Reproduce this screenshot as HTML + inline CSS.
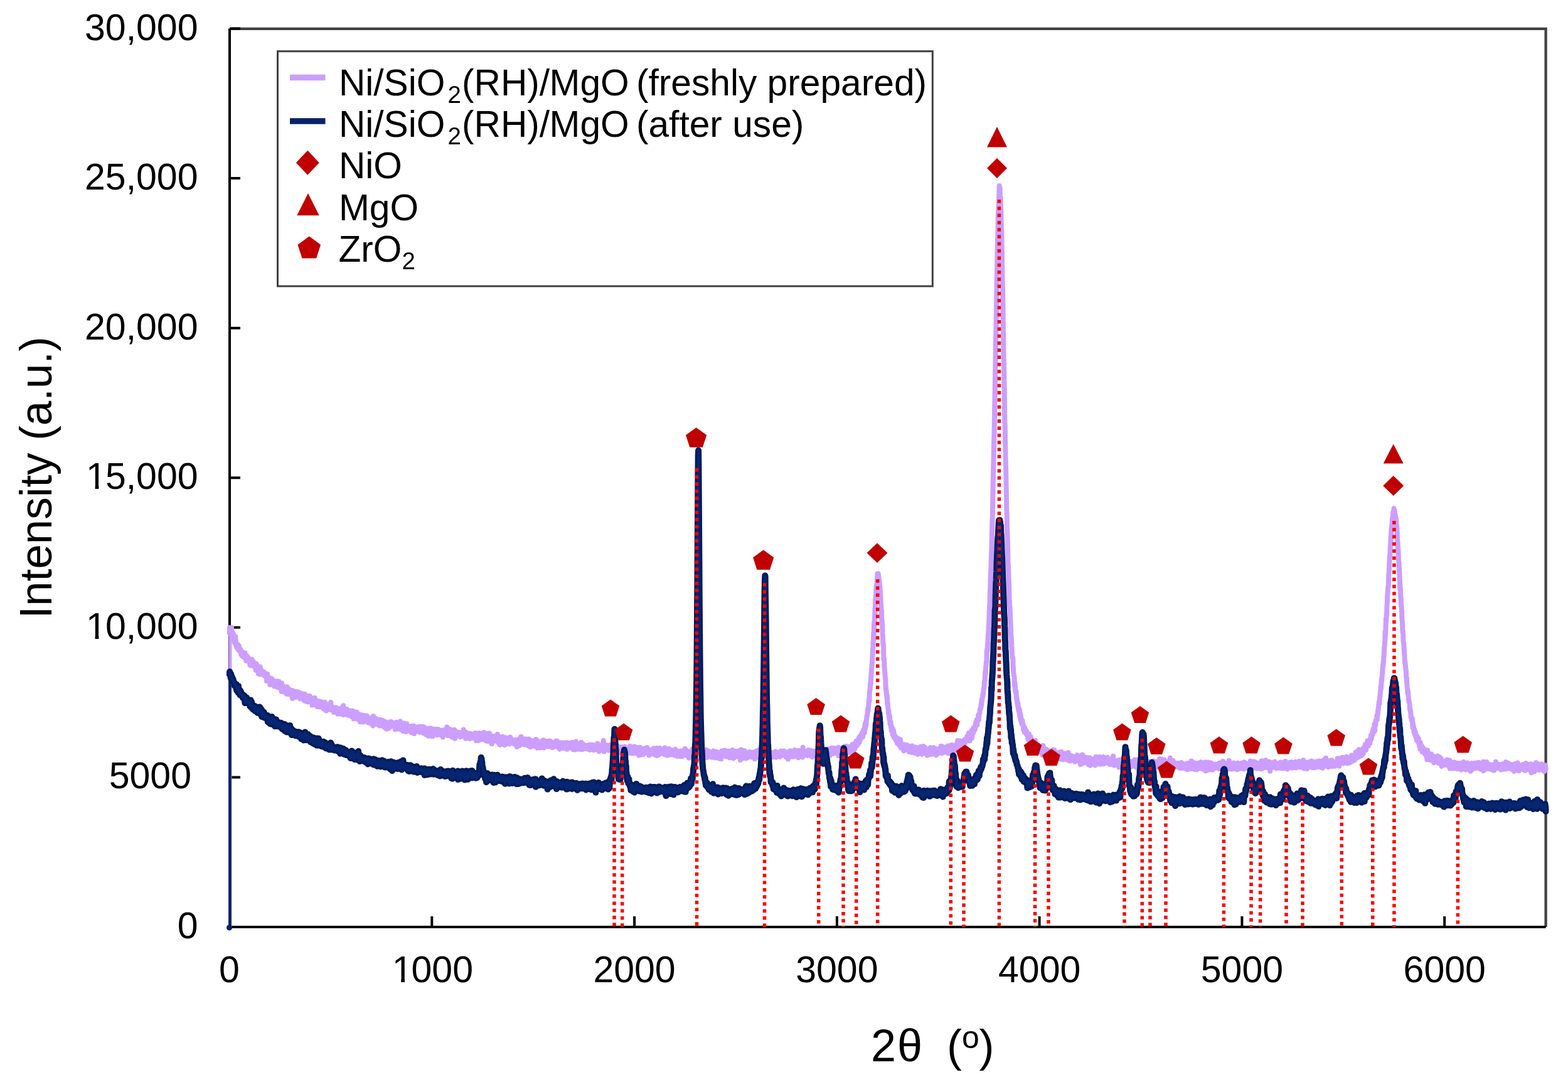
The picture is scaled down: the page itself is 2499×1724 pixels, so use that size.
<!DOCTYPE html><html><head><meta charset="utf-8"><style>html,body{margin:0;padding:0;background:#fff;overflow:hidden;}svg{display:block;}</style></head><body><svg width="2499" height="1724" viewBox="0 0 2499 1724">
<rect width="100%" height="100%" fill="#ffffff"/>
<path d="M366,45.8 H2463.6 V1477" fill="none" stroke="#424242" stroke-width="4.3"/>
<path d="M366,45.5 V1477 H2463.6" fill="none" stroke="#000" stroke-width="4"/>
<path d="M366,1477.0 H383 M366,1238.4 H383 M366,999.8 H383 M366,761.2 H383 M366,522.7 H383 M366,284.1 H383 M366,45.5 H383 M688.3,1477 V1460 M1011.1,1477 V1460 M1333.9,1477 V1460 M1656.6,1477 V1460 M1979.4,1477 V1460 M2302.2,1477 V1460" stroke="#000" stroke-width="4" fill="none"/>
<line x1="367" y1="1477" x2="367" y2="1008.6" stroke="#CC9EFF" stroke-width="5"/>
<polyline fill="none" stroke="#CC9EFF" stroke-width="8" stroke-linejoin="round" stroke-linecap="round" points="365.8,1008.6 366.1,999.9 366.5,1006.8 366.8,1004.8 367.1,1004.2 367.4,1006.4 367.8,1009.0 368.1,1003.2 368.4,1004.9 368.7,1013.1 369.1,1000.0 369.4,1005.2 369.7,1011.5 370.0,1006.9 370.3,1012.0 370.7,1011.4 371.0,1009.4 371.3,1016.8 371.6,1011.8 372.0,1010.0 372.3,1011.1 372.6,1017.1 372.9,1014.1 373.2,1022.9 373.6,1019.1 373.9,1018.0 374.2,1024.5 374.5,1021.3 374.9,1016.3 375.2,1014.3 375.5,1020.8 375.8,1021.4 376.2,1027.7 376.5,1029.3 376.8,1030.6 377.1,1025.2 377.4,1025.3 377.8,1030.4 378.1,1032.9 378.4,1029.0 378.7,1029.3 379.1,1031.2 379.4,1027.2 379.7,1032.0 380.0,1032.3 380.3,1036.0 380.7,1032.6 381.0,1029.2 381.3,1033.7 381.6,1034.1 382.0,1033.4 382.3,1034.4 382.6,1034.0 382.9,1034.5 383.3,1034.7 383.6,1039.5 383.9,1036.5 384.2,1042.9 384.5,1037.5 384.9,1042.7 385.2,1039.4 385.5,1038.1 385.8,1041.3 386.2,1040.0 386.5,1045.8 386.8,1043.8 387.1,1039.3 387.4,1045.4 387.8,1040.2 388.1,1046.9 388.4,1045.8 388.7,1046.7 389.1,1043.7 389.4,1042.5 389.7,1047.8 390.0,1045.4 390.4,1040.2 390.7,1046.6 391.0,1048.5 391.3,1045.2 391.6,1047.4 392.0,1049.2 392.3,1052.9 392.6,1045.2 392.9,1049.9 393.3,1048.4 393.6,1052.1 393.9,1045.2 394.2,1047.2 394.6,1046.8 394.9,1050.5 395.2,1049.1 395.5,1048.2 395.8,1048.1 396.2,1050.6 396.5,1052.1 396.8,1053.4 397.1,1054.9 397.5,1055.8 397.8,1052.0 398.1,1054.2 398.4,1059.8 398.7,1054.4 399.1,1051.0 399.4,1055.3 399.7,1060.4 400.0,1055.4 400.4,1052.9 400.7,1055.0 401.0,1057.1 401.3,1050.5 401.7,1050.6 402.0,1056.9 402.3,1054.4 402.6,1056.0 402.9,1055.1 403.3,1053.3 403.6,1055.5 403.9,1058.0 404.2,1060.6 404.6,1061.4 404.9,1059.3 405.2,1056.0 405.5,1058.9 405.8,1059.9 406.2,1059.6 406.5,1060.6 406.8,1059.4 407.1,1064.7 407.5,1067.6 407.8,1063.2 408.1,1065.7 408.4,1057.6 408.8,1063.3 409.1,1063.9 409.4,1068.1 409.7,1062.9 410.0,1065.9 410.4,1060.9 410.7,1062.0 411.0,1067.2 411.3,1063.9 411.7,1073.6 412.0,1067.7 412.3,1062.2 412.6,1063.8 412.9,1065.9 413.3,1066.8 413.6,1071.3 413.9,1071.4 414.2,1066.9 414.6,1062.5 414.9,1074.6 415.2,1066.5 415.5,1066.8 415.9,1066.0 416.2,1071.8 416.5,1071.2 416.8,1069.8 417.1,1073.4 417.5,1074.4 417.8,1073.7 418.1,1071.7 418.4,1070.7 418.8,1072.3 419.1,1072.4 419.4,1075.0 419.7,1075.5 420.1,1070.4 420.4,1074.3 420.7,1074.7 421.0,1072.1 421.3,1071.5 421.7,1071.8 422.0,1074.8 422.3,1076.5 422.6,1075.8 423.0,1076.5 423.3,1073.2 423.6,1076.8 423.9,1076.1 424.2,1078.4 424.6,1074.6 424.9,1085.1 425.2,1078.2 425.5,1077.5 425.9,1083.5 426.2,1074.0 426.5,1081.2 426.8,1081.5 427.2,1084.6 427.5,1079.1 427.8,1081.4 428.1,1084.1 428.4,1082.1 428.8,1081.0 429.1,1079.7 429.4,1082.9 429.7,1086.6 430.1,1085.6 430.4,1091.0 430.7,1086.6 431.0,1082.5 431.3,1083.5 431.7,1085.4 432.0,1086.4 432.3,1080.9 432.6,1085.0 433.0,1083.4 433.3,1085.1 433.6,1088.5 433.9,1082.2 434.3,1090.6 434.6,1090.7 434.9,1088.7 435.2,1089.8 435.5,1089.4 435.9,1089.8 436.2,1085.3 436.5,1088.2 436.8,1087.5 437.2,1093.4 437.5,1091.4 437.8,1086.0 438.1,1092.8 438.4,1086.1 438.8,1092.7 439.1,1089.0 439.4,1092.5 439.7,1089.7 440.1,1093.1 440.4,1091.4 440.7,1086.0 441.0,1092.1 441.4,1085.3 441.7,1092.7 442.0,1095.0 442.3,1091.6 442.6,1093.2 443.0,1087.0 443.3,1089.8 443.6,1089.1 443.9,1090.9 444.3,1085.7 444.6,1090.8 444.9,1091.7 445.2,1095.9 445.6,1096.3 445.9,1093.3 446.2,1091.1 446.5,1091.0 446.8,1097.1 447.2,1093.1 447.5,1094.2 447.8,1098.2 448.1,1093.7 448.5,1101.9 448.8,1094.8 449.1,1088.6 449.4,1098.9 449.7,1096.0 450.1,1101.8 450.4,1098.7 450.7,1094.5 451.0,1099.9 451.4,1097.1 451.7,1098.3 452.0,1098.5 452.3,1097.1 452.7,1096.4 453.0,1094.4 453.3,1095.7 453.6,1099.9 453.9,1094.3 454.3,1095.0 454.6,1103.3 454.9,1097.0 455.2,1096.6 455.6,1096.4 455.9,1097.7 456.2,1103.2 456.5,1100.4 456.8,1105.8 457.2,1100.4 457.5,1094.2 457.8,1098.2 458.1,1097.9 458.5,1102.0 458.8,1103.6 459.1,1103.9 459.4,1100.6 459.8,1103.4 460.1,1103.1 460.4,1098.1 460.7,1106.3 461.0,1105.5 461.4,1103.3 461.7,1102.3 462.0,1102.5 462.3,1106.4 462.7,1101.9 463.0,1103.0 463.3,1101.7 463.6,1106.0 463.9,1102.3 464.3,1102.6 464.6,1105.3 464.9,1104.1 465.2,1105.3 465.6,1099.9 465.9,1113.0 466.2,1108.3 466.5,1109.2 466.9,1105.5 467.2,1106.5 467.5,1105.9 467.8,1102.8 468.1,1109.7 468.5,1107.6 468.8,1105.9 469.1,1108.9 469.4,1104.5 469.8,1104.8 470.1,1107.9 470.4,1111.2 470.7,1101.5 471.1,1104.9 471.4,1105.2 471.7,1106.4 472.0,1106.8 472.3,1104.5 472.7,1107.1 473.0,1109.0 473.3,1105.3 473.6,1107.3 474.0,1109.9 474.3,1110.4 474.6,1104.6 474.9,1106.3 475.2,1102.5 475.6,1109.9 475.9,1110.7 476.2,1107.5 476.5,1104.8 476.9,1107.2 477.2,1107.9 477.5,1103.8 477.8,1111.6 478.2,1113.2 478.5,1111.8 478.8,1110.7 479.1,1108.8 479.4,1107.0 479.8,1108.9 480.1,1105.8 480.4,1112.7 480.7,1104.9 481.1,1112.9 481.4,1107.3 481.7,1113.5 482.0,1109.9 482.3,1110.9 482.7,1109.6 483.0,1109.0 483.3,1112.0 483.6,1111.6 484.0,1110.9 484.3,1115.5 484.6,1113.9 484.9,1116.6 485.3,1112.0 485.6,1105.7 485.9,1110.1 486.2,1114.9 486.5,1114.5 486.9,1109.7 487.2,1114.1 487.5,1117.5 487.8,1115.9 488.2,1116.1 488.5,1116.1 488.8,1111.3 489.1,1113.1 489.4,1117.8 489.8,1115.1 490.1,1117.0 490.4,1117.3 490.7,1118.3 491.1,1109.0 491.4,1115.1 491.7,1112.7 492.0,1112.0 492.4,1115.7 492.7,1113.2 493.0,1113.3 493.3,1114.4 493.6,1108.9 494.0,1114.5 494.3,1116.2 494.6,1113.8 494.9,1110.6 495.3,1113.1 495.6,1117.5 495.9,1118.7 496.2,1119.1 496.6,1118.5 496.9,1115.6 497.2,1114.4 497.5,1123.6 497.8,1117.2 498.2,1120.5 498.5,1115.5 498.8,1114.9 499.1,1120.0 499.5,1119.2 499.8,1120.8 500.1,1117.0 500.4,1123.0 500.7,1121.7 501.1,1120.6 501.4,1115.2 501.7,1111.9 502.0,1119.0 502.4,1122.8 502.7,1119.1 503.0,1122.0 503.3,1118.3 503.7,1123.0 504.0,1121.0 504.3,1120.1 504.6,1118.7 504.9,1120.5 505.3,1116.8 505.6,1120.2 505.9,1126.0 506.2,1118.2 506.6,1121.8 506.9,1123.1 507.2,1116.9 507.5,1124.3 507.8,1121.3 508.2,1123.8 508.5,1117.9 508.8,1123.0 509.1,1121.4 509.5,1126.3 509.8,1118.2 510.1,1125.6 510.4,1120.0 510.8,1119.6 511.1,1119.3 511.4,1117.8 511.7,1126.6 512.0,1122.2 512.4,1123.1 512.7,1122.4 513.0,1120.6 513.3,1123.6 513.7,1126.4 514.0,1124.4 514.3,1119.8 514.6,1127.8 514.9,1124.3 515.3,1127.5 515.6,1121.6 515.9,1129.7 516.2,1126.1 516.6,1125.5 516.9,1124.9 517.2,1118.5 517.5,1120.9 517.9,1128.5 518.2,1119.4 518.5,1129.2 518.8,1131.2 519.1,1130.3 519.5,1125.4 519.8,1124.6 520.1,1132.6 520.4,1125.0 520.8,1127.2 521.1,1124.4 521.4,1127.7 521.7,1124.1 522.1,1125.1 522.4,1130.3 522.7,1122.8 523.0,1126.4 523.3,1125.0 523.7,1123.6 524.0,1130.2 524.3,1127.7 524.6,1129.9 525.0,1130.3 525.3,1126.9 525.6,1126.8 525.9,1124.0 526.2,1124.0 526.6,1128.1 526.9,1130.6 527.2,1119.0 527.5,1122.1 527.9,1128.8 528.2,1131.2 528.5,1129.9 528.8,1127.9 529.2,1125.5 529.5,1126.1 529.8,1127.7 530.1,1129.8 530.4,1128.7 530.8,1130.1 531.1,1129.1 531.4,1129.7 531.7,1128.0 532.1,1135.1 532.4,1130.7 532.7,1130.6 533.0,1133.1 533.3,1130.4 533.7,1133.1 534.0,1132.0 534.3,1131.0 534.6,1131.0 535.0,1132.0 535.3,1127.3 535.6,1130.0 535.9,1129.7 536.3,1130.0 536.6,1132.7 536.9,1133.5 537.2,1128.5 537.5,1132.1 537.9,1136.3 538.2,1137.6 538.5,1130.7 538.8,1133.6 539.2,1131.7 539.5,1133.2 539.8,1132.9 540.1,1132.3 540.4,1135.5 540.8,1132.0 541.1,1129.2 541.4,1130.1 541.7,1137.2 542.1,1136.2 542.4,1136.2 542.7,1133.2 543.0,1130.1 543.4,1131.7 543.7,1137.8 544.0,1132.6 544.3,1130.5 544.6,1134.3 545.0,1127.5 545.3,1135.0 545.6,1129.8 545.9,1126.5 546.3,1137.1 546.6,1134.4 546.9,1131.9 547.2,1124.3 547.6,1138.9 547.9,1132.2 548.2,1133.1 548.5,1135.2 548.8,1136.5 549.2,1135.7 549.5,1135.1 549.8,1138.0 550.1,1129.8 550.5,1137.7 550.8,1135.8 551.1,1136.6 551.4,1135.9 551.7,1134.6 552.1,1137.1 552.4,1135.7 552.7,1130.1 553.0,1132.1 553.4,1136.1 553.7,1132.7 554.0,1137.7 554.3,1134.9 554.7,1139.7 555.0,1139.0 555.3,1138.3 555.6,1132.3 555.9,1135.3 556.3,1134.4 556.6,1135.7 556.9,1135.1 557.2,1135.1 557.6,1134.1 557.9,1136.0 558.2,1139.2 558.5,1138.9 558.8,1133.2 559.2,1132.7 559.5,1135.2 559.8,1141.7 560.1,1132.5 560.5,1136.2 560.8,1137.5 561.1,1137.3 561.4,1138.6 561.8,1132.5 562.1,1132.8 562.4,1140.9 562.7,1138.5 563.0,1137.2 563.4,1134.5 563.7,1145.3 564.0,1135.7 564.3,1133.7 564.7,1139.6 565.0,1138.9 565.3,1135.3 565.6,1137.9 565.9,1143.0 566.3,1142.6 566.6,1142.3 566.9,1143.6 567.2,1139.6 567.6,1141.2 567.9,1139.7 568.2,1137.9 568.5,1134.8 568.9,1139.5 569.2,1145.7 569.5,1136.3 569.8,1140.8 570.1,1137.2 570.5,1142.0 570.8,1139.9 571.1,1141.3 571.4,1141.1 571.8,1137.5 572.1,1143.2 572.4,1140.9 572.7,1140.9 573.1,1142.7 573.4,1148.1 573.7,1140.8 574.0,1150.2 574.3,1146.4 574.7,1143.5 575.0,1141.0 575.3,1139.9 575.6,1140.1 576.0,1140.9 576.3,1143.8 576.6,1139.3 576.9,1143.7 577.2,1139.8 577.6,1149.7 577.9,1146.1 578.2,1145.1 578.5,1143.5 578.9,1150.6 579.2,1141.4 579.5,1141.0 579.8,1141.7 580.2,1145.6 580.5,1140.0 580.8,1145.9 581.1,1141.8 581.4,1144.7 581.8,1144.7 582.1,1145.2 582.4,1144.9 582.7,1141.7 583.1,1140.9 583.4,1141.0 583.7,1142.6 584.0,1143.4 584.3,1144.2 584.7,1140.5 585.0,1147.0 585.3,1147.6 585.6,1145.8 586.0,1150.9 586.3,1146.8 586.6,1146.4 586.9,1149.3 587.3,1148.1 587.6,1144.5 587.9,1147.3 588.2,1146.5 588.5,1143.9 588.9,1148.8 589.2,1150.4 589.5,1147.3 589.8,1146.1 590.2,1152.7 590.5,1145.6 590.8,1148.5 591.1,1148.9 591.4,1150.3 591.8,1148.5 592.1,1145.2 592.4,1146.6 592.7,1145.9 593.1,1149.4 593.4,1143.8 593.7,1144.9 594.0,1148.7 594.4,1156.4 594.7,1148.7 595.0,1141.0 595.3,1149.2 595.6,1152.2 596.0,1144.3 596.3,1151.2 596.6,1148.1 596.9,1147.4 597.3,1154.0 597.6,1149.5 597.9,1146.5 598.2,1151.0 598.6,1148.2 598.9,1150.3 599.2,1147.4 599.5,1145.1 599.8,1153.7 600.2,1151.5 600.5,1149.6 600.8,1152.6 601.1,1153.3 601.5,1151.9 601.8,1151.8 602.1,1153.0 602.4,1150.2 602.7,1148.9 603.1,1149.1 603.4,1149.4 603.7,1148.0 604.0,1155.5 604.4,1151.9 604.7,1151.1 605.0,1150.2 605.3,1156.5 605.7,1146.4 606.0,1154.5 606.3,1151.2 606.6,1149.9 606.9,1149.0 607.3,1154.2 607.6,1153.8 607.9,1151.3 608.2,1150.7 608.6,1149.8 608.9,1152.7 609.2,1154.6 609.5,1156.6 609.8,1147.7 610.2,1156.8 610.5,1150.9 610.8,1152.2 611.1,1150.8 611.5,1150.3 611.8,1149.3 612.1,1153.4 612.4,1152.2 612.8,1159.1 613.1,1153.3 613.4,1156.2 613.7,1154.1 614.0,1150.1 614.4,1153.4 614.7,1150.7 615.0,1154.5 615.3,1152.8 615.7,1155.2 616.0,1161.5 616.3,1156.2 616.6,1155.0 616.9,1153.9 617.3,1154.4 617.6,1154.8 617.9,1151.8 618.2,1152.8 618.6,1155.8 618.9,1152.2 619.2,1160.6 619.5,1155.7 619.9,1155.4 620.2,1151.2 620.5,1156.6 620.8,1159.4 621.1,1154.7 621.5,1150.3 621.8,1155.9 622.1,1155.6 622.4,1156.0 622.8,1155.3 623.1,1151.7 623.4,1149.9 623.7,1154.3 624.1,1156.0 624.4,1150.4 624.7,1155.5 625.0,1155.7 625.3,1157.0 625.7,1156.9 626.0,1155.3 626.3,1156.9 626.6,1154.9 627.0,1155.9 627.3,1154.7 627.6,1157.4 627.9,1157.0 628.2,1155.7 628.6,1156.3 628.9,1156.3 629.2,1153.2 629.5,1159.8 629.9,1162.4 630.2,1154.7 630.5,1157.5 630.8,1153.0 631.2,1157.2 631.5,1160.4 631.8,1150.7 632.1,1156.0 632.4,1158.5 632.8,1159.4 633.1,1155.7 633.4,1159.3 633.7,1156.3 634.1,1154.1 634.4,1161.6 634.7,1158.6 635.0,1156.3 635.3,1152.9 635.7,1155.1 636.0,1159.2 636.3,1153.7 636.6,1159.0 637.0,1158.5 637.3,1157.0 637.6,1161.3 637.9,1149.3 638.3,1154.8 638.6,1157.7 638.9,1160.0 639.2,1161.8 639.5,1157.4 639.9,1156.5 640.2,1159.8 640.5,1159.2 640.8,1157.1 641.2,1158.9 641.5,1164.2 641.8,1156.9 642.1,1158.2 642.4,1156.8 642.8,1161.2 643.1,1165.2 643.4,1162.7 643.7,1158.3 644.1,1153.1 644.4,1152.4 644.7,1158.4 645.0,1163.5 645.4,1160.3 645.7,1158.1 646.0,1158.2 646.3,1159.2 646.6,1155.7 647.0,1162.2 647.3,1165.9 647.6,1162.2 647.9,1163.1 648.3,1153.3 648.6,1160.4 648.9,1164.0 649.2,1158.1 649.6,1157.1 649.9,1159.9 650.2,1159.5 650.5,1157.1 650.8,1158.7 651.2,1162.2 651.5,1158.5 651.8,1157.6 652.1,1159.4 652.5,1157.9 652.8,1158.7 653.1,1161.2 653.4,1161.0 653.7,1158.8 654.1,1162.2 654.4,1157.3 654.7,1157.2 655.0,1166.7 655.4,1161.0 655.7,1163.0 656.0,1162.8 656.3,1160.5 656.7,1161.5 657.0,1159.4 657.3,1160.2 657.6,1160.1 657.9,1163.5 658.3,1162.3 658.6,1157.1 658.9,1168.5 659.2,1156.4 659.6,1163.1 659.9,1158.1 660.2,1169.0 660.5,1162.8 660.8,1159.1 661.2,1161.2 661.5,1158.8 661.8,1164.3 662.1,1163.4 662.5,1163.7 662.8,1160.4 663.1,1160.6 663.4,1162.3 663.8,1162.8 664.1,1162.9 664.4,1161.8 664.7,1164.9 665.0,1162.3 665.4,1162.6 665.7,1163.8 666.0,1164.0 666.3,1158.1 666.7,1164.2 667.0,1161.2 667.3,1158.5 667.6,1160.4 667.9,1162.5 668.3,1159.7 668.6,1166.8 668.9,1166.3 669.2,1163.9 669.6,1163.4 669.9,1163.1 670.2,1157.4 670.5,1158.0 670.9,1163.1 671.2,1162.3 671.5,1165.7 671.8,1162.2 672.1,1167.0 672.5,1159.1 672.8,1164.7 673.1,1161.7 673.4,1167.1 673.8,1159.3 674.1,1161.6 674.4,1157.8 674.7,1163.3 675.1,1168.2 675.4,1165.8 675.7,1167.3 676.0,1159.1 676.3,1165.5 676.7,1165.9 677.0,1162.1 677.3,1163.1 677.6,1162.4 678.0,1165.4 678.3,1169.8 678.6,1168.0 678.9,1170.4 679.2,1160.4 679.6,1161.5 679.9,1165.3 680.2,1162.4 680.5,1162.3 680.9,1162.5 681.2,1162.8 681.5,1161.8 681.8,1164.2 682.2,1170.9 682.5,1172.6 682.8,1160.9 683.1,1162.9 683.4,1172.0 683.8,1164.2 684.1,1167.3 684.4,1166.4 684.7,1172.4 685.1,1162.7 685.4,1165.2 685.7,1162.6 686.0,1161.9 686.3,1161.3 686.7,1160.3 687.0,1164.3 687.3,1164.6 687.6,1167.1 688.0,1163.8 688.3,1166.0 688.6,1168.8 688.9,1162.0 689.3,1163.4 689.6,1173.3 689.9,1171.0 690.2,1166.3 690.5,1169.6 690.9,1162.1 691.2,1165.2 691.5,1164.1 691.8,1163.1 692.2,1162.0 692.5,1166.7 692.8,1164.1 693.1,1165.3 693.4,1163.7 693.8,1164.5 694.1,1162.0 694.4,1164.6 694.7,1167.6 695.1,1165.9 695.4,1169.6 695.7,1165.4 696.0,1162.0 696.4,1168.2 696.7,1171.3 697.0,1166.8 697.3,1168.1 697.6,1166.6 698.0,1168.4 698.3,1166.5 698.6,1169.7 698.9,1162.3 699.3,1167.5 699.6,1165.4 699.9,1164.7 700.2,1167.4 700.6,1165.7 700.9,1167.8 701.2,1168.4 701.5,1167.8 701.8,1165.8 702.2,1170.9 702.5,1169.9 702.8,1169.7 703.1,1169.0 703.5,1164.0 703.8,1167.5 704.1,1168.4 704.4,1167.1 704.7,1164.5 705.1,1169.8 705.4,1164.7 705.7,1174.5 706.0,1170.3 706.4,1163.5 706.7,1163.3 707.0,1167.3 707.3,1169.1 707.7,1165.5 708.0,1169.2 708.3,1163.5 708.6,1164.6 708.9,1165.9 709.3,1170.6 709.6,1165.3 709.9,1168.9 710.2,1168.9 710.6,1169.5 710.9,1168.7 711.2,1166.9 711.5,1166.0 711.8,1166.0 712.2,1158.6 712.5,1169.5 712.8,1165.2 713.1,1170.5 713.5,1169.2 713.8,1172.1 714.1,1165.2 714.4,1168.0 714.8,1168.4 715.1,1169.2 715.4,1166.2 715.7,1170.4 716.0,1167.8 716.4,1161.7 716.7,1169.5 717.0,1170.9 717.3,1172.1 717.7,1166.8 718.0,1169.0 718.3,1171.4 718.6,1171.7 718.9,1169.2 719.3,1172.3 719.6,1163.3 719.9,1170.0 720.2,1170.0 720.6,1169.8 720.9,1174.8 721.2,1173.8 721.5,1170.7 721.9,1169.7 722.2,1173.3 722.5,1164.8 722.8,1168.4 723.1,1166.0 723.5,1166.4 723.8,1170.5 724.1,1162.8 724.4,1169.5 724.8,1175.4 725.1,1176.8 725.4,1170.0 725.7,1167.5 726.1,1169.8 726.4,1165.0 726.7,1171.0 727.0,1168.5 727.3,1168.0 727.7,1173.2 728.0,1169.3 728.3,1169.2 728.6,1167.1 729.0,1166.8 729.3,1167.5 729.6,1172.6 729.9,1168.3 730.2,1167.3 730.6,1170.4 730.9,1168.3 731.2,1168.3 731.5,1167.2 731.9,1170.4 732.2,1169.3 732.5,1170.1 732.8,1170.5 733.2,1172.5 733.5,1171.8 733.8,1174.1 734.1,1171.4 734.4,1168.9 734.8,1169.1 735.1,1168.8 735.4,1171.3 735.7,1167.0 736.1,1172.4 736.4,1168.9 736.7,1169.9 737.0,1173.3 737.3,1173.2 737.7,1169.1 738.0,1171.1 738.3,1170.5 738.6,1162.4 739.0,1169.7 739.3,1171.0 739.6,1169.3 739.9,1173.2 740.3,1172.0 740.6,1170.2 740.9,1173.9 741.2,1171.6 741.5,1172.1 741.9,1171.3 742.2,1176.8 742.5,1166.5 742.8,1172.0 743.2,1170.1 743.5,1174.8 743.8,1175.6 744.1,1171.8 744.4,1172.8 744.8,1170.0 745.1,1174.6 745.4,1174.8 745.7,1171.0 746.1,1170.0 746.4,1169.4 746.7,1172.2 747.0,1171.3 747.4,1174.4 747.7,1168.4 748.0,1168.9 748.3,1169.0 748.6,1176.9 749.0,1169.8 749.3,1174.5 749.6,1170.9 749.9,1171.2 750.3,1168.9 750.6,1173.0 750.9,1173.5 751.2,1175.5 751.6,1176.0 751.9,1170.9 752.2,1175.3 752.5,1170.7 752.8,1173.8 753.2,1174.4 753.5,1170.0 753.8,1170.3 754.1,1175.7 754.5,1173.4 754.8,1172.9 755.1,1171.0 755.4,1175.1 755.7,1174.2 756.1,1173.4 756.4,1171.1 756.7,1170.5 757.0,1174.7 757.4,1168.1 757.7,1172.0 758.0,1175.5 758.3,1177.8 758.7,1174.8 759.0,1180.2 759.3,1172.8 759.6,1171.8 759.9,1169.8 760.3,1172.0 760.6,1178.5 760.9,1174.4 761.2,1171.6 761.6,1180.0 761.9,1176.1 762.2,1172.0 762.5,1173.7 762.8,1179.7 763.2,1175.4 763.5,1174.0 763.8,1168.1 764.1,1175.4 764.5,1176.8 764.8,1173.5 765.1,1173.3 765.4,1172.7 765.8,1170.2 766.1,1174.6 766.4,1178.4 766.7,1174.4 767.0,1174.5 767.4,1171.8 767.7,1172.2 768.0,1176.9 768.3,1172.6 768.7,1171.9 769.0,1175.4 769.3,1172.2 769.6,1174.5 769.9,1174.5 770.3,1175.5 770.6,1172.8 770.9,1166.9 771.2,1174.6 771.6,1178.7 771.9,1176.0 772.2,1177.1 772.5,1174.5 772.9,1175.9 773.2,1168.2 773.5,1173.4 773.8,1170.3 774.1,1177.7 774.5,1176.4 774.8,1169.8 775.1,1180.7 775.4,1175.5 775.8,1180.4 776.1,1171.6 776.4,1180.2 776.7,1177.0 777.1,1176.7 777.4,1181.1 777.7,1169.1 778.0,1176.8 778.3,1171.6 778.7,1178.4 779.0,1180.7 779.3,1175.9 779.6,1176.0 780.0,1168.2 780.3,1179.8 780.6,1181.3 780.9,1178.9 781.2,1176.0 781.6,1175.3 781.9,1179.1 782.2,1178.0 782.5,1175.5 782.9,1174.0 783.2,1178.9 783.5,1176.9 783.8,1185.3 784.2,1180.2 784.5,1176.2 784.8,1177.5 785.1,1178.0 785.4,1172.9 785.8,1178.4 786.1,1180.8 786.4,1177.1 786.7,1177.2 787.1,1181.1 787.4,1175.0 787.7,1173.0 788.0,1179.7 788.3,1180.6 788.7,1178.3 789.0,1174.5 789.3,1179.8 789.6,1180.3 790.0,1180.0 790.3,1177.6 790.6,1177.8 790.9,1178.9 791.3,1175.0 791.6,1172.0 791.9,1180.3 792.2,1175.6 792.5,1177.9 792.9,1170.0 793.2,1181.3 793.5,1179.8 793.8,1178.6 794.2,1183.1 794.5,1179.6 794.8,1177.0 795.1,1183.3 795.4,1178.8 795.8,1174.0 796.1,1181.0 796.4,1181.9 796.7,1186.7 797.1,1179.7 797.4,1184.2 797.7,1177.9 798.0,1174.8 798.4,1178.0 798.7,1182.0 799.0,1177.8 799.3,1181.1 799.6,1183.1 800.0,1181.3 800.3,1179.2 800.6,1181.0 800.9,1178.4 801.3,1173.8 801.6,1178.2 801.9,1177.8 802.2,1182.0 802.6,1176.2 802.9,1179.1 803.2,1177.2 803.5,1182.4 803.8,1179.5 804.2,1187.0 804.5,1181.3 804.8,1182.7 805.1,1183.2 805.5,1175.3 805.8,1184.8 806.1,1180.8 806.4,1180.8 806.7,1178.9 807.1,1177.5 807.4,1185.1 807.7,1182.1 808.0,1182.6 808.4,1178.5 808.7,1177.9 809.0,1181.8 809.3,1182.2 809.7,1183.6 810.0,1179.6 810.3,1175.9 810.6,1179.6 810.9,1182.8 811.3,1183.2 811.6,1182.9 811.9,1185.6 812.2,1175.8 812.6,1180.7 812.9,1181.9 813.2,1174.5 813.5,1180.3 813.8,1176.7 814.2,1180.2 814.5,1177.9 814.8,1180.9 815.1,1182.2 815.5,1179.9 815.8,1179.1 816.1,1178.0 816.4,1180.6 816.8,1181.9 817.1,1182.3 817.4,1180.4 817.7,1182.7 818.0,1182.3 818.4,1179.8 818.7,1179.7 819.0,1179.9 819.3,1183.6 819.7,1185.6 820.0,1180.7 820.3,1181.2 820.6,1182.6 820.9,1180.9 821.3,1179.1 821.6,1182.2 821.9,1180.5 822.2,1184.5 822.6,1182.3 822.9,1184.1 823.2,1185.9 823.5,1180.5 823.9,1190.0 824.2,1182.0 824.5,1179.6 824.8,1180.7 825.1,1186.4 825.5,1181.2 825.8,1187.2 826.1,1184.5 826.4,1177.8 826.8,1181.5 827.1,1178.6 827.4,1185.2 827.7,1188.1 828.1,1184.3 828.4,1178.4 828.7,1179.5 829.0,1179.1 829.3,1182.6 829.7,1182.5 830.0,1182.8 830.3,1173.8 830.6,1182.0 831.0,1177.2 831.3,1182.8 831.6,1178.3 831.9,1185.5 832.2,1183.9 832.6,1181.4 832.9,1184.1 833.2,1183.6 833.5,1182.9 833.9,1184.1 834.2,1178.0 834.5,1179.3 834.8,1186.6 835.2,1177.6 835.5,1182.7 835.8,1182.7 836.1,1183.1 836.4,1180.1 836.8,1180.6 837.1,1184.2 837.4,1182.6 837.7,1186.6 838.1,1177.4 838.4,1185.3 838.7,1185.4 839.0,1184.9 839.3,1182.5 839.7,1180.7 840.0,1184.0 840.3,1182.9 840.6,1184.0 841.0,1179.2 841.3,1182.4 841.6,1188.0 841.9,1178.8 842.3,1182.1 842.6,1177.5 842.9,1184.9 843.2,1184.6 843.5,1183.7 843.9,1187.3 844.2,1184.3 844.5,1179.6 844.8,1181.2 845.2,1190.3 845.5,1179.6 845.8,1182.3 846.1,1181.0 846.4,1183.3 846.8,1182.9 847.1,1183.3 847.4,1183.3 847.7,1186.5 848.1,1180.5 848.4,1182.9 848.7,1182.4 849.0,1182.6 849.4,1184.5 849.7,1183.8 850.0,1187.5 850.3,1182.9 850.6,1182.9 851.0,1184.4 851.3,1188.7 851.6,1179.9 851.9,1184.3 852.3,1183.9 852.6,1184.7 852.9,1185.6 853.2,1185.1 853.6,1187.1 853.9,1185.6 854.2,1178.0 854.5,1180.6 854.8,1178.2 855.2,1185.8 855.5,1189.5 855.8,1188.0 856.1,1191.8 856.5,1181.0 856.8,1180.6 857.1,1183.9 857.4,1183.1 857.7,1183.2 858.1,1184.6 858.4,1182.2 858.7,1187.2 859.0,1185.6 859.4,1184.8 859.7,1189.3 860.0,1187.3 860.3,1183.2 860.7,1183.4 861.0,1191.6 861.3,1181.8 861.6,1183.5 861.9,1182.3 862.3,1184.8 862.6,1182.9 862.9,1188.4 863.2,1185.3 863.6,1187.8 863.9,1186.2 864.2,1181.3 864.5,1180.0 864.8,1184.7 865.2,1186.1 865.5,1182.5 865.8,1183.5 866.1,1179.3 866.5,1183.1 866.8,1191.7 867.1,1184.8 867.4,1185.9 867.8,1187.3 868.1,1184.6 868.4,1184.9 868.7,1186.1 869.0,1180.7 869.4,1184.0 869.7,1183.9 870.0,1184.7 870.3,1181.6 870.7,1188.4 871.0,1181.7 871.3,1185.9 871.6,1181.0 871.9,1181.2 872.3,1183.9 872.6,1186.7 872.9,1184.5 873.2,1184.4 873.6,1189.6 873.9,1186.4 874.2,1187.5 874.5,1181.5 874.9,1180.6 875.2,1187.6 875.5,1187.1 875.8,1189.4 876.1,1184.8 876.5,1183.3 876.8,1180.5 877.1,1189.4 877.4,1183.0 877.8,1186.2 878.1,1187.8 878.4,1186.8 878.7,1188.0 879.1,1184.5 879.4,1185.9 879.7,1182.4 880.0,1187.4 880.3,1191.3 880.7,1188.8 881.0,1185.0 881.3,1190.3 881.6,1188.2 882.0,1184.5 882.3,1190.0 882.6,1183.7 882.9,1185.1 883.2,1187.8 883.6,1186.3 883.9,1187.6 884.2,1187.4 884.5,1187.2 884.9,1186.2 885.2,1186.5 885.5,1188.5 885.8,1189.2 886.2,1180.4 886.5,1189.5 886.8,1186.8 887.1,1182.9 887.4,1183.6 887.8,1188.6 888.1,1180.7 888.4,1181.4 888.7,1187.4 889.1,1190.1 889.4,1184.7 889.7,1187.1 890.0,1187.5 890.3,1189.0 890.7,1188.4 891.0,1186.2 891.3,1184.1 891.6,1192.7 892.0,1193.6 892.3,1184.0 892.6,1189.2 892.9,1184.8 893.3,1186.5 893.6,1183.2 893.9,1184.2 894.2,1187.7 894.5,1187.4 894.9,1186.0 895.2,1184.8 895.5,1188.8 895.8,1191.4 896.2,1186.7 896.5,1187.2 896.8,1187.5 897.1,1190.0 897.4,1185.4 897.8,1192.1 898.1,1188.6 898.4,1183.4 898.7,1190.4 899.1,1186.0 899.4,1185.9 899.7,1186.0 900.0,1192.1 900.4,1184.4 900.7,1186.9 901.0,1185.9 901.3,1186.5 901.6,1187.2 902.0,1183.9 902.3,1183.3 902.6,1192.8 902.9,1189.7 903.3,1188.0 903.6,1193.8 903.9,1183.3 904.2,1189.8 904.6,1185.9 904.9,1187.0 905.2,1188.2 905.5,1190.5 905.8,1188.7 906.2,1187.4 906.5,1185.4 906.8,1188.3 907.1,1188.9 907.5,1188.5 907.8,1184.0 908.1,1187.0 908.4,1189.8 908.7,1191.5 909.1,1189.0 909.4,1190.5 909.7,1189.1 910.0,1184.0 910.4,1185.9 910.7,1187.3 911.0,1186.8 911.3,1183.0 911.7,1191.3 912.0,1186.8 912.3,1188.7 912.6,1187.7 912.9,1187.9 913.3,1189.1 913.6,1186.6 913.9,1194.4 914.2,1187.4 914.6,1186.3 914.9,1191.0 915.2,1191.1 915.5,1182.8 915.8,1190.9 916.2,1189.4 916.5,1190.6 916.8,1190.2 917.1,1190.3 917.5,1194.5 917.8,1181.6 918.1,1190.6 918.4,1187.4 918.8,1188.7 919.1,1184.7 919.4,1186.6 919.7,1185.3 920.0,1185.2 920.4,1186.2 920.7,1188.5 921.0,1186.0 921.3,1193.3 921.7,1186.1 922.0,1186.7 922.3,1187.8 922.6,1192.6 922.9,1184.9 923.3,1190.7 923.6,1187.0 923.9,1194.1 924.2,1189.3 924.6,1190.7 924.9,1191.1 925.2,1190.8 925.5,1183.8 925.9,1189.0 926.2,1187.9 926.5,1182.8 926.8,1193.1 927.1,1184.6 927.5,1190.1 927.8,1190.8 928.1,1190.2 928.4,1194.3 928.8,1193.5 929.1,1192.3 929.4,1190.7 929.7,1187.1 930.1,1186.0 930.4,1190.2 930.7,1188.1 931.0,1187.9 931.3,1189.9 931.7,1188.6 932.0,1190.9 932.3,1187.6 932.6,1189.9 933.0,1189.2 933.3,1188.6 933.6,1188.9 933.9,1191.4 934.2,1193.2 934.6,1189.6 934.9,1191.0 935.2,1190.9 935.5,1189.7 935.9,1191.5 936.2,1188.2 936.5,1188.3 936.8,1192.1 937.2,1188.4 937.5,1192.3 937.8,1187.5 938.1,1187.8 938.4,1189.6 938.8,1187.0 939.1,1186.7 939.4,1188.3 939.7,1194.9 940.1,1189.3 940.4,1189.1 940.7,1187.4 941.0,1192.5 941.3,1187.7 941.7,1188.7 942.0,1188.6 942.3,1193.4 942.6,1192.3 943.0,1186.5 943.3,1187.4 943.6,1190.1 943.9,1186.7 944.3,1189.1 944.6,1191.1 944.9,1194.5 945.2,1187.0 945.5,1190.4 945.9,1189.3 946.2,1195.2 946.5,1191.6 946.8,1189.2 947.2,1190.8 947.5,1192.2 947.8,1193.3 948.1,1189.5 948.4,1191.2 948.8,1191.1 949.1,1191.0 949.4,1192.0 949.7,1191.1 950.1,1192.0 950.4,1190.1 950.7,1194.2 951.0,1193.4 951.4,1190.2 951.7,1190.8 952.0,1189.9 952.3,1184.5 952.6,1188.2 953.0,1187.1 953.3,1189.2 953.6,1190.7 953.9,1192.7 954.3,1195.8 954.6,1194.5 954.9,1197.2 955.2,1193.7 955.6,1195.1 955.9,1193.3 956.2,1190.6 956.5,1191.7 956.8,1188.0 957.2,1188.0 957.5,1187.7 957.8,1188.1 958.1,1189.9 958.5,1192.1 958.8,1189.4 959.1,1191.4 959.4,1191.3 959.7,1189.5 960.1,1193.9 960.4,1195.4 960.7,1189.9 961.0,1185.7 961.4,1187.6 961.7,1180.1 962.0,1194.9 962.3,1192.8 962.7,1197.6 963.0,1193.5 963.3,1185.6 963.6,1186.4 963.9,1194.0 964.3,1192.1 964.6,1193.5 964.9,1195.1 965.2,1191.9 965.6,1192.2 965.9,1191.0 966.2,1190.6 966.5,1189.4 966.8,1187.4 967.2,1191.7 967.5,1192.1 967.8,1191.5 968.1,1190.2 968.5,1191.9 968.8,1194.4 969.1,1193.1 969.4,1189.5 969.8,1194.6 970.1,1189.4 970.4,1195.7 970.7,1190.0 971.0,1190.1 971.4,1192.5 971.7,1191.9 972.0,1192.6 972.3,1187.1 972.7,1193.2 973.0,1194.1 973.3,1191.0 973.6,1188.9 973.9,1191.1 974.3,1192.6 974.6,1189.2 974.9,1194.4 975.2,1194.5 975.6,1195.8 975.9,1188.8 976.2,1198.7 976.5,1196.1 976.9,1191.7 977.2,1191.3 977.5,1187.5 977.8,1191.3 978.1,1193.9 978.5,1188.6 978.8,1189.5 979.1,1189.3 979.4,1189.6 979.8,1191.2 980.1,1196.9 980.4,1195.8 980.7,1187.1 981.1,1192.7 981.4,1198.1 981.7,1192.7 982.0,1190.2 982.3,1191.8 982.7,1192.9 983.0,1199.7 983.3,1192.9 983.6,1193.5 984.0,1188.3 984.3,1193.1 984.6,1193.3 984.9,1194.5 985.2,1193.6 985.6,1192.5 985.9,1194.8 986.2,1195.9 986.5,1196.9 986.9,1193.1 987.2,1194.5 987.5,1194.4 987.8,1197.9 988.2,1195.9 988.5,1199.0 988.8,1190.9 989.1,1190.3 989.4,1192.5 989.8,1194.0 990.1,1192.4 990.4,1198.0 990.7,1197.6 991.1,1190.5 991.4,1196.9 991.7,1194.1 992.0,1195.9 992.3,1201.0 992.7,1196.0 993.0,1191.7 993.3,1190.3 993.6,1201.4 994.0,1198.7 994.3,1195.8 994.6,1191.4 994.9,1190.7 995.3,1189.7 995.6,1189.5 995.9,1195.6 996.2,1197.2 996.5,1191.8 996.9,1195.2 997.2,1194.4 997.5,1195.5 997.8,1195.7 998.2,1191.9 998.5,1197.5 998.8,1199.7 999.1,1196.7 999.4,1194.4 999.8,1195.6 1000.1,1195.2 1000.4,1200.5 1000.7,1197.4 1001.1,1191.8 1001.4,1195.4 1001.7,1196.9 1002.0,1191.8 1002.4,1196.7 1002.7,1192.9 1003.0,1194.5 1003.3,1194.0 1003.6,1192.2 1004.0,1188.7 1004.3,1191.6 1004.6,1197.7 1004.9,1198.5 1005.3,1196.3 1005.6,1195.9 1005.9,1193.4 1006.2,1195.4 1006.6,1194.9 1006.9,1200.4 1007.2,1195.7 1007.5,1194.1 1007.8,1190.7 1008.2,1193.4 1008.5,1195.4 1008.8,1199.1 1009.1,1195.8 1009.5,1195.7 1009.8,1196.2 1010.1,1195.3 1010.4,1194.4 1010.7,1194.5 1011.1,1189.4 1011.4,1198.7 1011.7,1200.4 1012.0,1194.8 1012.4,1199.5 1012.7,1196.5 1013.0,1196.2 1013.3,1198.3 1013.7,1193.7 1014.0,1194.2 1014.3,1195.6 1014.6,1194.3 1014.9,1193.6 1015.3,1197.0 1015.6,1194.4 1015.9,1195.7 1016.2,1196.1 1016.6,1197.5 1016.9,1191.1 1017.2,1195.2 1017.5,1200.3 1017.8,1194.8 1018.2,1203.6 1018.5,1195.5 1018.8,1194.1 1019.1,1192.2 1019.5,1195.7 1019.8,1198.4 1020.1,1190.7 1020.4,1193.4 1020.8,1192.7 1021.1,1197.1 1021.4,1194.6 1021.7,1201.5 1022.0,1195.1 1022.4,1202.5 1022.7,1199.5 1023.0,1200.7 1023.3,1193.2 1023.7,1193.9 1024.0,1198.3 1024.3,1193.0 1024.6,1196.4 1024.9,1202.3 1025.3,1197.7 1025.6,1201.6 1025.9,1196.5 1026.2,1195.6 1026.6,1198.8 1026.9,1194.4 1027.2,1193.7 1027.5,1199.3 1027.9,1195.1 1028.2,1197.1 1028.5,1197.6 1028.8,1191.9 1029.1,1198.9 1029.5,1197.9 1029.8,1197.0 1030.1,1195.2 1030.4,1194.6 1030.8,1199.6 1031.1,1192.9 1031.4,1191.6 1031.7,1191.1 1032.1,1196.5 1032.4,1198.4 1032.7,1200.1 1033.0,1196.0 1033.3,1197.2 1033.7,1197.2 1034.0,1198.8 1034.3,1203.5 1034.6,1197.9 1035.0,1197.6 1035.3,1198.2 1035.6,1201.2 1035.9,1197.9 1036.2,1197.6 1036.6,1200.4 1036.9,1195.3 1037.2,1197.3 1037.5,1196.8 1037.9,1196.1 1038.2,1198.0 1038.5,1197.5 1038.8,1195.7 1039.2,1195.1 1039.5,1194.7 1039.8,1197.8 1040.1,1195.1 1040.4,1194.0 1040.8,1201.4 1041.1,1198.5 1041.4,1197.5 1041.7,1197.4 1042.1,1192.2 1042.4,1194.0 1042.7,1197.8 1043.0,1197.8 1043.3,1201.5 1043.7,1200.3 1044.0,1193.6 1044.3,1202.5 1044.6,1195.7 1045.0,1199.6 1045.3,1198.4 1045.6,1197.8 1045.9,1192.3 1046.3,1196.6 1046.6,1196.1 1046.9,1194.7 1047.2,1204.1 1047.5,1192.2 1047.9,1202.5 1048.2,1199.7 1048.5,1195.7 1048.8,1201.3 1049.2,1202.8 1049.5,1194.3 1049.8,1198.6 1050.1,1195.0 1050.4,1196.3 1050.8,1198.3 1051.1,1192.9 1051.4,1198.5 1051.7,1191.9 1052.1,1200.4 1052.4,1200.7 1052.7,1199.8 1053.0,1197.2 1053.4,1201.2 1053.7,1199.9 1054.0,1193.7 1054.3,1197.4 1054.6,1194.6 1055.0,1196.9 1055.3,1199.7 1055.6,1200.2 1055.9,1197.5 1056.3,1197.8 1056.6,1199.6 1056.9,1199.7 1057.2,1193.9 1057.6,1195.1 1057.9,1197.2 1058.2,1199.1 1058.5,1199.4 1058.8,1192.4 1059.2,1199.9 1059.5,1191.5 1059.8,1200.1 1060.1,1202.6 1060.5,1192.4 1060.8,1198.6 1061.1,1193.9 1061.4,1197.1 1061.7,1199.1 1062.1,1195.7 1062.4,1199.2 1062.7,1197.2 1063.0,1198.9 1063.4,1203.6 1063.7,1197.3 1064.0,1200.0 1064.3,1199.0 1064.7,1197.4 1065.0,1202.7 1065.3,1197.0 1065.6,1196.9 1065.9,1193.1 1066.3,1196.3 1066.6,1197.7 1066.9,1200.6 1067.2,1198.8 1067.6,1202.8 1067.9,1197.6 1068.2,1199.4 1068.5,1199.9 1068.8,1198.8 1069.2,1197.6 1069.5,1198.1 1069.8,1202.3 1070.1,1195.1 1070.5,1198.9 1070.8,1198.0 1071.1,1199.0 1071.4,1201.7 1071.8,1198.3 1072.1,1200.2 1072.4,1201.6 1072.7,1198.8 1073.0,1197.0 1073.4,1197.4 1073.7,1198.6 1074.0,1201.0 1074.3,1200.2 1074.7,1199.6 1075.0,1203.4 1075.3,1197.0 1075.6,1199.1 1075.9,1203.0 1076.3,1195.1 1076.6,1193.8 1076.9,1203.1 1077.2,1199.9 1077.6,1201.8 1077.9,1197.3 1078.2,1203.4 1078.5,1198.1 1078.9,1198.4 1079.2,1196.4 1079.5,1205.0 1079.8,1201.8 1080.1,1200.2 1080.5,1196.9 1080.8,1199.4 1081.1,1197.5 1081.4,1198.4 1081.8,1202.3 1082.1,1200.1 1082.4,1200.9 1082.7,1200.7 1083.1,1202.4 1083.4,1197.7 1083.7,1199.0 1084.0,1205.3 1084.3,1197.8 1084.7,1201.5 1085.0,1204.2 1085.3,1196.5 1085.6,1200.0 1086.0,1199.0 1086.3,1200.4 1086.6,1200.2 1086.9,1205.3 1087.2,1197.9 1087.6,1202.2 1087.9,1200.1 1088.2,1200.4 1088.5,1202.9 1088.9,1203.8 1089.2,1200.6 1089.5,1196.5 1089.8,1202.1 1090.2,1201.9 1090.5,1199.9 1090.8,1201.9 1091.1,1196.5 1091.4,1198.9 1091.8,1193.0 1092.1,1199.6 1092.4,1193.9 1092.7,1201.9 1093.1,1199.6 1093.4,1203.3 1093.7,1201.4 1094.0,1201.2 1094.3,1198.5 1094.7,1196.4 1095.0,1201.0 1095.3,1204.5 1095.6,1200.3 1096.0,1200.8 1096.3,1201.7 1096.6,1197.8 1096.9,1197.1 1097.3,1202.3 1097.6,1202.4 1097.9,1207.8 1098.2,1202.1 1098.5,1197.9 1098.9,1203.0 1099.2,1197.7 1099.5,1198.4 1099.8,1198.6 1100.2,1198.5 1100.5,1200.6 1100.8,1197.4 1101.1,1197.3 1101.4,1199.4 1101.8,1200.5 1102.1,1196.6 1102.4,1196.1 1102.7,1202.2 1103.1,1198.0 1103.4,1200.2 1103.7,1193.7 1104.0,1201.3 1104.4,1202.2 1104.7,1203.1 1105.0,1197.8 1105.3,1203.5 1105.6,1198.6 1106.0,1202.0 1106.3,1196.6 1106.6,1196.0 1106.9,1197.2 1107.3,1206.1 1107.6,1204.7 1107.9,1208.3 1108.2,1192.9 1108.6,1202.3 1108.9,1201.8 1109.2,1200.4 1109.5,1198.8 1109.8,1201.6 1110.2,1200.4 1110.5,1200.6 1110.8,1204.4 1111.1,1195.4 1111.5,1195.6 1111.8,1200.6 1112.1,1201.0 1112.4,1195.2 1112.7,1193.6 1113.1,1200.5 1113.4,1198.9 1113.7,1201.9 1114.0,1199.7 1114.4,1208.1 1114.7,1207.2 1115.0,1199.4 1115.3,1201.3 1115.7,1199.6 1116.0,1200.5 1116.3,1199.0 1116.6,1200.0 1116.9,1201.3 1117.3,1199.6 1117.6,1202.7 1117.9,1196.7 1118.2,1203.6 1118.6,1202.0 1118.9,1198.2 1119.2,1201.9 1119.5,1198.0 1119.8,1196.6 1120.2,1198.6 1120.5,1202.1 1120.8,1195.3 1121.1,1199.5 1121.5,1203.7 1121.8,1195.0 1122.1,1200.3 1122.4,1199.1 1122.8,1198.3 1123.1,1202.4 1123.4,1198.3 1123.7,1204.5 1124.0,1203.8 1124.4,1202.1 1124.7,1194.6 1125.0,1199.2 1125.3,1197.6 1125.7,1202.2 1126.0,1199.4 1126.3,1207.1 1126.6,1201.7 1126.9,1199.7 1127.3,1202.6 1127.6,1206.7 1127.9,1205.8 1128.2,1199.2 1128.6,1197.1 1128.9,1202.1 1129.2,1196.4 1129.5,1204.8 1129.9,1199.3 1130.2,1200.2 1130.5,1198.1 1130.8,1205.5 1131.1,1198.2 1131.5,1200.8 1131.8,1203.7 1132.1,1202.5 1132.4,1201.9 1132.8,1200.4 1133.1,1203.7 1133.4,1203.8 1133.7,1201.0 1134.1,1201.4 1134.4,1199.9 1134.7,1198.7 1135.0,1206.8 1135.3,1201.7 1135.7,1200.7 1136.0,1201.3 1136.3,1204.6 1136.6,1199.4 1137.0,1196.5 1137.3,1202.0 1137.6,1203.8 1137.9,1199.3 1138.2,1201.5 1138.6,1201.2 1138.9,1200.9 1139.2,1202.9 1139.5,1201.7 1139.9,1203.7 1140.2,1207.4 1140.5,1198.6 1140.8,1200.8 1141.2,1201.9 1141.5,1197.8 1141.8,1202.2 1142.1,1198.5 1142.4,1199.3 1142.8,1202.6 1143.1,1205.4 1143.4,1200.4 1143.7,1201.1 1144.1,1198.8 1144.4,1206.3 1144.7,1202.2 1145.0,1201.1 1145.3,1200.8 1145.7,1201.5 1146.0,1201.0 1146.3,1208.7 1146.6,1202.8 1147.0,1203.8 1147.3,1206.4 1147.6,1201.6 1147.9,1203.1 1148.3,1205.3 1148.6,1206.0 1148.9,1201.0 1149.2,1209.4 1149.5,1202.3 1149.9,1205.3 1150.2,1201.6 1150.5,1196.4 1150.8,1199.0 1151.2,1202.2 1151.5,1197.6 1151.8,1196.5 1152.1,1199.1 1152.4,1196.6 1152.8,1201.4 1153.1,1200.2 1153.4,1202.3 1153.7,1203.2 1154.1,1202.0 1154.4,1204.4 1154.7,1202.4 1155.0,1195.6 1155.4,1200.0 1155.7,1202.7 1156.0,1197.1 1156.3,1197.9 1156.6,1205.3 1157.0,1204.2 1157.3,1197.1 1157.6,1201.9 1157.9,1201.7 1158.3,1203.7 1158.6,1205.5 1158.9,1198.9 1159.2,1204.6 1159.6,1200.6 1159.9,1196.8 1160.2,1200.6 1160.5,1202.8 1160.8,1200.4 1161.2,1200.6 1161.5,1203.6 1161.8,1201.4 1162.1,1205.8 1162.5,1207.4 1162.8,1203.8 1163.1,1207.4 1163.4,1204.1 1163.7,1202.6 1164.1,1201.7 1164.4,1196.8 1164.7,1204.9 1165.0,1203.6 1165.4,1203.6 1165.7,1205.2 1166.0,1196.3 1166.3,1204.5 1166.7,1202.9 1167.0,1202.8 1167.3,1195.1 1167.6,1203.2 1167.9,1204.5 1168.3,1198.6 1168.6,1204.2 1168.9,1208.5 1169.2,1198.9 1169.6,1199.5 1169.9,1206.5 1170.2,1205.9 1170.5,1202.4 1170.8,1205.1 1171.2,1206.8 1171.5,1205.8 1171.8,1197.0 1172.1,1199.1 1172.5,1205.5 1172.8,1202.8 1173.1,1202.0 1173.4,1203.3 1173.8,1202.4 1174.1,1197.1 1174.4,1204.2 1174.7,1204.6 1175.0,1202.5 1175.4,1204.3 1175.7,1203.7 1176.0,1203.7 1176.3,1205.3 1176.7,1198.8 1177.0,1204.3 1177.3,1198.4 1177.6,1204.9 1177.9,1205.1 1178.3,1201.6 1178.6,1203.1 1178.9,1199.9 1179.2,1200.4 1179.6,1195.5 1179.9,1211.1 1180.2,1205.5 1180.5,1202.5 1180.9,1203.0 1181.2,1202.5 1181.5,1194.6 1181.8,1209.1 1182.1,1200.3 1182.5,1203.0 1182.8,1202.3 1183.1,1199.1 1183.4,1202.5 1183.8,1200.0 1184.1,1198.5 1184.4,1198.8 1184.7,1207.9 1185.1,1204.3 1185.4,1206.2 1185.7,1204.7 1186.0,1202.9 1186.3,1196.1 1186.7,1204.3 1187.0,1203.2 1187.3,1202.9 1187.6,1197.9 1188.0,1204.0 1188.3,1201.0 1188.6,1199.9 1188.9,1200.6 1189.2,1208.4 1189.6,1206.3 1189.9,1200.4 1190.2,1207.7 1190.5,1203.1 1190.9,1206.9 1191.2,1201.2 1191.5,1202.6 1191.8,1207.1 1192.2,1203.2 1192.5,1205.6 1192.8,1204.1 1193.1,1198.7 1193.4,1201.6 1193.8,1201.5 1194.1,1197.9 1194.4,1202.1 1194.7,1198.5 1195.1,1201.3 1195.4,1201.7 1195.7,1203.5 1196.0,1204.9 1196.3,1205.5 1196.7,1205.2 1197.0,1200.9 1197.3,1201.2 1197.6,1204.9 1198.0,1198.8 1198.3,1204.3 1198.6,1203.6 1198.9,1206.5 1199.3,1204.9 1199.6,1199.8 1199.9,1201.1 1200.2,1204.3 1200.5,1198.7 1200.9,1202.6 1201.2,1202.2 1201.5,1199.3 1201.8,1201.0 1202.2,1203.4 1202.5,1205.5 1202.8,1198.6 1203.1,1209.3 1203.4,1204.2 1203.8,1207.5 1204.1,1204.1 1204.4,1199.9 1204.7,1203.3 1205.1,1203.6 1205.4,1202.5 1205.7,1196.6 1206.0,1198.3 1206.4,1201.7 1206.7,1204.2 1207.0,1203.5 1207.3,1201.3 1207.6,1203.0 1208.0,1202.7 1208.3,1205.4 1208.6,1206.3 1208.9,1205.5 1209.3,1201.6 1209.6,1205.0 1209.9,1194.8 1210.2,1200.6 1210.6,1200.3 1210.9,1199.3 1211.2,1205.3 1211.5,1205.7 1211.8,1202.9 1212.2,1200.4 1212.5,1200.5 1212.8,1197.3 1213.1,1198.0 1213.5,1199.0 1213.8,1198.7 1214.1,1201.2 1214.4,1199.5 1214.7,1202.8 1215.1,1203.2 1215.4,1199.1 1215.7,1206.7 1216.0,1197.8 1216.4,1196.4 1216.7,1203.2 1217.0,1199.6 1217.3,1201.3 1217.7,1204.6 1218.0,1200.7 1218.3,1200.2 1218.6,1198.7 1218.9,1202.7 1219.3,1201.3 1219.6,1203.5 1219.9,1198.7 1220.2,1202.0 1220.6,1199.1 1220.9,1203.6 1221.2,1201.3 1221.5,1204.3 1221.8,1203.8 1222.2,1198.4 1222.5,1202.2 1222.8,1201.9 1223.1,1199.5 1223.5,1204.0 1223.8,1195.9 1224.1,1203.9 1224.4,1202.8 1224.8,1195.2 1225.1,1206.6 1225.4,1196.4 1225.7,1200.5 1226.0,1200.1 1226.4,1204.7 1226.7,1201.1 1227.0,1205.3 1227.3,1198.7 1227.7,1202.3 1228.0,1203.5 1228.3,1203.0 1228.6,1202.1 1228.9,1198.8 1229.3,1200.5 1229.6,1203.9 1229.9,1204.2 1230.2,1204.6 1230.6,1199.3 1230.9,1200.2 1231.2,1204.9 1231.5,1206.4 1231.9,1201.8 1232.2,1203.3 1232.5,1200.1 1232.8,1202.0 1233.1,1200.6 1233.5,1199.3 1233.8,1198.6 1234.1,1202.3 1234.4,1199.6 1234.8,1203.3 1235.1,1205.2 1235.4,1201.0 1235.7,1198.1 1236.1,1197.5 1236.4,1201.8 1236.7,1206.7 1237.0,1200.7 1237.3,1202.3 1237.7,1199.8 1238.0,1198.5 1238.3,1202.9 1238.6,1203.7 1239.0,1202.8 1239.3,1203.6 1239.6,1204.5 1239.9,1201.0 1240.2,1203.8 1240.6,1202.5 1240.9,1202.6 1241.2,1203.4 1241.5,1199.9 1241.9,1203.0 1242.2,1201.9 1242.5,1199.3 1242.8,1202.1 1243.2,1205.9 1243.5,1203.0 1243.8,1203.0 1244.1,1199.8 1244.4,1196.8 1244.8,1201.1 1245.1,1202.0 1245.4,1197.4 1245.7,1203.7 1246.1,1200.8 1246.4,1200.2 1246.7,1201.8 1247.0,1202.2 1247.3,1201.1 1247.7,1197.2 1248.0,1200.0 1248.3,1203.3 1248.6,1200.8 1249.0,1198.8 1249.3,1196.4 1249.6,1199.3 1249.9,1201.0 1250.3,1197.6 1250.6,1199.0 1250.9,1201.1 1251.2,1203.5 1251.5,1201.3 1251.9,1198.8 1252.2,1204.6 1252.5,1206.1 1252.8,1200.0 1253.2,1205.9 1253.5,1205.2 1253.8,1202.1 1254.1,1202.2 1254.4,1201.3 1254.8,1201.0 1255.1,1199.9 1255.4,1201.8 1255.7,1203.8 1256.1,1209.6 1256.4,1197.9 1256.7,1199.2 1257.0,1199.6 1257.4,1201.5 1257.7,1204.0 1258.0,1200.1 1258.3,1201.6 1258.6,1205.3 1259.0,1198.5 1259.3,1205.5 1259.6,1202.7 1259.9,1196.3 1260.3,1203.7 1260.6,1200.9 1260.9,1198.3 1261.2,1201.4 1261.6,1205.4 1261.9,1202.8 1262.2,1201.5 1262.5,1205.7 1262.8,1197.2 1263.2,1200.4 1263.5,1199.3 1263.8,1200.6 1264.1,1200.2 1264.5,1202.3 1264.8,1205.6 1265.1,1199.4 1265.4,1201.2 1265.7,1196.8 1266.1,1204.6 1266.4,1200.8 1266.7,1195.0 1267.0,1205.1 1267.4,1204.7 1267.7,1200.6 1268.0,1196.3 1268.3,1204.6 1268.7,1201.0 1269.0,1201.7 1269.3,1202.8 1269.6,1201.9 1269.9,1197.6 1270.3,1200.8 1270.6,1205.0 1270.9,1202.9 1271.2,1200.9 1271.6,1205.2 1271.9,1203.1 1272.2,1202.3 1272.5,1207.2 1272.8,1195.7 1273.2,1205.8 1273.5,1200.9 1273.8,1201.6 1274.1,1202.8 1274.5,1197.5 1274.8,1200.9 1275.1,1203.4 1275.4,1197.6 1275.8,1199.4 1276.1,1204.0 1276.4,1205.4 1276.7,1198.4 1277.0,1201.3 1277.4,1205.2 1277.7,1199.3 1278.0,1205.1 1278.3,1202.9 1278.7,1203.3 1279.0,1206.6 1279.3,1198.9 1279.6,1190.7 1279.9,1199.0 1280.3,1199.6 1280.6,1201.5 1280.9,1201.0 1281.2,1200.0 1281.6,1198.9 1281.9,1202.2 1282.2,1200.6 1282.5,1201.3 1282.9,1199.0 1283.2,1197.9 1283.5,1197.4 1283.8,1201.9 1284.1,1201.9 1284.5,1198.5 1284.8,1201.2 1285.1,1201.1 1285.4,1199.1 1285.8,1199.3 1286.1,1196.5 1286.4,1203.9 1286.7,1197.1 1287.1,1201.7 1287.4,1198.3 1287.7,1204.0 1288.0,1200.6 1288.3,1202.0 1288.7,1195.0 1289.0,1202.9 1289.3,1196.8 1289.6,1202.5 1290.0,1203.4 1290.3,1199.2 1290.6,1197.0 1290.9,1200.2 1291.2,1198.3 1291.6,1199.4 1291.9,1200.2 1292.2,1196.0 1292.5,1200.0 1292.9,1197.5 1293.2,1203.4 1293.5,1200.5 1293.8,1197.2 1294.2,1201.3 1294.5,1206.2 1294.8,1197.8 1295.1,1198.2 1295.4,1200.7 1295.8,1199.6 1296.1,1200.9 1296.4,1198.8 1296.7,1196.7 1297.1,1198.9 1297.4,1200.1 1297.7,1201.2 1298.0,1200.3 1298.3,1201.3 1298.7,1197.0 1299.0,1202.8 1299.3,1201.5 1299.6,1198.7 1300.0,1198.8 1300.3,1199.0 1300.6,1200.9 1300.9,1199.1 1301.3,1203.8 1301.6,1204.1 1301.9,1203.4 1302.2,1198.5 1302.5,1195.7 1302.9,1200.9 1303.2,1201.2 1303.5,1200.4 1303.8,1194.3 1304.2,1198.9 1304.5,1199.2 1304.8,1201.1 1305.1,1198.0 1305.4,1195.7 1305.8,1198.9 1306.1,1201.8 1306.4,1195.6 1306.7,1199.5 1307.1,1194.2 1307.4,1202.4 1307.7,1199.8 1308.0,1198.6 1308.4,1204.4 1308.7,1199.0 1309.0,1197.5 1309.3,1199.7 1309.6,1198.0 1310.0,1198.8 1310.3,1201.7 1310.6,1197.2 1310.9,1201.4 1311.3,1200.1 1311.6,1201.4 1311.9,1197.3 1312.2,1200.6 1312.6,1200.5 1312.9,1205.4 1313.2,1200.0 1313.5,1196.2 1313.8,1205.2 1314.2,1198.0 1314.5,1199.2 1314.8,1204.1 1315.1,1200.3 1315.5,1196.3 1315.8,1199.0 1316.1,1198.0 1316.4,1195.8 1316.7,1199.9 1317.1,1196.4 1317.4,1202.5 1317.7,1201.4 1318.0,1194.7 1318.4,1194.9 1318.7,1196.1 1319.0,1203.1 1319.3,1199.4 1319.7,1201.3 1320.0,1193.2 1320.3,1202.6 1320.6,1202.3 1320.9,1200.3 1321.3,1197.6 1321.6,1200.2 1321.9,1199.4 1322.2,1197.6 1322.6,1198.4 1322.9,1203.9 1323.2,1202.0 1323.5,1193.7 1323.8,1198.2 1324.2,1193.1 1324.5,1194.1 1324.8,1195.1 1325.1,1198.0 1325.5,1193.7 1325.8,1199.4 1326.1,1191.7 1326.4,1196.3 1326.8,1196.3 1327.1,1199.1 1327.4,1199.5 1327.7,1198.6 1328.0,1199.3 1328.4,1200.3 1328.7,1200.8 1329.0,1197.1 1329.3,1194.2 1329.7,1191.9 1330.0,1195.3 1330.3,1197.8 1330.6,1195.7 1330.9,1192.5 1331.3,1196.9 1331.6,1194.4 1331.9,1196.1 1332.2,1196.8 1332.6,1198.8 1332.9,1195.0 1333.2,1199.4 1333.5,1199.9 1333.9,1196.0 1334.2,1194.1 1334.5,1194.2 1334.8,1194.4 1335.1,1197.6 1335.5,1197.1 1335.8,1193.4 1336.1,1190.7 1336.4,1204.3 1336.8,1193.0 1337.1,1195.8 1337.4,1196.6 1337.7,1198.5 1338.1,1198.1 1338.4,1199.7 1338.7,1195.4 1339.0,1199.0 1339.3,1196.6 1339.7,1200.4 1340.0,1192.6 1340.3,1194.0 1340.6,1199.2 1341.0,1194.5 1341.3,1196.9 1341.6,1198.2 1341.9,1195.4 1342.2,1193.1 1342.6,1191.2 1342.9,1194.7 1343.2,1192.0 1343.5,1193.3 1343.9,1193.3 1344.2,1192.3 1344.5,1199.0 1344.8,1196.1 1345.2,1190.6 1345.5,1198.7 1345.8,1197.2 1346.1,1189.2 1346.4,1197.5 1346.8,1194.1 1347.1,1193.6 1347.4,1195.2 1347.7,1191.5 1348.1,1191.6 1348.4,1196.1 1348.7,1188.9 1349.0,1196.2 1349.3,1195.1 1349.7,1194.1 1350.0,1193.0 1350.3,1196.7 1350.6,1192.7 1351.0,1199.6 1351.3,1194.6 1351.6,1195.7 1351.9,1195.0 1352.3,1193.1 1352.6,1192.1 1352.9,1194.8 1353.2,1192.5 1353.5,1196.8 1353.9,1193.4 1354.2,1189.5 1354.5,1194.0 1354.8,1192.8 1355.2,1191.8 1355.5,1189.3 1355.8,1190.4 1356.1,1191.8 1356.4,1194.0 1356.8,1190.3 1357.1,1199.1 1357.4,1189.5 1357.7,1192.6 1358.1,1188.5 1358.4,1190.3 1358.7,1186.1 1359.0,1191.6 1359.4,1195.2 1359.7,1189.3 1360.0,1190.6 1360.3,1189.2 1360.6,1185.4 1361.0,1191.1 1361.3,1186.4 1361.6,1185.5 1361.9,1184.8 1362.3,1193.3 1362.6,1186.9 1362.9,1189.1 1363.2,1187.5 1363.6,1188.9 1363.9,1187.2 1364.2,1183.3 1364.5,1180.8 1364.8,1183.4 1365.2,1188.6 1365.5,1181.2 1365.8,1188.0 1366.1,1185.2 1366.5,1180.6 1366.8,1185.1 1367.1,1181.0 1367.4,1183.5 1367.7,1185.6 1368.1,1181.3 1368.4,1183.0 1368.7,1176.1 1369.0,1175.4 1369.4,1175.8 1369.7,1182.7 1370.0,1173.9 1370.3,1177.9 1370.7,1176.8 1371.0,1177.2 1371.3,1178.8 1371.6,1176.3 1371.9,1173.6 1372.3,1171.1 1372.6,1173.3 1372.9,1174.2 1373.2,1174.9 1373.6,1173.8 1373.9,1167.5 1374.2,1169.5 1374.5,1170.0 1374.8,1174.5 1375.2,1174.1 1375.5,1166.2 1375.8,1165.4 1376.1,1163.1 1376.5,1164.8 1376.8,1166.2 1377.1,1168.1 1377.4,1164.7 1377.8,1167.6 1378.1,1158.9 1378.4,1157.1 1378.7,1153.2 1379.0,1161.0 1379.4,1158.4 1379.7,1151.1 1380.0,1150.3 1380.3,1155.4 1380.7,1150.0 1381.0,1145.9 1381.3,1145.4 1381.6,1141.2 1381.9,1140.2 1382.3,1139.7 1382.6,1134.8 1382.9,1133.8 1383.2,1127.8 1383.6,1132.8 1383.9,1126.7 1384.2,1125.2 1384.5,1121.1 1384.9,1116.3 1385.2,1112.5 1385.5,1117.3 1385.8,1104.5 1386.1,1102.8 1386.5,1099.2 1386.8,1096.8 1387.1,1090.4 1387.4,1087.9 1387.8,1090.2 1388.1,1082.6 1388.4,1077.0 1388.7,1072.7 1389.1,1068.3 1389.4,1060.3 1389.7,1060.5 1390.0,1054.3 1390.3,1049.8 1390.7,1041.5 1391.0,1034.5 1391.3,1033.1 1391.6,1023.4 1392.0,1020.5 1392.3,1008.5 1392.6,1014.2 1392.9,1001.1 1393.2,991.4 1393.6,990.3 1393.9,986.8 1394.2,980.1 1394.5,969.5 1394.9,967.5 1395.2,956.5 1395.5,954.5 1395.8,951.3 1396.2,946.0 1396.5,938.2 1396.8,932.1 1397.1,934.4 1397.4,932.2 1397.8,929.1 1398.1,920.7 1398.4,913.9 1398.7,920.5 1399.1,915.3 1399.4,918.5 1399.7,914.0 1400.0,923.0 1400.3,916.9 1400.7,925.3 1401.0,925.9 1401.3,924.5 1401.6,929.7 1402.0,932.7 1402.3,934.7 1402.6,940.2 1402.9,940.5 1403.3,948.1 1403.6,958.8 1403.9,961.6 1404.2,968.8 1404.5,974.1 1404.9,972.7 1405.2,987.1 1405.5,986.3 1405.8,991.6 1406.2,993.6 1406.5,1008.4 1406.8,1013.5 1407.1,1019.2 1407.4,1027.1 1407.8,1026.0 1408.1,1031.0 1408.4,1049.7 1408.7,1048.9 1409.1,1049.5 1409.4,1061.4 1409.7,1065.3 1410.0,1067.9 1410.4,1072.7 1410.7,1077.8 1411.0,1082.1 1411.3,1080.6 1411.6,1096.8 1412.0,1095.5 1412.3,1101.2 1412.6,1100.8 1412.9,1106.4 1413.3,1107.1 1413.6,1111.8 1413.9,1108.3 1414.2,1121.9 1414.5,1122.5 1414.9,1121.3 1415.2,1127.7 1415.5,1128.8 1415.8,1136.2 1416.2,1132.0 1416.5,1136.8 1416.8,1136.9 1417.1,1143.4 1417.5,1144.3 1417.8,1147.2 1418.1,1141.7 1418.4,1153.4 1418.7,1148.8 1419.1,1150.9 1419.4,1149.5 1419.7,1153.9 1420.0,1159.1 1420.4,1156.0 1420.7,1163.8 1421.0,1156.9 1421.3,1161.5 1421.7,1164.6 1422.0,1164.9 1422.3,1162.8 1422.6,1170.5 1422.9,1161.5 1423.3,1169.5 1423.6,1163.9 1423.9,1168.7 1424.2,1164.4 1424.6,1174.4 1424.9,1169.0 1425.2,1172.5 1425.5,1174.9 1425.8,1171.2 1426.2,1175.1 1426.5,1177.2 1426.8,1176.3 1427.1,1178.5 1427.5,1177.4 1427.8,1177.5 1428.1,1174.7 1428.4,1178.6 1428.8,1181.1 1429.1,1177.1 1429.4,1180.9 1429.7,1183.1 1430.0,1184.3 1430.4,1176.0 1430.7,1181.9 1431.0,1177.2 1431.3,1185.2 1431.7,1185.8 1432.0,1178.0 1432.3,1184.2 1432.6,1184.3 1432.9,1184.8 1433.3,1187.5 1433.6,1181.8 1433.9,1188.6 1434.2,1183.1 1434.6,1188.8 1434.9,1178.2 1435.2,1184.1 1435.5,1183.2 1435.9,1191.8 1436.2,1186.0 1436.5,1189.1 1436.8,1190.1 1437.1,1190.2 1437.5,1185.6 1437.8,1188.1 1438.1,1189.9 1438.4,1190.4 1438.8,1190.8 1439.1,1190.7 1439.4,1190.1 1439.7,1192.9 1440.0,1192.3 1440.4,1196.4 1440.7,1190.1 1441.0,1188.5 1441.3,1191.8 1441.7,1186.5 1442.0,1193.0 1442.3,1190.8 1442.6,1187.6 1443.0,1190.5 1443.3,1193.7 1443.6,1190.4 1443.9,1192.8 1444.2,1188.5 1444.6,1189.7 1444.9,1192.7 1445.2,1190.6 1445.5,1187.2 1445.9,1189.1 1446.2,1190.0 1446.5,1193.2 1446.8,1194.5 1447.2,1195.1 1447.5,1190.0 1447.8,1196.3 1448.1,1192.1 1448.4,1188.7 1448.8,1198.1 1449.1,1192.5 1449.4,1196.6 1449.7,1194.1 1450.1,1192.3 1450.4,1196.8 1450.7,1197.9 1451.0,1195.3 1451.3,1193.6 1451.7,1195.5 1452.0,1197.2 1452.3,1192.5 1452.6,1197.8 1453.0,1198.9 1453.3,1194.4 1453.6,1188.5 1453.9,1196.3 1454.3,1195.2 1454.6,1198.0 1454.9,1196.9 1455.2,1198.5 1455.5,1194.4 1455.9,1197.3 1456.2,1197.6 1456.5,1192.7 1456.8,1199.7 1457.2,1192.8 1457.5,1196.1 1457.8,1198.3 1458.1,1195.8 1458.4,1196.5 1458.8,1194.9 1459.1,1196.5 1459.4,1190.4 1459.7,1192.8 1460.1,1192.7 1460.4,1199.6 1460.7,1197.1 1461.0,1192.6 1461.4,1194.4 1461.7,1196.1 1462.0,1196.5 1462.3,1193.2 1462.6,1201.9 1463.0,1198.9 1463.3,1200.4 1463.6,1193.0 1463.9,1200.5 1464.3,1197.3 1464.6,1192.5 1464.9,1197.4 1465.2,1195.7 1465.5,1196.5 1465.9,1194.6 1466.2,1190.2 1466.5,1200.1 1466.8,1196.9 1467.2,1191.9 1467.5,1189.8 1467.8,1197.4 1468.1,1192.7 1468.5,1194.8 1468.8,1195.0 1469.1,1201.0 1469.4,1201.7 1469.7,1196.5 1470.1,1197.3 1470.4,1197.2 1470.7,1200.4 1471.0,1192.7 1471.4,1197.5 1471.7,1189.0 1472.0,1197.7 1472.3,1195.9 1472.7,1194.8 1473.0,1198.1 1473.3,1200.0 1473.6,1198.7 1473.9,1197.0 1474.3,1198.6 1474.6,1191.3 1474.9,1198.6 1475.2,1194.9 1475.6,1194.7 1475.9,1196.6 1476.2,1200.3 1476.5,1195.6 1476.8,1194.4 1477.2,1196.7 1477.5,1197.1 1477.8,1203.5 1478.1,1200.4 1478.5,1197.7 1478.8,1196.6 1479.1,1195.0 1479.4,1198.1 1479.8,1196.7 1480.1,1200.2 1480.4,1195.3 1480.7,1195.1 1481.0,1197.5 1481.4,1194.3 1481.7,1198.1 1482.0,1198.6 1482.3,1198.0 1482.7,1191.3 1483.0,1201.9 1483.3,1196.6 1483.6,1198.2 1483.9,1196.8 1484.3,1201.5 1484.6,1195.0 1484.9,1195.2 1485.2,1197.9 1485.6,1198.3 1485.9,1196.9 1486.2,1194.3 1486.5,1201.5 1486.9,1192.9 1487.2,1197.9 1487.5,1194.5 1487.8,1199.4 1488.1,1191.2 1488.5,1196.1 1488.8,1191.7 1489.1,1198.7 1489.4,1198.7 1489.8,1193.5 1490.1,1194.7 1490.4,1195.8 1490.7,1193.1 1491.0,1195.5 1491.4,1197.7 1491.7,1202.2 1492.0,1203.3 1492.3,1194.7 1492.7,1194.9 1493.0,1199.2 1493.3,1194.9 1493.6,1197.1 1494.0,1196.4 1494.3,1193.6 1494.6,1201.0 1494.9,1195.3 1495.2,1194.8 1495.6,1196.9 1495.9,1195.8 1496.2,1199.6 1496.5,1195.8 1496.9,1194.3 1497.2,1193.9 1497.5,1198.1 1497.8,1193.7 1498.2,1195.2 1498.5,1194.1 1498.8,1196.1 1499.1,1194.1 1499.4,1195.3 1499.8,1188.7 1500.1,1196.7 1500.4,1192.5 1500.7,1195.8 1501.1,1200.1 1501.4,1194.3 1501.7,1192.0 1502.0,1193.4 1502.3,1193.2 1502.7,1197.9 1503.0,1194.5 1503.3,1199.4 1503.6,1190.1 1504.0,1190.8 1504.3,1198.3 1504.6,1196.3 1504.9,1198.7 1505.3,1197.3 1505.6,1196.3 1505.9,1198.4 1506.2,1196.3 1506.5,1193.0 1506.9,1195.6 1507.2,1192.6 1507.5,1195.2 1507.8,1194.3 1508.2,1198.3 1508.5,1191.8 1508.8,1197.8 1509.1,1195.4 1509.4,1198.1 1509.8,1192.8 1510.1,1197.2 1510.4,1192.4 1510.7,1188.4 1511.1,1193.0 1511.4,1200.5 1511.7,1190.9 1512.0,1193.2 1512.4,1191.8 1512.7,1192.3 1513.0,1190.1 1513.3,1190.4 1513.6,1193.5 1514.0,1196.9 1514.3,1193.4 1514.6,1190.8 1514.9,1198.4 1515.3,1192.4 1515.6,1198.1 1515.9,1189.4 1516.2,1187.1 1516.5,1189.9 1516.9,1193.6 1517.2,1190.0 1517.5,1188.2 1517.8,1187.1 1518.2,1187.8 1518.5,1188.6 1518.8,1194.6 1519.1,1191.9 1519.5,1190.1 1519.8,1191.3 1520.1,1197.0 1520.4,1191.7 1520.7,1193.2 1521.1,1190.3 1521.4,1189.8 1521.7,1194.9 1522.0,1192.8 1522.4,1190.0 1522.7,1193.4 1523.0,1190.3 1523.3,1192.6 1523.7,1192.1 1524.0,1187.3 1524.3,1190.1 1524.6,1191.2 1524.9,1184.9 1525.3,1190.2 1525.6,1189.2 1525.9,1189.0 1526.2,1180.0 1526.6,1186.8 1526.9,1186.0 1527.2,1189.5 1527.5,1185.7 1527.8,1184.8 1528.2,1191.3 1528.5,1186.4 1528.8,1182.7 1529.1,1182.0 1529.5,1186.5 1529.8,1180.2 1530.1,1188.8 1530.4,1183.5 1530.8,1184.8 1531.1,1189.3 1531.4,1183.1 1531.7,1189.6 1532.0,1187.5 1532.4,1185.7 1532.7,1188.7 1533.0,1181.5 1533.3,1186.1 1533.7,1188.2 1534.0,1183.6 1534.3,1184.1 1534.6,1187.1 1534.9,1185.2 1535.3,1180.8 1535.6,1180.7 1535.9,1187.5 1536.2,1179.8 1536.6,1179.5 1536.9,1178.7 1537.2,1183.2 1537.5,1183.8 1537.9,1181.6 1538.2,1182.9 1538.5,1181.5 1538.8,1182.2 1539.1,1181.0 1539.5,1181.3 1539.8,1179.4 1540.1,1178.7 1540.4,1179.6 1540.8,1180.2 1541.1,1173.5 1541.4,1175.2 1541.7,1176.1 1542.0,1179.8 1542.4,1175.0 1542.7,1177.0 1543.0,1174.4 1543.3,1175.1 1543.7,1168.0 1544.0,1174.9 1544.3,1177.5 1544.6,1171.0 1545.0,1170.4 1545.3,1169.4 1545.6,1180.6 1545.9,1175.2 1546.2,1174.4 1546.6,1176.4 1546.9,1170.8 1547.2,1168.7 1547.5,1167.0 1547.9,1167.0 1548.2,1169.1 1548.5,1164.1 1548.8,1167.4 1549.2,1175.9 1549.5,1168.0 1549.8,1168.8 1550.1,1165.0 1550.4,1166.7 1550.8,1165.8 1551.1,1160.2 1551.4,1165.8 1551.7,1167.0 1552.1,1161.6 1552.4,1159.8 1552.7,1161.3 1553.0,1160.3 1553.3,1161.3 1553.7,1162.8 1554.0,1160.4 1554.3,1160.5 1554.6,1153.0 1555.0,1156.5 1555.3,1150.8 1555.6,1154.5 1555.9,1155.9 1556.3,1151.8 1556.6,1150.9 1556.9,1146.6 1557.2,1155.6 1557.5,1149.8 1557.9,1146.4 1558.2,1148.8 1558.5,1145.2 1558.8,1145.3 1559.2,1139.1 1559.5,1138.5 1559.8,1147.1 1560.1,1144.3 1560.4,1140.9 1560.8,1137.5 1561.1,1136.4 1561.4,1136.1 1561.7,1131.5 1562.1,1129.2 1562.4,1130.1 1562.7,1129.7 1563.0,1127.2 1563.4,1128.1 1563.7,1121.6 1564.0,1119.9 1564.3,1123.3 1564.6,1114.5 1565.0,1117.1 1565.3,1112.6 1565.6,1113.0 1565.9,1111.5 1566.3,1106.8 1566.6,1109.6 1566.9,1105.2 1567.2,1105.6 1567.5,1098.2 1567.9,1097.9 1568.2,1095.5 1568.5,1093.5 1568.8,1087.2 1569.2,1085.5 1569.5,1083.9 1569.8,1081.6 1570.1,1071.6 1570.5,1069.1 1570.8,1073.6 1571.1,1062.9 1571.4,1061.2 1571.7,1058.0 1572.1,1053.6 1572.4,1054.9 1572.7,1038.6 1573.0,1035.3 1573.4,1036.9 1573.7,1032.1 1574.0,1026.5 1574.3,1023.8 1574.7,1014.4 1575.0,1010.5 1575.3,1007.9 1575.6,999.8 1575.9,993.8 1576.3,986.9 1576.6,979.0 1576.9,968.4 1577.2,964.3 1577.6,960.5 1577.9,941.7 1578.2,940.1 1578.5,924.0 1578.8,918.9 1579.2,908.2 1579.5,903.1 1579.8,889.3 1580.1,880.2 1580.5,867.8 1580.8,854.1 1581.1,845.3 1581.4,828.1 1581.8,823.7 1582.1,809.1 1582.4,789.3 1582.7,774.6 1583.0,757.6 1583.4,740.0 1583.7,729.1 1584.0,711.6 1584.3,697.1 1584.7,680.6 1585.0,664.3 1585.3,645.6 1585.6,630.5 1585.9,610.3 1586.3,587.5 1586.6,570.0 1586.9,548.0 1587.2,536.4 1587.6,516.9 1587.9,494.3 1588.2,481.6 1588.5,463.4 1588.9,438.1 1589.2,425.1 1589.5,402.6 1589.8,390.3 1590.1,377.8 1590.5,366.7 1590.8,342.6 1591.1,337.4 1591.4,331.3 1591.8,325.8 1592.1,317.4 1592.4,307.8 1592.7,295.9 1593.0,305.2 1593.4,299.1 1593.7,301.3 1594.0,323.2 1594.3,318.2 1594.7,314.8 1595.0,338.2 1595.3,332.4 1595.6,349.8 1596.0,371.4 1596.3,367.9 1596.6,393.0 1596.9,400.8 1597.2,424.5 1597.6,446.7 1597.9,455.8 1598.2,471.1 1598.5,492.4 1598.9,522.9 1599.2,533.5 1599.5,560.8 1599.8,577.1 1600.2,587.2 1600.5,618.2 1600.8,619.3 1601.1,655.0 1601.4,671.6 1601.8,680.2 1602.1,701.2 1602.4,717.5 1602.7,736.8 1603.1,745.7 1603.4,763.0 1603.7,779.0 1604.0,796.2 1604.3,812.7 1604.7,820.3 1605.0,841.6 1605.3,848.2 1605.6,855.5 1606.0,867.0 1606.3,882.3 1606.6,901.0 1606.9,900.0 1607.3,908.9 1607.6,921.5 1607.9,926.5 1608.2,936.4 1608.5,954.4 1608.9,957.6 1609.2,966.4 1609.5,967.1 1609.8,976.1 1610.2,986.4 1610.5,991.7 1610.8,997.2 1611.1,1008.7 1611.4,1012.9 1611.8,1018.4 1612.1,1025.0 1612.4,1030.0 1612.7,1033.4 1613.1,1043.2 1613.4,1047.4 1613.7,1045.9 1614.0,1048.0 1614.4,1051.1 1614.7,1066.4 1615.0,1063.7 1615.3,1071.2 1615.6,1073.9 1616.0,1076.4 1616.3,1077.8 1616.6,1080.6 1616.9,1092.6 1617.3,1090.2 1617.6,1088.1 1617.9,1093.7 1618.2,1101.6 1618.5,1102.3 1618.9,1104.3 1619.2,1101.4 1619.5,1101.5 1619.8,1112.2 1620.2,1109.7 1620.5,1114.2 1620.8,1113.7 1621.1,1118.1 1621.5,1122.6 1621.8,1123.1 1622.1,1125.0 1622.4,1120.5 1622.7,1128.7 1623.1,1126.5 1623.4,1132.3 1623.7,1133.3 1624.0,1132.2 1624.4,1136.1 1624.7,1130.0 1625.0,1133.3 1625.3,1141.9 1625.7,1138.4 1626.0,1136.7 1626.3,1146.0 1626.6,1144.9 1626.9,1140.5 1627.3,1148.5 1627.6,1145.3 1627.9,1148.5 1628.2,1148.8 1628.6,1153.5 1628.9,1151.6 1629.2,1153.7 1629.5,1148.2 1629.8,1152.5 1630.2,1155.0 1630.5,1156.3 1630.8,1155.1 1631.1,1162.7 1631.5,1161.8 1631.8,1162.4 1632.1,1162.8 1632.4,1166.1 1632.8,1160.5 1633.1,1164.2 1633.4,1159.8 1633.7,1164.6 1634.0,1166.1 1634.4,1164.3 1634.7,1165.0 1635.0,1167.8 1635.3,1165.9 1635.7,1164.6 1636.0,1170.2 1636.3,1165.7 1636.6,1170.7 1636.9,1168.1 1637.3,1171.4 1637.6,1173.0 1637.9,1171.5 1638.2,1176.2 1638.6,1178.2 1638.9,1174.1 1639.2,1175.2 1639.5,1178.3 1639.9,1169.2 1640.2,1174.8 1640.5,1178.6 1640.8,1175.4 1641.1,1175.7 1641.5,1178.9 1641.8,1178.9 1642.1,1184.1 1642.4,1178.4 1642.8,1173.9 1643.1,1176.5 1643.4,1177.2 1643.7,1182.4 1644.0,1184.3 1644.4,1178.9 1644.7,1181.0 1645.0,1182.8 1645.3,1183.5 1645.7,1180.1 1646.0,1181.4 1646.3,1185.0 1646.6,1184.3 1647.0,1189.2 1647.3,1188.1 1647.6,1183.2 1647.9,1186.6 1648.2,1188.1 1648.6,1185.0 1648.9,1182.4 1649.2,1188.9 1649.5,1187.7 1649.9,1187.8 1650.2,1180.1 1650.5,1184.6 1650.8,1187.1 1651.2,1192.3 1651.5,1186.1 1651.8,1186.9 1652.1,1189.5 1652.4,1191.3 1652.8,1190.7 1653.1,1194.5 1653.4,1191.0 1653.7,1191.5 1654.1,1193.0 1654.4,1191.5 1654.7,1195.4 1655.0,1187.7 1655.3,1191.7 1655.7,1194.9 1656.0,1189.4 1656.3,1190.3 1656.6,1193.6 1657.0,1196.2 1657.3,1192.7 1657.6,1191.4 1657.9,1191.0 1658.3,1190.4 1658.6,1190.8 1658.9,1197.8 1659.2,1193.3 1659.5,1199.4 1659.9,1191.2 1660.2,1193.0 1660.5,1191.6 1660.8,1194.5 1661.2,1194.8 1661.5,1196.5 1661.8,1203.2 1662.1,1195.9 1662.4,1187.9 1662.8,1191.8 1663.1,1196.4 1663.4,1194.9 1663.7,1194.7 1664.1,1197.9 1664.4,1196.4 1664.7,1195.5 1665.0,1198.1 1665.4,1195.4 1665.7,1193.3 1666.0,1194.6 1666.3,1196.4 1666.6,1197.8 1667.0,1195.3 1667.3,1199.2 1667.6,1199.6 1667.9,1194.1 1668.3,1199.1 1668.6,1202.1 1668.9,1195.8 1669.2,1196.3 1669.5,1195.2 1669.9,1198.9 1670.2,1195.4 1670.5,1199.2 1670.8,1201.9 1671.2,1199.6 1671.5,1198.4 1671.8,1202.5 1672.1,1199.9 1672.5,1198.8 1672.8,1200.8 1673.1,1199.5 1673.4,1199.9 1673.7,1202.3 1674.1,1199.1 1674.4,1198.5 1674.7,1206.1 1675.0,1202.3 1675.4,1198.0 1675.7,1199.2 1676.0,1206.1 1676.3,1200.0 1676.7,1196.7 1677.0,1198.3 1677.3,1198.7 1677.6,1201.4 1677.9,1200.9 1678.3,1204.6 1678.6,1201.3 1678.9,1194.7 1679.2,1201.6 1679.6,1204.2 1679.9,1200.1 1680.2,1207.7 1680.5,1195.2 1680.8,1200.1 1681.2,1202.8 1681.5,1203.1 1681.8,1204.8 1682.1,1201.9 1682.5,1202.2 1682.8,1206.9 1683.1,1199.6 1683.4,1203.6 1683.8,1205.8 1684.1,1200.0 1684.4,1200.6 1684.7,1204.5 1685.0,1204.8 1685.4,1199.8 1685.7,1204.2 1686.0,1202.5 1686.3,1199.2 1686.7,1206.8 1687.0,1207.7 1687.3,1205.8 1687.6,1205.1 1687.9,1203.4 1688.3,1200.7 1688.6,1204.9 1688.9,1198.8 1689.2,1203.1 1689.6,1209.6 1689.9,1204.0 1690.2,1201.9 1690.5,1200.8 1690.9,1206.1 1691.2,1204.4 1691.5,1197.7 1691.8,1203.8 1692.1,1207.0 1692.5,1208.8 1692.8,1205.7 1693.1,1203.4 1693.4,1207.8 1693.8,1200.7 1694.1,1206.8 1694.4,1210.3 1694.7,1202.9 1695.0,1204.7 1695.4,1205.6 1695.7,1201.3 1696.0,1206.8 1696.3,1203.1 1696.7,1206.7 1697.0,1200.5 1697.3,1205.3 1697.6,1205.3 1698.0,1203.7 1698.3,1205.7 1698.6,1204.2 1698.9,1206.3 1699.2,1203.9 1699.6,1205.6 1699.9,1207.4 1700.2,1204.2 1700.5,1204.6 1700.9,1209.1 1701.2,1206.9 1701.5,1211.0 1701.8,1205.9 1702.2,1203.8 1702.5,1199.3 1702.8,1205.5 1703.1,1203.4 1703.4,1202.2 1703.8,1204.4 1704.1,1212.0 1704.4,1208.0 1704.7,1205.8 1705.1,1205.9 1705.4,1206.5 1705.7,1209.5 1706.0,1212.4 1706.3,1206.0 1706.7,1203.7 1707.0,1208.5 1707.3,1205.6 1707.6,1208.8 1708.0,1207.7 1708.3,1209.0 1708.6,1205.0 1708.9,1210.1 1709.3,1207.1 1709.6,1205.0 1709.9,1207.7 1710.2,1211.3 1710.5,1206.6 1710.9,1208.3 1711.2,1211.6 1711.5,1208.5 1711.8,1208.8 1712.2,1206.3 1712.5,1209.5 1712.8,1207.9 1713.1,1206.5 1713.4,1213.8 1713.8,1205.5 1714.1,1208.3 1714.4,1211.3 1714.7,1208.1 1715.1,1205.5 1715.4,1210.6 1715.7,1210.2 1716.0,1204.7 1716.4,1204.2 1716.7,1203.1 1717.0,1208.7 1717.3,1211.6 1717.6,1211.7 1718.0,1209.9 1718.3,1211.9 1718.6,1207.8 1718.9,1205.5 1719.3,1212.2 1719.6,1205.0 1719.9,1211.9 1720.2,1211.3 1720.5,1213.3 1720.9,1207.3 1721.2,1209.7 1721.5,1209.4 1721.8,1217.9 1722.2,1211.3 1722.5,1208.8 1722.8,1217.6 1723.1,1204.1 1723.5,1208.9 1723.8,1206.7 1724.1,1210.7 1724.4,1207.3 1724.7,1206.3 1725.1,1202.6 1725.4,1213.0 1725.7,1204.0 1726.0,1213.2 1726.4,1209.6 1726.7,1211.3 1727.0,1210.7 1727.3,1215.8 1727.7,1211.1 1728.0,1213.7 1728.3,1210.9 1728.6,1209.6 1728.9,1210.2 1729.3,1210.7 1729.6,1206.4 1729.9,1209.5 1730.2,1208.8 1730.6,1206.7 1730.9,1210.8 1731.2,1210.3 1731.5,1208.8 1731.8,1211.5 1732.2,1207.2 1732.5,1212.6 1732.8,1211.5 1733.1,1211.3 1733.5,1211.9 1733.8,1211.0 1734.1,1212.4 1734.4,1218.0 1734.8,1207.8 1735.1,1212.4 1735.4,1209.1 1735.7,1214.4 1736.0,1209.6 1736.4,1215.1 1736.7,1207.2 1737.0,1211.8 1737.3,1212.8 1737.7,1219.8 1738.0,1218.2 1738.3,1213.1 1738.6,1213.6 1738.9,1213.6 1739.3,1213.3 1739.6,1209.1 1739.9,1213.1 1740.2,1213.1 1740.6,1214.2 1740.9,1215.1 1741.2,1211.0 1741.5,1213.3 1741.9,1213.2 1742.2,1211.3 1742.5,1212.0 1742.8,1209.9 1743.1,1210.1 1743.5,1216.0 1743.8,1214.6 1744.1,1209.5 1744.4,1213.4 1744.8,1210.5 1745.1,1214.9 1745.4,1219.4 1745.7,1218.8 1746.0,1214.5 1746.4,1213.7 1746.7,1205.7 1747.0,1210.3 1747.3,1210.5 1747.7,1209.9 1748.0,1217.2 1748.3,1212.4 1748.6,1212.9 1749.0,1206.9 1749.3,1214.6 1749.6,1216.9 1749.9,1212.4 1750.2,1213.2 1750.6,1212.4 1750.9,1212.0 1751.2,1212.3 1751.5,1214.6 1751.9,1214.0 1752.2,1206.1 1752.5,1214.6 1752.8,1211.3 1753.2,1215.7 1753.5,1217.8 1753.8,1210.2 1754.1,1212.3 1754.4,1209.0 1754.8,1209.8 1755.1,1212.1 1755.4,1215.0 1755.7,1207.2 1756.1,1212.6 1756.4,1206.6 1756.7,1210.8 1757.0,1210.1 1757.3,1211.0 1757.7,1211.4 1758.0,1213.4 1758.3,1206.0 1758.6,1215.3 1759.0,1217.2 1759.3,1211.9 1759.6,1214.7 1759.9,1210.0 1760.3,1213.4 1760.6,1209.5 1760.9,1212.6 1761.2,1215.2 1761.5,1213.9 1761.9,1211.0 1762.2,1214.8 1762.5,1215.4 1762.8,1213.6 1763.2,1212.2 1763.5,1209.6 1763.8,1211.9 1764.1,1210.7 1764.4,1213.7 1764.8,1207.9 1765.1,1206.9 1765.4,1215.1 1765.7,1212.6 1766.1,1213.6 1766.4,1212.4 1766.7,1214.2 1767.0,1215.4 1767.4,1217.1 1767.7,1214.9 1768.0,1213.4 1768.3,1210.5 1768.6,1211.8 1769.0,1214.7 1769.3,1215.4 1769.6,1217.9 1769.9,1211.6 1770.3,1213.3 1770.6,1211.9 1770.9,1211.5 1771.2,1212.1 1771.5,1214.0 1771.9,1214.6 1772.2,1216.6 1772.5,1215.6 1772.8,1212.6 1773.2,1207.3 1773.5,1215.0 1773.8,1213.2 1774.1,1204.7 1774.5,1213.7 1774.8,1214.9 1775.1,1214.0 1775.4,1214.7 1775.7,1219.6 1776.1,1211.7 1776.4,1219.3 1776.7,1215.8 1777.0,1215.5 1777.4,1213.0 1777.7,1214.9 1778.0,1215.7 1778.3,1216.9 1778.7,1213.8 1779.0,1215.5 1779.3,1216.6 1779.6,1218.4 1779.9,1217.1 1780.3,1214.3 1780.6,1219.2 1780.9,1214.4 1781.2,1214.5 1781.6,1211.5 1781.9,1216.8 1782.2,1217.7 1782.5,1215.2 1782.8,1216.1 1783.2,1222.5 1783.5,1211.6 1783.8,1214.4 1784.1,1214.7 1784.5,1217.4 1784.8,1214.1 1785.1,1216.0 1785.4,1210.6 1785.8,1213.2 1786.1,1211.1 1786.4,1218.8 1786.7,1217.8 1787.0,1216.5 1787.4,1217.1 1787.7,1210.7 1788.0,1214.3 1788.3,1218.4 1788.7,1216.1 1789.0,1210.1 1789.3,1216.3 1789.6,1213.6 1789.9,1220.4 1790.3,1217.1 1790.6,1215.9 1790.9,1216.2 1791.2,1215.5 1791.6,1214.5 1791.9,1212.2 1792.2,1220.6 1792.5,1215.4 1792.9,1213.6 1793.2,1215.0 1793.5,1212.3 1793.8,1216.0 1794.1,1216.9 1794.5,1218.1 1794.8,1213.1 1795.1,1219.4 1795.4,1217.0 1795.8,1215.9 1796.1,1214.0 1796.4,1216.7 1796.7,1218.6 1797.0,1214.2 1797.4,1219.2 1797.7,1218.0 1798.0,1221.7 1798.3,1215.5 1798.7,1215.6 1799.0,1221.1 1799.3,1216.7 1799.6,1214.5 1800.0,1218.1 1800.3,1221.0 1800.6,1216.5 1800.9,1214.5 1801.2,1221.6 1801.6,1213.8 1801.9,1216.5 1802.2,1213.6 1802.5,1219.3 1802.9,1213.6 1803.2,1215.4 1803.5,1214.1 1803.8,1216.2 1804.2,1213.6 1804.5,1216.9 1804.8,1217.7 1805.1,1219.4 1805.4,1220.9 1805.8,1216.3 1806.1,1217.5 1806.4,1216.8 1806.7,1217.3 1807.1,1215.6 1807.4,1216.4 1807.7,1218.3 1808.0,1214.4 1808.3,1210.5 1808.7,1219.1 1809.0,1217.9 1809.3,1215.1 1809.6,1218.7 1810.0,1213.7 1810.3,1218.6 1810.6,1220.1 1810.9,1219.4 1811.3,1213.7 1811.6,1222.5 1811.9,1216.3 1812.2,1222.9 1812.5,1214.6 1812.9,1215.6 1813.2,1214.8 1813.5,1210.5 1813.8,1216.9 1814.2,1213.3 1814.5,1214.9 1814.8,1213.6 1815.1,1218.8 1815.4,1213.4 1815.8,1217.5 1816.1,1212.3 1816.4,1213.8 1816.7,1216.3 1817.1,1214.8 1817.4,1215.0 1817.7,1215.8 1818.0,1208.8 1818.4,1218.9 1818.7,1220.4 1819.0,1220.3 1819.3,1217.2 1819.6,1216.7 1820.0,1214.6 1820.3,1213.7 1820.6,1215.8 1820.9,1216.1 1821.3,1219.2 1821.6,1213.7 1821.9,1212.6 1822.2,1216.9 1822.5,1214.5 1822.9,1218.4 1823.2,1216.7 1823.5,1216.3 1823.8,1214.1 1824.2,1220.8 1824.5,1216.5 1824.8,1214.1 1825.1,1215.7 1825.5,1214.8 1825.8,1224.0 1826.1,1219.3 1826.4,1218.0 1826.7,1219.1 1827.1,1223.7 1827.4,1213.9 1827.7,1216.2 1828.0,1222.6 1828.4,1218.4 1828.7,1217.0 1829.0,1214.3 1829.3,1215.2 1829.7,1220.1 1830.0,1219.1 1830.3,1216.5 1830.6,1214.4 1830.9,1218.5 1831.3,1219.1 1831.6,1215.6 1831.9,1216.9 1832.2,1213.4 1832.6,1216.0 1832.9,1214.5 1833.2,1223.1 1833.5,1221.4 1833.8,1221.9 1834.2,1219.5 1834.5,1216.5 1834.8,1218.4 1835.1,1216.1 1835.5,1219.8 1835.8,1214.8 1836.1,1215.2 1836.4,1222.7 1836.8,1220.8 1837.1,1219.5 1837.4,1215.4 1837.7,1215.5 1838.0,1212.6 1838.4,1222.2 1838.7,1217.2 1839.0,1217.9 1839.3,1218.7 1839.7,1218.3 1840.0,1224.0 1840.3,1217.1 1840.6,1219.2 1840.9,1221.7 1841.3,1213.9 1841.6,1220.1 1841.9,1217.4 1842.2,1220.1 1842.6,1222.7 1842.9,1219.5 1843.2,1217.2 1843.5,1221.1 1843.9,1216.7 1844.2,1213.2 1844.5,1214.7 1844.8,1219.1 1845.1,1220.5 1845.5,1215.5 1845.8,1222.3 1846.1,1221.3 1846.4,1213.2 1846.8,1217.1 1847.1,1216.8 1847.4,1219.1 1847.7,1209.9 1848.0,1209.0 1848.4,1218.6 1848.7,1215.7 1849.0,1219.0 1849.3,1216.8 1849.7,1214.2 1850.0,1214.4 1850.3,1218.9 1850.6,1217.0 1851.0,1209.8 1851.3,1215.3 1851.6,1213.9 1851.9,1216.5 1852.2,1218.5 1852.6,1221.4 1852.9,1221.1 1853.2,1223.1 1853.5,1221.5 1853.9,1220.9 1854.2,1216.1 1854.5,1223.2 1854.8,1217.1 1855.2,1224.1 1855.5,1210.6 1855.8,1220.1 1856.1,1217.9 1856.4,1213.2 1856.8,1219.0 1857.1,1218.1 1857.4,1218.0 1857.7,1216.8 1858.1,1219.9 1858.4,1213.3 1858.7,1215.1 1859.0,1218.1 1859.3,1214.9 1859.7,1218.8 1860.0,1220.1 1860.3,1218.9 1860.6,1217.2 1861.0,1223.2 1861.3,1219.6 1861.6,1217.3 1861.9,1221.9 1862.3,1217.7 1862.6,1221.9 1862.9,1218.1 1863.2,1218.9 1863.5,1217.7 1863.9,1220.9 1864.2,1224.6 1864.5,1226.5 1864.8,1207.7 1865.2,1223.2 1865.5,1221.4 1865.8,1223.8 1866.1,1214.8 1866.4,1216.8 1866.8,1216.4 1867.1,1222.3 1867.4,1215.9 1867.7,1221.2 1868.1,1215.3 1868.4,1219.3 1868.7,1225.9 1869.0,1219.4 1869.4,1221.7 1869.7,1211.9 1870.0,1223.1 1870.3,1220.0 1870.6,1220.0 1871.0,1221.7 1871.3,1221.4 1871.6,1219.4 1871.9,1218.2 1872.3,1220.5 1872.6,1220.1 1872.9,1219.3 1873.2,1222.2 1873.5,1220.1 1873.9,1219.3 1874.2,1216.3 1874.5,1217.4 1874.8,1217.9 1875.2,1216.7 1875.5,1221.8 1875.8,1216.1 1876.1,1220.6 1876.5,1219.9 1876.8,1220.7 1877.1,1217.6 1877.4,1221.5 1877.7,1217.8 1878.1,1220.6 1878.4,1221.1 1878.7,1218.5 1879.0,1222.2 1879.4,1216.1 1879.7,1221.8 1880.0,1221.1 1880.3,1216.2 1880.7,1224.1 1881.0,1217.1 1881.3,1219.6 1881.6,1219.5 1881.9,1219.2 1882.3,1222.5 1882.6,1215.0 1882.9,1218.3 1883.2,1217.9 1883.6,1217.5 1883.9,1217.0 1884.2,1219.0 1884.5,1222.7 1884.8,1223.7 1885.2,1224.0 1885.5,1221.3 1885.8,1217.0 1886.1,1223.8 1886.5,1221.0 1886.8,1218.2 1887.1,1221.0 1887.4,1220.8 1887.8,1223.2 1888.1,1219.5 1888.4,1221.8 1888.7,1222.1 1889.0,1221.3 1889.4,1219.0 1889.7,1217.2 1890.0,1223.5 1890.3,1218.7 1890.7,1223.4 1891.0,1225.6 1891.3,1222.1 1891.6,1220.0 1891.9,1220.3 1892.3,1219.0 1892.6,1226.1 1892.9,1216.0 1893.2,1217.7 1893.6,1218.2 1893.9,1224.8 1894.2,1218.8 1894.5,1221.6 1894.9,1221.6 1895.2,1220.1 1895.5,1224.8 1895.8,1216.9 1896.1,1217.1 1896.5,1217.8 1896.8,1216.0 1897.1,1225.1 1897.4,1221.0 1897.8,1221.1 1898.1,1223.8 1898.4,1217.7 1898.7,1212.6 1899.0,1223.2 1899.4,1218.4 1899.7,1219.9 1900.0,1219.7 1900.3,1219.8 1900.7,1218.1 1901.0,1221.9 1901.3,1221.3 1901.6,1215.2 1902.0,1220.1 1902.3,1220.1 1902.6,1225.2 1902.9,1218.7 1903.2,1218.3 1903.6,1219.3 1903.9,1215.5 1904.2,1225.9 1904.5,1217.5 1904.9,1224.9 1905.2,1223.2 1905.5,1226.0 1905.8,1217.8 1906.2,1220.6 1906.5,1221.5 1906.8,1220.2 1907.1,1226.4 1907.4,1222.1 1907.8,1219.7 1908.1,1222.1 1908.4,1220.5 1908.7,1225.0 1909.1,1219.9 1909.4,1221.3 1909.7,1219.8 1910.0,1215.8 1910.3,1220.2 1910.7,1222.2 1911.0,1219.3 1911.3,1223.7 1911.6,1215.7 1912.0,1220.4 1912.3,1220.4 1912.6,1219.0 1912.9,1224.2 1913.3,1220.6 1913.6,1221.2 1913.9,1214.3 1914.2,1216.3 1914.5,1215.2 1914.9,1220.4 1915.2,1220.1 1915.5,1217.5 1915.8,1222.6 1916.2,1223.3 1916.5,1216.0 1916.8,1219.2 1917.1,1219.2 1917.4,1225.6 1917.8,1221.8 1918.1,1222.0 1918.4,1222.7 1918.7,1219.7 1919.1,1223.3 1919.4,1224.1 1919.7,1214.9 1920.0,1219.2 1920.4,1223.6 1920.7,1214.4 1921.0,1218.9 1921.3,1219.5 1921.6,1228.4 1922.0,1216.2 1922.3,1220.0 1922.6,1216.9 1922.9,1215.4 1923.3,1224.2 1923.6,1215.0 1923.9,1217.9 1924.2,1220.0 1924.5,1227.0 1924.9,1214.6 1925.2,1219.4 1925.5,1218.5 1925.8,1223.8 1926.2,1218.5 1926.5,1218.6 1926.8,1215.9 1927.1,1223.0 1927.5,1226.6 1927.8,1222.1 1928.1,1223.2 1928.4,1219.5 1928.7,1220.8 1929.1,1219.7 1929.4,1216.6 1929.7,1215.4 1930.0,1220.2 1930.4,1225.0 1930.7,1220.4 1931.0,1221.0 1931.3,1220.6 1931.7,1220.8 1932.0,1220.5 1932.3,1226.8 1932.6,1218.8 1932.9,1219.0 1933.3,1219.5 1933.6,1220.8 1933.9,1217.9 1934.2,1225.4 1934.6,1220.8 1934.9,1218.8 1935.2,1221.9 1935.5,1220.8 1935.8,1217.6 1936.2,1221.1 1936.5,1223.1 1936.8,1222.0 1937.1,1219.5 1937.5,1223.6 1937.8,1220.5 1938.1,1221.8 1938.4,1220.4 1938.8,1218.4 1939.1,1218.5 1939.4,1220.4 1939.7,1219.9 1940.0,1218.3 1940.4,1222.8 1940.7,1220.1 1941.0,1223.9 1941.3,1217.0 1941.7,1220.3 1942.0,1224.3 1942.3,1221.9 1942.6,1218.4 1942.9,1219.7 1943.3,1225.3 1943.6,1215.5 1943.9,1219.9 1944.2,1219.4 1944.6,1221.4 1944.9,1222.8 1945.2,1224.8 1945.5,1220.0 1945.9,1220.5 1946.2,1221.2 1946.5,1218.3 1946.8,1219.6 1947.1,1223.4 1947.5,1221.6 1947.8,1217.2 1948.1,1224.4 1948.4,1214.3 1948.8,1222.0 1949.1,1213.0 1949.4,1219.2 1949.7,1225.0 1950.0,1219.1 1950.4,1220.1 1950.7,1221.6 1951.0,1220.2 1951.3,1220.2 1951.7,1229.7 1952.0,1218.3 1952.3,1221.2 1952.6,1220.3 1953.0,1218.3 1953.3,1220.4 1953.6,1223.9 1953.9,1218.0 1954.2,1221.3 1954.6,1219.7 1954.9,1222.4 1955.2,1220.8 1955.5,1223.2 1955.9,1215.8 1956.2,1223.4 1956.5,1217.6 1956.8,1225.7 1957.2,1219.6 1957.5,1221.2 1957.8,1217.5 1958.1,1219.7 1958.4,1213.8 1958.8,1211.9 1959.1,1221.9 1959.4,1218.3 1959.7,1223.0 1960.1,1223.1 1960.4,1220.5 1960.7,1217.7 1961.0,1218.4 1961.3,1220.8 1961.7,1217.0 1962.0,1223.7 1962.3,1222.9 1962.6,1220.5 1963.0,1225.5 1963.3,1216.4 1963.6,1220.6 1963.9,1221.2 1964.3,1219.0 1964.6,1224.1 1964.9,1220.5 1965.2,1225.1 1965.5,1220.7 1965.9,1219.8 1966.2,1215.6 1966.5,1220.2 1966.8,1216.3 1967.2,1220.2 1967.5,1224.9 1967.8,1218.0 1968.1,1220.0 1968.4,1221.8 1968.8,1217.5 1969.1,1223.2 1969.4,1221.3 1969.7,1218.1 1970.1,1217.7 1970.4,1222.1 1970.7,1219.3 1971.0,1219.9 1971.4,1218.4 1971.7,1220.8 1972.0,1226.3 1972.3,1221.2 1972.6,1215.8 1973.0,1222.6 1973.3,1220.8 1973.6,1217.8 1973.9,1220.8 1974.3,1223.3 1974.6,1220.3 1974.9,1220.7 1975.2,1222.7 1975.5,1220.6 1975.9,1224.2 1976.2,1224.7 1976.5,1223.4 1976.8,1220.7 1977.2,1220.2 1977.5,1221.9 1977.8,1217.0 1978.1,1218.4 1978.5,1220.0 1978.8,1216.9 1979.1,1215.8 1979.4,1218.1 1979.7,1221.7 1980.1,1217.7 1980.4,1216.7 1980.7,1218.9 1981.0,1220.4 1981.4,1219.3 1981.7,1219.1 1982.0,1225.4 1982.3,1215.5 1982.7,1219.9 1983.0,1214.3 1983.3,1219.9 1983.6,1222.4 1983.9,1217.7 1984.3,1219.8 1984.6,1217.5 1984.9,1221.3 1985.2,1221.4 1985.6,1222.0 1985.9,1222.0 1986.2,1218.8 1986.5,1223.7 1986.8,1219.5 1987.2,1216.9 1987.5,1222.8 1987.8,1220.7 1988.1,1222.3 1988.5,1221.2 1988.8,1219.7 1989.1,1218.1 1989.4,1217.5 1989.8,1222.0 1990.1,1218.1 1990.4,1221.9 1990.7,1223.4 1991.0,1222.9 1991.4,1225.7 1991.7,1220.0 1992.0,1225.4 1992.3,1219.6 1992.7,1212.5 1993.0,1222.8 1993.3,1226.2 1993.6,1219.0 1993.9,1223.1 1994.3,1220.2 1994.6,1220.1 1994.9,1219.4 1995.2,1213.5 1995.6,1219.2 1995.9,1219.3 1996.2,1220.3 1996.5,1222.2 1996.9,1221.8 1997.2,1223.1 1997.5,1217.5 1997.8,1220.4 1998.1,1218.1 1998.5,1219.0 1998.8,1213.5 1999.1,1220.2 1999.4,1218.1 1999.8,1221.7 2000.1,1216.6 2000.4,1220.5 2000.7,1219.8 2001.0,1223.8 2001.4,1218.2 2001.7,1215.0 2002.0,1215.9 2002.3,1222.9 2002.7,1217.2 2003.0,1221.8 2003.3,1224.5 2003.6,1223.4 2004.0,1216.1 2004.3,1220.7 2004.6,1223.3 2004.9,1218.7 2005.2,1218.8 2005.6,1220.6 2005.9,1218.3 2006.2,1220.8 2006.5,1216.1 2006.9,1217.5 2007.2,1219.9 2007.5,1218.7 2007.8,1217.1 2008.2,1220.0 2008.5,1218.2 2008.8,1220.1 2009.1,1220.7 2009.4,1225.3 2009.8,1223.4 2010.1,1222.7 2010.4,1219.7 2010.7,1212.2 2011.1,1222.6 2011.4,1221.1 2011.7,1223.6 2012.0,1221.0 2012.3,1220.5 2012.7,1217.9 2013.0,1223.9 2013.3,1218.4 2013.6,1219.2 2014.0,1220.7 2014.3,1223.5 2014.6,1222.9 2014.9,1220.5 2015.3,1218.2 2015.6,1220.2 2015.9,1222.1 2016.2,1219.0 2016.5,1222.9 2016.9,1217.6 2017.2,1211.3 2017.5,1221.5 2017.8,1216.8 2018.2,1222.6 2018.5,1219.5 2018.8,1218.2 2019.1,1216.3 2019.4,1219.7 2019.8,1215.8 2020.1,1223.4 2020.4,1220.4 2020.7,1219.8 2021.1,1219.5 2021.4,1220.1 2021.7,1214.3 2022.0,1220.8 2022.4,1216.7 2022.7,1218.4 2023.0,1213.7 2023.3,1220.3 2023.6,1217.5 2024.0,1217.9 2024.3,1229.0 2024.6,1218.4 2024.9,1216.5 2025.3,1215.1 2025.6,1222.7 2025.9,1220.1 2026.2,1215.9 2026.5,1222.8 2026.9,1221.9 2027.2,1217.8 2027.5,1217.5 2027.8,1215.6 2028.2,1216.2 2028.5,1218.8 2028.8,1222.5 2029.1,1221.3 2029.5,1219.4 2029.8,1218.3 2030.1,1219.2 2030.4,1217.0 2030.7,1221.6 2031.1,1220.6 2031.4,1223.1 2031.7,1213.5 2032.0,1219.8 2032.4,1216.4 2032.7,1215.6 2033.0,1218.2 2033.3,1219.8 2033.7,1220.7 2034.0,1220.0 2034.3,1224.3 2034.6,1220.8 2034.9,1217.0 2035.3,1218.4 2035.6,1216.8 2035.9,1216.9 2036.2,1217.1 2036.6,1218.9 2036.9,1218.6 2037.2,1216.5 2037.5,1220.2 2037.8,1223.1 2038.2,1216.7 2038.5,1219.1 2038.8,1216.0 2039.1,1221.1 2039.5,1224.0 2039.8,1219.7 2040.1,1221.0 2040.4,1222.0 2040.8,1214.6 2041.1,1218.3 2041.4,1222.6 2041.7,1223.8 2042.0,1219.4 2042.4,1217.4 2042.7,1218.3 2043.0,1215.7 2043.3,1218.2 2043.7,1217.7 2044.0,1224.6 2044.3,1215.3 2044.6,1220.7 2044.9,1216.3 2045.3,1223.6 2045.6,1221.7 2045.9,1215.6 2046.2,1222.6 2046.6,1218.5 2046.9,1220.1 2047.2,1213.9 2047.5,1217.9 2047.9,1215.2 2048.2,1219.0 2048.5,1223.9 2048.8,1213.0 2049.1,1220.6 2049.5,1218.8 2049.8,1219.0 2050.1,1223.5 2050.4,1216.8 2050.8,1220.0 2051.1,1224.0 2051.4,1223.2 2051.7,1225.5 2052.0,1221.2 2052.4,1219.5 2052.7,1221.7 2053.0,1219.0 2053.3,1220.0 2053.7,1217.5 2054.0,1219.0 2054.3,1219.4 2054.6,1221.3 2055.0,1222.4 2055.3,1221.6 2055.6,1217.8 2055.9,1220.3 2056.2,1214.6 2056.6,1216.5 2056.9,1222.9 2057.2,1217.6 2057.5,1215.3 2057.9,1220.8 2058.2,1215.3 2058.5,1221.0 2058.8,1214.2 2059.2,1217.3 2059.5,1219.5 2059.8,1223.7 2060.1,1219.2 2060.4,1221.0 2060.8,1217.7 2061.1,1221.4 2061.4,1217.4 2061.7,1220.2 2062.1,1217.1 2062.4,1216.3 2062.7,1218.2 2063.0,1217.3 2063.3,1215.5 2063.7,1221.5 2064.0,1216.9 2064.3,1218.0 2064.6,1214.0 2065.0,1219.2 2065.3,1215.8 2065.6,1223.6 2065.9,1215.0 2066.3,1217.4 2066.6,1217.5 2066.9,1215.9 2067.2,1222.3 2067.5,1219.2 2067.9,1218.3 2068.2,1219.4 2068.5,1220.0 2068.8,1215.7 2069.2,1218.4 2069.5,1219.2 2069.8,1218.4 2070.1,1214.6 2070.4,1213.0 2070.8,1215.3 2071.1,1217.0 2071.4,1222.4 2071.7,1220.1 2072.1,1221.2 2072.4,1221.2 2072.7,1214.9 2073.0,1220.2 2073.4,1214.4 2073.7,1218.1 2074.0,1218.8 2074.3,1219.0 2074.6,1222.6 2075.0,1219.6 2075.3,1215.9 2075.6,1216.4 2075.9,1217.9 2076.3,1216.4 2076.6,1217.9 2076.9,1217.2 2077.2,1211.3 2077.5,1217.9 2077.9,1223.4 2078.2,1224.5 2078.5,1220.5 2078.8,1217.7 2079.2,1215.4 2079.5,1218.4 2079.8,1217.9 2080.1,1216.5 2080.5,1221.1 2080.8,1218.4 2081.1,1217.3 2081.4,1219.4 2081.7,1220.7 2082.1,1216.7 2082.4,1215.0 2082.7,1218.0 2083.0,1225.1 2083.4,1220.5 2083.7,1219.4 2084.0,1216.9 2084.3,1219.6 2084.7,1219.4 2085.0,1215.3 2085.3,1214.5 2085.6,1217.9 2085.9,1221.4 2086.3,1221.7 2086.6,1216.3 2086.9,1220.4 2087.2,1218.2 2087.6,1218.7 2087.9,1217.7 2088.2,1217.2 2088.5,1221.2 2088.8,1220.0 2089.2,1217.6 2089.5,1218.0 2089.8,1222.1 2090.1,1212.5 2090.5,1222.2 2090.8,1215.1 2091.1,1222.8 2091.4,1215.3 2091.8,1223.2 2092.1,1215.4 2092.4,1217.6 2092.7,1215.7 2093.0,1220.2 2093.4,1217.3 2093.7,1217.3 2094.0,1217.5 2094.3,1219.6 2094.7,1214.0 2095.0,1223.2 2095.3,1222.4 2095.6,1222.2 2095.9,1213.8 2096.3,1220.5 2096.6,1220.0 2096.9,1220.0 2097.2,1218.8 2097.6,1218.6 2097.9,1219.3 2098.2,1222.2 2098.5,1216.6 2098.9,1217.8 2099.2,1213.3 2099.5,1216.5 2099.8,1217.9 2100.1,1221.9 2100.5,1217.4 2100.8,1215.9 2101.1,1212.8 2101.4,1216.5 2101.8,1215.3 2102.1,1215.8 2102.4,1212.8 2102.7,1214.2 2103.0,1217.3 2103.4,1221.7 2103.7,1212.7 2104.0,1217.2 2104.3,1219.8 2104.7,1221.6 2105.0,1222.6 2105.3,1216.6 2105.6,1217.8 2106.0,1216.4 2106.3,1213.7 2106.6,1219.1 2106.9,1216.4 2107.2,1218.8 2107.6,1219.7 2107.9,1223.7 2108.2,1219.5 2108.5,1214.0 2108.9,1218.6 2109.2,1216.2 2109.5,1216.7 2109.8,1211.1 2110.2,1212.7 2110.5,1218.8 2110.8,1218.2 2111.1,1213.5 2111.4,1216.2 2111.8,1216.5 2112.1,1213.3 2112.4,1215.1 2112.7,1216.2 2113.1,1207.8 2113.4,1215.4 2113.7,1220.5 2114.0,1215.6 2114.3,1215.7 2114.7,1211.5 2115.0,1215.5 2115.3,1218.3 2115.6,1215.3 2116.0,1220.0 2116.3,1217.4 2116.6,1215.3 2116.9,1218.8 2117.3,1222.2 2117.6,1219.3 2117.9,1218.6 2118.2,1214.5 2118.5,1217.6 2118.9,1216.4 2119.2,1218.9 2119.5,1215.9 2119.8,1217.9 2120.2,1214.4 2120.5,1215.3 2120.8,1211.8 2121.1,1214.3 2121.4,1216.9 2121.8,1218.5 2122.1,1215.3 2122.4,1213.7 2122.7,1211.3 2123.1,1217.4 2123.4,1219.6 2123.7,1221.1 2124.0,1218.6 2124.4,1216.2 2124.7,1216.4 2125.0,1216.5 2125.3,1215.7 2125.6,1214.6 2126.0,1220.4 2126.3,1215.3 2126.6,1215.9 2126.9,1215.9 2127.3,1216.6 2127.6,1220.8 2127.9,1213.9 2128.2,1216.6 2128.5,1215.5 2128.9,1214.2 2129.2,1215.0 2129.5,1213.8 2129.8,1213.7 2130.2,1217.6 2130.5,1218.2 2130.8,1212.5 2131.1,1217.0 2131.5,1208.4 2131.8,1217.9 2132.1,1214.1 2132.4,1214.8 2132.7,1213.7 2133.1,1217.2 2133.4,1213.5 2133.7,1208.5 2134.0,1215.9 2134.4,1220.7 2134.7,1212.3 2135.0,1212.9 2135.3,1212.1 2135.7,1216.3 2136.0,1212.7 2136.3,1211.3 2136.6,1215.2 2136.9,1213.6 2137.3,1212.2 2137.6,1211.4 2137.9,1214.2 2138.2,1212.9 2138.6,1207.6 2138.9,1207.4 2139.2,1216.3 2139.5,1206.8 2139.8,1214.2 2140.2,1209.9 2140.5,1216.5 2140.8,1213.4 2141.1,1214.7 2141.5,1210.3 2141.8,1212.0 2142.1,1211.3 2142.4,1211.3 2142.8,1211.8 2143.1,1209.7 2143.4,1211.9 2143.7,1212.4 2144.0,1213.9 2144.4,1214.6 2144.7,1213.4 2145.0,1210.8 2145.3,1208.8 2145.7,1212.0 2146.0,1205.8 2146.3,1207.8 2146.6,1211.2 2146.9,1210.2 2147.3,1211.2 2147.6,1216.3 2147.9,1208.6 2148.2,1210.2 2148.6,1215.6 2148.9,1208.1 2149.2,1212.1 2149.5,1211.1 2149.9,1215.3 2150.2,1210.3 2150.5,1208.8 2150.8,1211.2 2151.1,1209.9 2151.5,1215.2 2151.8,1208.1 2152.1,1209.7 2152.4,1209.5 2152.8,1207.3 2153.1,1206.1 2153.4,1209.2 2153.7,1206.3 2154.0,1203.4 2154.4,1211.8 2154.7,1208.2 2155.0,1213.1 2155.3,1207.2 2155.7,1204.1 2156.0,1208.3 2156.3,1211.1 2156.6,1209.2 2157.0,1206.3 2157.3,1211.7 2157.6,1211.3 2157.9,1205.7 2158.2,1210.8 2158.6,1206.5 2158.9,1209.6 2159.2,1211.0 2159.5,1203.8 2159.9,1202.7 2160.2,1208.1 2160.5,1198.9 2160.8,1205.0 2161.2,1203.7 2161.5,1204.5 2161.8,1208.0 2162.1,1201.6 2162.4,1204.0 2162.8,1202.7 2163.1,1203.6 2163.4,1204.9 2163.7,1196.7 2164.1,1202.1 2164.4,1203.8 2164.7,1201.0 2165.0,1206.2 2165.3,1201.4 2165.7,1194.3 2166.0,1203.9 2166.3,1200.3 2166.6,1204.9 2167.0,1201.2 2167.3,1197.7 2167.6,1203.7 2167.9,1203.2 2168.3,1196.8 2168.6,1199.2 2168.9,1197.7 2169.2,1197.8 2169.5,1202.9 2169.9,1203.8 2170.2,1204.1 2170.5,1196.8 2170.8,1202.1 2171.2,1202.8 2171.5,1199.0 2171.8,1197.5 2172.1,1195.9 2172.4,1201.7 2172.8,1192.2 2173.1,1198.5 2173.4,1194.9 2173.7,1195.1 2174.1,1197.5 2174.4,1193.1 2174.7,1192.9 2175.0,1190.2 2175.4,1187.5 2175.7,1186.4 2176.0,1189.5 2176.3,1189.8 2176.6,1192.5 2177.0,1195.4 2177.3,1189.3 2177.6,1191.8 2177.9,1190.4 2178.3,1190.5 2178.6,1187.4 2178.9,1189.3 2179.2,1180.6 2179.5,1184.6 2179.9,1188.1 2180.2,1185.0 2180.5,1181.4 2180.8,1188.4 2181.2,1183.7 2181.5,1185.3 2181.8,1183.0 2182.1,1184.0 2182.5,1181.4 2182.8,1179.9 2183.1,1178.8 2183.4,1184.3 2183.7,1177.2 2184.1,1178.4 2184.4,1179.7 2184.7,1177.2 2185.0,1171.5 2185.4,1175.9 2185.7,1177.2 2186.0,1171.8 2186.3,1173.6 2186.7,1170.0 2187.0,1170.4 2187.3,1166.3 2187.6,1171.1 2187.9,1169.5 2188.3,1164.2 2188.6,1161.3 2188.9,1164.7 2189.2,1160.7 2189.6,1161.7 2189.9,1161.9 2190.2,1165.7 2190.5,1153.4 2190.8,1154.9 2191.2,1163.8 2191.5,1153.5 2191.8,1156.2 2192.1,1156.1 2192.5,1153.4 2192.8,1148.1 2193.1,1148.9 2193.4,1147.8 2193.8,1146.1 2194.1,1145.1 2194.4,1140.7 2194.7,1146.6 2195.0,1142.7 2195.4,1137.4 2195.7,1138.5 2196.0,1132.7 2196.3,1132.2 2196.7,1127.9 2197.0,1127.5 2197.3,1123.0 2197.6,1122.6 2197.9,1118.1 2198.3,1118.9 2198.6,1120.6 2198.9,1112.9 2199.2,1110.3 2199.6,1109.1 2199.9,1102.0 2200.2,1100.6 2200.5,1094.7 2200.9,1097.4 2201.2,1094.4 2201.5,1088.7 2201.8,1082.5 2202.1,1085.8 2202.5,1078.9 2202.8,1077.0 2203.1,1074.3 2203.4,1067.0 2203.8,1063.4 2204.1,1060.1 2204.4,1060.4 2204.7,1054.5 2205.0,1055.6 2205.4,1044.6 2205.7,1046.1 2206.0,1038.5 2206.3,1030.6 2206.7,1029.5 2207.0,1023.6 2207.3,1021.5 2207.6,1006.2 2208.0,1013.6 2208.3,1006.6 2208.6,1000.1 2208.9,985.8 2209.2,991.1 2209.6,983.7 2209.9,975.8 2210.2,980.2 2210.5,964.4 2210.9,960.6 2211.2,951.0 2211.5,945.2 2211.8,943.0 2212.2,935.1 2212.5,935.4 2212.8,931.4 2213.1,922.3 2213.4,915.0 2213.8,911.0 2214.1,902.6 2214.4,896.1 2214.7,886.4 2215.1,887.7 2215.4,883.3 2215.7,874.4 2216.0,870.0 2216.3,863.5 2216.7,854.3 2217.0,858.9 2217.3,848.4 2217.6,841.6 2218.0,837.6 2218.3,844.2 2218.6,836.0 2218.9,826.5 2219.3,828.3 2219.6,823.8 2219.9,823.4 2220.2,815.8 2220.5,818.0 2220.9,818.6 2221.2,816.0 2221.5,810.3 2221.8,813.7 2222.2,821.6 2222.5,823.8 2222.8,813.9 2223.1,824.1 2223.4,818.7 2223.8,823.9 2224.1,822.5 2224.4,828.7 2224.7,837.8 2225.1,826.6 2225.4,835.6 2225.7,839.8 2226.0,837.3 2226.4,844.8 2226.7,847.7 2227.0,857.3 2227.3,860.9 2227.6,864.7 2228.0,873.8 2228.3,873.8 2228.6,880.7 2228.9,888.9 2229.3,894.8 2229.6,895.9 2229.9,905.4 2230.2,909.1 2230.5,915.4 2230.9,922.9 2231.2,939.3 2231.5,932.6 2231.8,936.8 2232.2,947.6 2232.5,953.4 2232.8,953.8 2233.1,966.5 2233.5,963.9 2233.8,971.7 2234.1,974.5 2234.4,984.6 2234.7,989.4 2235.1,994.1 2235.4,1005.2 2235.7,1008.1 2236.0,1006.7 2236.4,1017.3 2236.7,1023.0 2237.0,1023.6 2237.3,1025.0 2237.7,1034.0 2238.0,1039.1 2238.3,1042.7 2238.6,1045.6 2238.9,1055.8 2239.3,1054.0 2239.6,1057.8 2239.9,1059.8 2240.2,1063.5 2240.6,1068.5 2240.9,1068.1 2241.2,1077.5 2241.5,1081.3 2241.8,1079.6 2242.2,1087.3 2242.5,1092.5 2242.8,1095.5 2243.1,1097.0 2243.5,1103.9 2243.8,1099.9 2244.1,1104.7 2244.4,1104.6 2244.8,1114.0 2245.1,1114.6 2245.4,1117.9 2245.7,1117.0 2246.0,1119.8 2246.4,1121.0 2246.7,1123.4 2247.0,1130.8 2247.3,1129.0 2247.7,1131.6 2248.0,1133.9 2248.3,1134.4 2248.6,1143.2 2248.9,1141.6 2249.3,1142.2 2249.6,1145.6 2249.9,1148.2 2250.2,1143.9 2250.6,1145.6 2250.9,1144.8 2251.2,1153.9 2251.5,1159.4 2251.9,1152.3 2252.2,1156.6 2252.5,1160.1 2252.8,1156.9 2253.1,1159.9 2253.5,1165.9 2253.8,1161.9 2254.1,1168.1 2254.4,1163.0 2254.8,1169.3 2255.1,1171.2 2255.4,1165.8 2255.7,1166.2 2256.0,1170.6 2256.4,1174.2 2256.7,1170.1 2257.0,1172.4 2257.3,1173.0 2257.7,1175.7 2258.0,1179.7 2258.3,1177.6 2258.6,1173.0 2259.0,1179.8 2259.3,1179.0 2259.6,1179.6 2259.9,1177.5 2260.2,1180.1 2260.6,1182.8 2260.9,1176.9 2261.2,1182.5 2261.5,1182.7 2261.9,1186.2 2262.2,1189.3 2262.5,1184.2 2262.8,1187.1 2263.2,1185.8 2263.5,1193.7 2263.8,1183.0 2264.1,1188.3 2264.4,1186.6 2264.8,1192.5 2265.1,1189.7 2265.4,1190.0 2265.7,1187.8 2266.1,1189.2 2266.4,1197.8 2266.7,1191.8 2267.0,1192.5 2267.3,1194.2 2267.7,1193.1 2268.0,1192.5 2268.3,1191.8 2268.6,1198.2 2269.0,1197.8 2269.3,1195.7 2269.6,1194.3 2269.9,1199.3 2270.3,1196.9 2270.6,1200.9 2270.9,1197.6 2271.2,1198.5 2271.5,1196.9 2271.9,1194.8 2272.2,1201.3 2272.5,1198.2 2272.8,1204.2 2273.2,1199.1 2273.5,1195.3 2273.8,1205.1 2274.1,1202.4 2274.4,1210.4 2274.8,1200.3 2275.1,1195.6 2275.4,1204.8 2275.7,1201.5 2276.1,1198.7 2276.4,1205.2 2276.7,1202.6 2277.0,1205.7 2277.4,1205.1 2277.7,1203.9 2278.0,1201.7 2278.3,1203.8 2278.6,1204.8 2279.0,1205.5 2279.3,1202.1 2279.6,1204.0 2279.9,1204.5 2280.3,1211.2 2280.6,1206.7 2280.9,1209.4 2281.2,1201.5 2281.5,1204.8 2281.9,1202.8 2282.2,1209.5 2282.5,1211.8 2282.8,1209.9 2283.2,1205.9 2283.5,1209.9 2283.8,1206.0 2284.1,1204.4 2284.5,1209.4 2284.8,1205.8 2285.1,1215.2 2285.4,1212.6 2285.7,1211.0 2286.1,1210.4 2286.4,1213.7 2286.7,1210.8 2287.0,1206.9 2287.4,1207.6 2287.7,1209.0 2288.0,1213.0 2288.3,1206.4 2288.7,1208.8 2289.0,1213.8 2289.3,1208.2 2289.6,1212.2 2289.9,1209.7 2290.3,1210.3 2290.6,1209.9 2290.9,1207.4 2291.2,1204.6 2291.6,1210.8 2291.9,1211.7 2292.2,1212.3 2292.5,1211.0 2292.8,1210.7 2293.2,1216.3 2293.5,1212.4 2293.8,1206.2 2294.1,1210.7 2294.5,1209.9 2294.8,1213.3 2295.1,1207.0 2295.4,1211.7 2295.8,1214.4 2296.1,1215.8 2296.4,1212.4 2296.7,1208.7 2297.0,1215.9 2297.4,1216.9 2297.7,1220.9 2298.0,1212.3 2298.3,1217.6 2298.7,1216.7 2299.0,1217.8 2299.3,1217.4 2299.6,1212.7 2299.9,1217.3 2300.3,1214.7 2300.6,1217.4 2300.9,1216.5 2301.2,1213.6 2301.6,1213.7 2301.9,1219.1 2302.2,1215.7 2302.5,1218.6 2302.9,1214.0 2303.2,1217.9 2303.5,1218.9 2303.8,1213.9 2304.1,1218.0 2304.5,1216.1 2304.8,1214.5 2305.1,1218.2 2305.4,1217.7 2305.8,1215.1 2306.1,1210.4 2306.4,1215.3 2306.7,1215.0 2307.0,1217.1 2307.4,1217.4 2307.7,1213.0 2308.0,1219.6 2308.3,1219.6 2308.7,1213.3 2309.0,1219.9 2309.3,1221.4 2309.6,1216.4 2310.0,1215.0 2310.3,1212.9 2310.6,1211.6 2310.9,1224.6 2311.2,1218.7 2311.6,1219.1 2311.9,1217.1 2312.2,1220.7 2312.5,1218.2 2312.9,1217.5 2313.2,1217.8 2313.5,1220.9 2313.8,1217.8 2314.2,1221.1 2314.5,1221.1 2314.8,1219.4 2315.1,1216.3 2315.4,1224.6 2315.8,1218.9 2316.1,1214.8 2316.4,1218.4 2316.7,1220.4 2317.1,1218.2 2317.4,1214.4 2317.7,1219.5 2318.0,1221.1 2318.3,1216.9 2318.7,1219.9 2319.0,1221.2 2319.3,1216.8 2319.6,1221.7 2320.0,1220.2 2320.3,1215.4 2320.6,1218.9 2320.9,1215.7 2321.3,1224.6 2321.6,1223.9 2321.9,1221.8 2322.2,1219.9 2322.5,1225.2 2322.9,1219.0 2323.2,1221.2 2323.5,1221.2 2323.8,1219.6 2324.2,1220.5 2324.5,1223.3 2324.8,1220.5 2325.1,1223.4 2325.4,1216.0 2325.8,1221.3 2326.1,1220.7 2326.4,1221.9 2326.7,1219.9 2327.1,1219.3 2327.4,1220.4 2327.7,1223.1 2328.0,1216.8 2328.4,1220.2 2328.7,1225.6 2329.0,1226.7 2329.3,1223.5 2329.6,1223.7 2330.0,1225.1 2330.3,1223.1 2330.6,1219.4 2330.9,1216.7 2331.3,1219.7 2331.6,1219.4 2331.9,1217.1 2332.2,1214.0 2332.5,1217.1 2332.9,1218.7 2333.2,1220.9 2333.5,1223.4 2333.8,1219.3 2334.2,1217.0 2334.5,1219.6 2334.8,1222.2 2335.1,1218.9 2335.5,1220.9 2335.8,1222.4 2336.1,1226.4 2336.4,1219.1 2336.7,1222.6 2337.1,1217.3 2337.4,1222.6 2337.7,1220.5 2338.0,1222.4 2338.4,1215.6 2338.7,1216.8 2339.0,1220.8 2339.3,1216.6 2339.7,1224.5 2340.0,1218.9 2340.3,1222.5 2340.6,1221.2 2340.9,1222.2 2341.3,1219.1 2341.6,1226.1 2341.9,1222.2 2342.2,1216.9 2342.6,1227.6 2342.9,1221.5 2343.2,1224.8 2343.5,1228.8 2343.8,1219.8 2344.2,1222.4 2344.5,1217.2 2344.8,1226.4 2345.1,1219.9 2345.5,1216.3 2345.8,1226.4 2346.1,1219.1 2346.4,1219.0 2346.8,1220.4 2347.1,1216.9 2347.4,1219.0 2347.7,1223.1 2348.0,1223.3 2348.4,1221.4 2348.7,1216.2 2349.0,1221.4 2349.3,1218.4 2349.7,1221.5 2350.0,1219.2 2350.3,1219.5 2350.6,1217.4 2350.9,1215.7 2351.3,1222.5 2351.6,1224.4 2351.9,1221.3 2352.2,1221.2 2352.6,1220.3 2352.9,1218.1 2353.2,1222.3 2353.5,1221.0 2353.9,1221.0 2354.2,1217.8 2354.5,1222.3 2354.8,1217.5 2355.1,1215.3 2355.5,1221.7 2355.8,1216.9 2356.1,1219.4 2356.4,1221.2 2356.8,1215.1 2357.1,1217.4 2357.4,1221.9 2357.7,1219.3 2358.0,1223.0 2358.4,1225.1 2358.7,1217.9 2359.0,1221.0 2359.3,1216.1 2359.7,1220.5 2360.0,1220.2 2360.3,1221.3 2360.6,1220.5 2361.0,1223.3 2361.3,1221.7 2361.6,1226.1 2361.9,1226.3 2362.2,1225.0 2362.6,1222.9 2362.9,1221.3 2363.2,1221.6 2363.5,1217.6 2363.9,1213.8 2364.2,1228.2 2364.5,1216.8 2364.8,1218.3 2365.2,1222.8 2365.5,1220.6 2365.8,1226.8 2366.1,1221.8 2366.4,1216.5 2366.8,1224.6 2367.1,1222.9 2367.4,1220.8 2367.7,1219.1 2368.1,1221.0 2368.4,1222.7 2368.7,1219.2 2369.0,1222.9 2369.3,1214.1 2369.7,1217.5 2370.0,1220.8 2370.3,1223.5 2370.6,1222.8 2371.0,1223.3 2371.3,1222.2 2371.6,1219.9 2371.9,1225.0 2372.3,1220.7 2372.6,1221.2 2372.9,1224.0 2373.2,1217.4 2373.5,1219.8 2373.9,1220.2 2374.2,1222.9 2374.5,1223.4 2374.8,1221.1 2375.2,1225.5 2375.5,1220.2 2375.8,1224.5 2376.1,1221.3 2376.4,1219.3 2376.8,1222.0 2377.1,1223.1 2377.4,1223.4 2377.7,1220.8 2378.1,1224.5 2378.4,1221.4 2378.7,1218.4 2379.0,1226.8 2379.4,1223.6 2379.7,1220.5 2380.0,1224.5 2380.3,1224.3 2380.6,1224.9 2381.0,1218.8 2381.3,1227.6 2381.6,1221.7 2381.9,1221.9 2382.3,1221.3 2382.6,1223.6 2382.9,1221.1 2383.2,1222.9 2383.5,1223.9 2383.9,1213.8 2384.2,1218.4 2384.5,1224.5 2384.8,1223.4 2385.2,1220.1 2385.5,1217.2 2385.8,1221.9 2386.1,1219.3 2386.5,1220.8 2386.8,1217.9 2387.1,1222.9 2387.4,1223.6 2387.7,1220.5 2388.1,1220.5 2388.4,1221.2 2388.7,1217.7 2389.0,1219.3 2389.4,1221.0 2389.7,1224.7 2390.0,1219.3 2390.3,1218.8 2390.7,1223.1 2391.0,1221.5 2391.3,1224.5 2391.6,1220.9 2391.9,1221.9 2392.3,1226.4 2392.6,1221.2 2392.9,1222.2 2393.2,1222.2 2393.6,1218.2 2393.9,1219.8 2394.2,1218.6 2394.5,1222.1 2394.8,1217.2 2395.2,1223.4 2395.5,1219.0 2395.8,1225.5 2396.1,1220.5 2396.5,1224.1 2396.8,1225.3 2397.1,1219.1 2397.4,1220.5 2397.8,1219.6 2398.1,1221.0 2398.4,1220.3 2398.7,1221.2 2399.0,1221.5 2399.4,1220.7 2399.7,1214.3 2400.0,1224.0 2400.3,1225.4 2400.7,1223.7 2401.0,1223.0 2401.3,1219.5 2401.6,1217.8 2401.9,1217.7 2402.3,1221.7 2402.6,1218.9 2402.9,1215.6 2403.2,1219.2 2403.6,1217.2 2403.9,1223.8 2404.2,1218.4 2404.5,1218.7 2404.9,1224.6 2405.2,1220.9 2405.5,1219.2 2405.8,1223.7 2406.1,1218.4 2406.5,1218.3 2406.8,1220.2 2407.1,1221.4 2407.4,1221.7 2407.8,1220.1 2408.1,1217.9 2408.4,1225.1 2408.7,1220.6 2409.0,1220.5 2409.4,1223.8 2409.7,1225.0 2410.0,1221.9 2410.3,1226.2 2410.7,1220.7 2411.0,1222.2 2411.3,1224.6 2411.6,1221.3 2412.0,1223.9 2412.3,1223.5 2412.6,1218.0 2412.9,1223.7 2413.2,1228.9 2413.6,1220.6 2413.9,1224.5 2414.2,1224.1 2414.5,1217.0 2414.9,1221.8 2415.2,1219.2 2415.5,1225.6 2415.8,1224.6 2416.2,1224.1 2416.5,1219.5 2416.8,1223.6 2417.1,1227.3 2417.4,1219.5 2417.8,1223.2 2418.1,1221.5 2418.4,1219.5 2418.7,1215.4 2419.1,1221.9 2419.4,1217.1 2419.7,1225.8 2420.0,1221.3 2420.3,1220.9 2420.7,1228.3 2421.0,1224.7 2421.3,1224.0 2421.6,1220.4 2422.0,1223.3 2422.3,1223.1 2422.6,1223.8 2422.9,1220.5 2423.3,1222.1 2423.6,1222.1 2423.9,1222.6 2424.2,1219.9 2424.5,1224.0 2424.9,1222.0 2425.2,1221.8 2425.5,1220.8 2425.8,1218.9 2426.2,1220.9 2426.5,1225.8 2426.8,1219.0 2427.1,1218.3 2427.4,1218.1 2427.8,1219.3 2428.1,1226.4 2428.4,1222.2 2428.7,1219.5 2429.1,1219.4 2429.4,1222.1 2429.7,1221.4 2430.0,1225.0 2430.4,1220.7 2430.7,1227.9 2431.0,1222.5 2431.3,1219.0 2431.6,1225.3 2432.0,1218.1 2432.3,1216.1 2432.6,1220.3 2432.9,1223.4 2433.3,1223.3 2433.6,1225.4 2433.9,1219.7 2434.2,1225.1 2434.5,1221.3 2434.9,1225.1 2435.2,1220.3 2435.5,1225.9 2435.8,1222.3 2436.2,1224.0 2436.5,1219.0 2436.8,1223.1 2437.1,1222.4 2437.5,1218.7 2437.8,1225.2 2438.1,1225.6 2438.4,1222.2 2438.7,1225.0 2439.1,1217.2 2439.4,1221.7 2439.7,1221.3 2440.0,1223.1 2440.4,1231.3 2440.7,1218.4 2441.0,1222.5 2441.3,1228.0 2441.7,1225.3 2442.0,1222.3 2442.3,1218.6 2442.6,1221.2 2442.9,1221.1 2443.3,1221.3 2443.6,1224.8 2443.9,1224.2 2444.2,1222.2 2444.6,1226.2 2444.9,1222.2 2445.2,1220.3 2445.5,1229.2 2445.8,1223.0 2446.2,1223.1 2446.5,1222.0 2446.8,1217.2 2447.1,1226.4 2447.5,1216.7 2447.8,1220.4 2448.1,1215.2 2448.4,1223.5 2448.8,1221.3 2449.1,1222.8 2449.4,1220.9 2449.7,1225.0 2450.0,1224.7 2450.4,1222.9 2450.7,1220.6 2451.0,1226.3 2451.3,1223.4 2451.7,1224.3 2452.0,1221.6 2452.3,1220.1 2452.6,1226.9 2452.9,1225.5 2453.3,1223.6 2453.6,1225.5 2453.9,1218.4 2454.2,1217.6 2454.6,1220.4 2454.9,1221.1 2455.2,1225.8 2455.5,1225.4 2455.9,1221.4 2456.2,1218.3 2456.5,1223.7 2456.8,1221.8 2457.1,1218.0 2457.5,1217.6 2457.8,1225.6 2458.1,1221.9 2458.4,1220.5 2458.8,1227.5 2459.1,1224.1 2459.4,1222.2 2459.7,1224.3 2460.0,1221.3 2460.4,1223.9 2460.7,1227.8 2461.0,1226.5 2461.3,1229.1 2461.7,1226.8 2462.0,1221.2 2462.3,1222.1 2462.6,1221.5 2463.0,1219.2 2463.3,1226.3 2463.6,1224.4"/>
<line x1="366.5" y1="1477" x2="366.5" y2="1074.8" stroke="#06236A" stroke-width="4.5"/>
<circle cx="365.5" cy="1478" r="4.5" fill="#06236A"/>
<defs><polyline id="nv" points="365.8,1074.8 366.1,1070.3 366.5,1074.3 366.8,1075.5 367.1,1074.3 367.4,1077.8 367.8,1080.8 368.1,1074.0 368.4,1077.7 368.7,1076.2 369.1,1081.9 369.4,1082.1 369.7,1078.4 370.0,1081.0 370.3,1079.9 370.7,1085.4 371.0,1083.8 371.3,1082.6 371.6,1082.6 372.0,1085.8 372.3,1085.4 372.6,1087.1 372.9,1087.8 373.2,1088.1 373.6,1087.2 373.9,1092.9 374.2,1089.8 374.5,1093.1 374.9,1090.8 375.2,1092.1 375.5,1091.5 375.8,1093.3 376.2,1093.6 376.5,1097.7 376.8,1090.4 377.1,1098.7 377.4,1100.8 377.8,1095.1 378.1,1095.0 378.4,1097.4 378.7,1098.6 379.1,1101.3 379.4,1093.4 379.7,1103.8 380.0,1092.9 380.3,1104.4 380.7,1103.2 381.0,1101.5 381.3,1102.5 381.6,1100.3 382.0,1104.6 382.3,1103.6 382.6,1107.5 382.9,1100.2 383.3,1104.8 383.6,1106.5 383.9,1104.7 384.2,1102.7 384.5,1104.6 384.9,1108.1 385.2,1106.1 385.5,1106.0 385.8,1106.2 386.2,1108.6 386.5,1106.3 386.8,1111.7 387.1,1108.7 387.4,1111.7 387.8,1109.7 388.1,1111.9 388.4,1108.8 388.7,1112.3 389.1,1108.2 389.4,1114.6 389.7,1109.5 390.0,1115.2 390.4,1120.2 390.7,1116.5 391.0,1111.7 391.3,1113.9 391.6,1113.4 392.0,1116.2 392.3,1114.5 392.6,1118.5 392.9,1111.2 393.3,1111.9 393.6,1115.4 393.9,1118.6 394.2,1119.1 394.6,1115.9 394.9,1116.9 395.2,1120.7 395.5,1116.5 395.8,1116.4 396.2,1117.6 396.5,1118.3 396.8,1119.1 397.1,1120.0 397.5,1121.2 397.8,1122.3 398.1,1117.5 398.4,1125.5 398.7,1121.2 399.1,1119.4 399.4,1115.6 399.7,1123.3 400.0,1118.8 400.4,1119.3 400.7,1120.5 401.0,1118.3 401.3,1128.4 401.7,1121.2 402.0,1124.6 402.3,1123.3 402.6,1125.2 402.9,1127.5 403.3,1130.6 403.6,1124.5 403.9,1126.6 404.2,1129.9 404.6,1126.7 404.9,1129.7 405.2,1129.2 405.5,1126.5 405.8,1125.0 406.2,1132.8 406.5,1127.9 406.8,1126.2 407.1,1131.6 407.5,1129.2 407.8,1127.6 408.1,1126.1 408.4,1132.1 408.8,1133.7 409.1,1131.1 409.4,1131.0 409.7,1129.9 410.0,1129.9 410.4,1135.7 410.7,1128.4 411.0,1135.3 411.3,1129.9 411.7,1129.7 412.0,1130.1 412.3,1130.7 412.6,1130.7 412.9,1134.2 413.3,1134.5 413.6,1126.4 413.9,1128.2 414.2,1129.0 414.6,1130.7 414.9,1137.7 415.2,1128.2 415.5,1134.3 415.9,1134.0 416.2,1132.0 416.5,1136.3 416.8,1131.1 417.1,1141.9 417.5,1131.9 417.8,1134.2 418.1,1138.3 418.4,1133.9 418.8,1133.3 419.1,1134.6 419.4,1134.5 419.7,1138.1 420.1,1134.8 420.4,1135.0 420.7,1134.7 421.0,1136.8 421.3,1143.6 421.7,1137.7 422.0,1143.2 422.3,1142.0 422.6,1140.5 423.0,1139.9 423.3,1141.5 423.6,1140.0 423.9,1139.7 424.2,1140.9 424.6,1141.5 424.9,1141.0 425.2,1140.3 425.5,1145.1 425.9,1147.0 426.2,1140.1 426.5,1143.0 426.8,1150.2 427.2,1140.7 427.5,1140.9 427.8,1149.6 428.1,1148.0 428.4,1146.4 428.8,1148.6 429.1,1147.2 429.4,1145.7 429.7,1142.9 430.1,1153.0 430.4,1145.9 430.7,1143.2 431.0,1153.4 431.3,1145.8 431.7,1147.0 432.0,1148.6 432.3,1145.0 432.6,1143.6 433.0,1144.4 433.3,1141.9 433.6,1150.0 433.9,1154.0 434.3,1149.8 434.6,1148.0 434.9,1145.3 435.2,1147.3 435.5,1150.7 435.9,1145.3 436.2,1148.1 436.5,1148.9 436.8,1150.3 437.2,1148.8 437.5,1148.5 437.8,1150.2 438.1,1157.3 438.4,1153.2 438.8,1149.6 439.1,1146.6 439.4,1147.9 439.7,1148.3 440.1,1146.6 440.4,1149.8 440.7,1148.2 441.0,1149.2 441.4,1151.6 441.7,1155.0 442.0,1157.3 442.3,1151.6 442.6,1156.5 443.0,1153.5 443.3,1151.3 443.6,1155.6 443.9,1151.1 444.3,1153.7 444.6,1156.6 444.9,1152.6 445.2,1152.4 445.6,1156.0 445.9,1153.4 446.2,1158.2 446.5,1154.8 446.8,1154.5 447.2,1158.5 447.5,1155.4 447.8,1151.8 448.1,1157.9 448.5,1159.5 448.8,1160.6 449.1,1158.9 449.4,1160.0 449.7,1161.8 450.1,1156.9 450.4,1156.4 450.7,1160.4 451.0,1157.6 451.4,1155.3 451.7,1157.1 452.0,1157.8 452.3,1156.5 452.7,1160.5 453.0,1156.3 453.3,1153.7 453.6,1161.0 453.9,1164.7 454.3,1161.6 454.6,1162.5 454.9,1159.2 455.2,1156.5 455.6,1158.5 455.9,1155.4 456.2,1159.2 456.5,1160.4 456.8,1166.4 457.2,1159.9 457.5,1163.0 457.8,1162.9 458.1,1162.3 458.5,1157.1 458.8,1159.4 459.1,1162.0 459.4,1166.3 459.8,1163.6 460.1,1163.3 460.4,1160.2 460.7,1161.3 461.0,1161.6 461.4,1165.9 461.7,1160.7 462.0,1155.9 462.3,1167.8 462.7,1166.9 463.0,1164.0 463.3,1161.6 463.6,1163.8 463.9,1164.4 464.3,1160.7 464.6,1168.1 464.9,1171.1 465.2,1169.8 465.6,1163.3 465.9,1163.1 466.2,1167.1 466.5,1170.3 466.9,1168.8 467.2,1165.4 467.5,1163.9 467.8,1168.7 468.1,1169.4 468.5,1169.9 468.8,1169.2 469.1,1165.7 469.4,1167.2 469.8,1166.9 470.1,1167.8 470.4,1167.7 470.7,1172.2 471.1,1171.6 471.4,1167.8 471.7,1167.8 472.0,1166.0 472.3,1169.4 472.7,1171.9 473.0,1170.1 473.3,1170.4 473.6,1168.3 474.0,1170.5 474.3,1168.7 474.6,1168.7 474.9,1168.9 475.2,1168.9 475.6,1173.5 475.9,1167.6 476.2,1166.3 476.5,1168.7 476.9,1166.6 477.2,1170.1 477.5,1173.0 477.8,1170.0 478.2,1171.8 478.5,1172.2 478.8,1167.4 479.1,1174.6 479.4,1168.9 479.8,1173.9 480.1,1177.3 480.4,1170.4 480.7,1172.3 481.1,1172.1 481.4,1172.1 481.7,1169.8 482.0,1172.0 482.3,1173.8 482.7,1173.4 483.0,1172.0 483.3,1175.0 483.6,1172.4 484.0,1179.4 484.3,1174.1 484.6,1173.9 484.9,1172.0 485.3,1177.2 485.6,1174.8 485.9,1173.1 486.2,1166.5 486.5,1174.1 486.9,1173.0 487.2,1176.4 487.5,1168.9 487.8,1175.7 488.2,1175.9 488.5,1175.0 488.8,1179.2 489.1,1178.5 489.4,1176.8 489.8,1178.2 490.1,1173.3 490.4,1177.6 490.7,1170.1 491.1,1175.7 491.4,1178.6 491.7,1176.3 492.0,1174.9 492.4,1176.9 492.7,1175.9 493.0,1177.8 493.3,1179.5 493.6,1177.7 494.0,1172.7 494.3,1178.8 494.6,1178.0 494.9,1182.2 495.3,1179.9 495.6,1177.3 495.9,1179.3 496.2,1175.2 496.6,1175.8 496.9,1179.9 497.2,1179.1 497.5,1177.1 497.8,1178.0 498.2,1180.0 498.5,1184.3 498.8,1175.5 499.1,1179.4 499.5,1179.1 499.8,1181.6 500.1,1175.6 500.4,1180.2 500.7,1179.5 501.1,1185.7 501.4,1181.5 501.7,1180.5 502.0,1179.4 502.4,1178.7 502.7,1181.2 503.0,1178.0 503.3,1181.3 503.7,1181.5 504.0,1181.2 504.3,1186.0 504.6,1187.6 504.9,1176.5 505.3,1186.6 505.6,1183.6 505.9,1180.4 506.2,1184.0 506.6,1179.2 506.9,1187.8 507.2,1182.2 507.5,1181.0 507.8,1176.8 508.2,1178.9 508.5,1185.1 508.8,1180.8 509.1,1182.5 509.5,1186.8 509.8,1185.0 510.1,1180.8 510.4,1184.6 510.8,1186.6 511.1,1185.8 511.4,1187.7 511.7,1188.7 512.0,1183.5 512.4,1183.4 512.7,1181.9 513.0,1189.2 513.3,1188.1 513.7,1184.0 514.0,1184.9 514.3,1185.9 514.6,1188.9 514.9,1186.6 515.3,1189.7 515.6,1181.7 515.9,1184.1 516.2,1188.9 516.6,1182.9 516.9,1189.3 517.2,1185.0 517.5,1186.3 517.9,1187.9 518.2,1183.2 518.5,1191.7 518.8,1188.1 519.1,1188.2 519.5,1192.4 519.8,1191.8 520.1,1187.4 520.4,1187.1 520.8,1190.7 521.1,1186.6 521.4,1186.9 521.7,1186.2 522.1,1189.1 522.4,1188.8 522.7,1187.0 523.0,1190.3 523.3,1191.2 523.7,1192.4 524.0,1187.7 524.3,1185.8 524.6,1194.4 525.0,1190.2 525.3,1187.5 525.6,1185.5 525.9,1189.0 526.2,1192.1 526.6,1187.9 526.9,1183.6 527.2,1189.0 527.5,1188.2 527.9,1185.5 528.2,1194.4 528.5,1188.2 528.8,1186.5 529.2,1187.9 529.5,1190.2 529.8,1191.8 530.1,1192.5 530.4,1194.6 530.8,1192.6 531.1,1194.5 531.4,1191.7 531.7,1192.2 532.1,1193.3 532.4,1192.9 532.7,1191.8 533.0,1195.4 533.3,1190.5 533.7,1191.8 534.0,1190.9 534.3,1193.5 534.6,1193.2 535.0,1192.4 535.3,1192.6 535.6,1194.1 535.9,1194.0 536.3,1194.7 536.6,1194.4 536.9,1195.5 537.2,1195.8 537.5,1196.4 537.9,1190.2 538.2,1195.8 538.5,1194.4 538.8,1196.9 539.2,1194.0 539.5,1191.2 539.8,1196.5 540.1,1194.3 540.4,1195.0 540.8,1192.6 541.1,1195.3 541.4,1195.5 541.7,1196.0 542.1,1200.7 542.4,1192.9 542.7,1191.3 543.0,1198.1 543.4,1193.6 543.7,1196.0 544.0,1192.3 544.3,1197.7 544.6,1195.2 545.0,1192.9 545.3,1195.1 545.6,1196.2 545.9,1196.9 546.3,1198.6 546.6,1196.7 546.9,1199.7 547.2,1192.9 547.6,1195.9 547.9,1197.9 548.2,1201.6 548.5,1194.9 548.8,1194.3 549.2,1196.8 549.5,1195.7 549.8,1195.8 550.1,1198.4 550.5,1199.1 550.8,1198.2 551.1,1195.3 551.4,1200.3 551.7,1203.1 552.1,1198.7 552.4,1198.9 552.7,1199.5 553.0,1199.0 553.4,1202.7 553.7,1202.0 554.0,1200.9 554.3,1200.1 554.7,1198.7 555.0,1198.3 555.3,1199.8 555.6,1200.9 555.9,1203.2 556.3,1202.0 556.6,1205.0 556.9,1202.9 557.2,1200.1 557.6,1199.8 557.9,1204.1 558.2,1198.5 558.5,1207.9 558.8,1200.5 559.2,1202.0 559.5,1202.5 559.8,1201.2 560.1,1203.5 560.5,1196.6 560.8,1203.8 561.1,1203.6 561.4,1202.0 561.8,1208.2 562.1,1203.5 562.4,1206.9 562.7,1199.8 563.0,1204.8 563.4,1203.9 563.7,1208.4 564.0,1199.1 564.3,1208.5 564.7,1207.9 565.0,1206.2 565.3,1210.3 565.6,1208.0 565.9,1205.7 566.3,1201.9 566.6,1201.9 566.9,1208.1 567.2,1206.6 567.6,1203.5 567.9,1202.2 568.2,1207.7 568.5,1206.3 568.9,1205.8 569.2,1205.5 569.5,1206.6 569.8,1201.3 570.1,1206.8 570.5,1203.1 570.8,1205.0 571.1,1197.1 571.4,1202.7 571.8,1211.8 572.1,1205.1 572.4,1212.4 572.7,1203.4 573.1,1208.0 573.4,1212.9 573.7,1210.1 574.0,1208.5 574.3,1203.8 574.7,1207.5 575.0,1206.6 575.3,1209.8 575.6,1209.5 576.0,1212.3 576.3,1209.5 576.6,1209.3 576.9,1208.9 577.2,1211.1 577.6,1209.6 577.9,1210.4 578.2,1208.7 578.5,1211.2 578.9,1211.2 579.2,1212.1 579.5,1211.7 579.8,1210.8 580.2,1212.9 580.5,1206.9 580.8,1207.6 581.1,1209.5 581.4,1208.5 581.8,1213.9 582.1,1212.4 582.4,1212.1 582.7,1210.3 583.1,1208.9 583.4,1208.8 583.7,1215.1 584.0,1211.5 584.3,1208.4 584.7,1212.2 585.0,1210.4 585.3,1216.2 585.6,1211.7 586.0,1212.6 586.3,1217.4 586.6,1209.9 586.9,1208.5 587.3,1210.1 587.6,1213.3 587.9,1212.8 588.2,1214.3 588.5,1211.0 588.9,1211.5 589.2,1209.0 589.5,1212.9 589.8,1210.5 590.2,1213.7 590.5,1215.1 590.8,1213.3 591.1,1215.7 591.4,1215.8 591.8,1211.6 592.1,1211.8 592.4,1215.9 592.7,1216.3 593.1,1214.6 593.4,1216.1 593.7,1212.3 594.0,1215.2 594.4,1218.0 594.7,1216.8 595.0,1213.5 595.3,1209.2 595.6,1213.5 596.0,1218.6 596.3,1217.5 596.6,1214.7 596.9,1215.7 597.3,1215.0 597.6,1210.0 597.9,1218.3 598.2,1218.3 598.6,1215.9 598.9,1215.7 599.2,1215.4 599.5,1213.8 599.8,1216.2 600.2,1213.3 600.5,1215.7 600.8,1215.2 601.1,1220.9 601.5,1218.7 601.8,1217.4 602.1,1214.7 602.4,1218.2 602.7,1219.1 603.1,1218.5 603.4,1211.9 603.7,1220.6 604.0,1216.0 604.4,1216.5 604.7,1212.9 605.0,1214.9 605.3,1217.6 605.7,1214.5 606.0,1213.3 606.3,1217.8 606.6,1221.4 606.9,1220.1 607.3,1216.8 607.6,1219.7 607.9,1216.7 608.2,1214.0 608.6,1216.6 608.9,1211.3 609.2,1217.5 609.5,1220.5 609.8,1216.8 610.2,1214.7 610.5,1221.1 610.8,1216.2 611.1,1213.0 611.5,1216.9 611.8,1212.6 612.1,1221.6 612.4,1216.1 612.8,1222.1 613.1,1222.4 613.4,1221.7 613.7,1214.9 614.0,1217.0 614.4,1214.1 614.7,1220.2 615.0,1222.5 615.3,1215.6 615.7,1219.9 616.0,1222.2 616.3,1216.0 616.6,1215.3 616.9,1220.3 617.3,1217.8 617.6,1216.8 617.9,1220.8 618.2,1220.5 618.6,1217.6 618.9,1214.0 619.2,1221.1 619.5,1216.3 619.9,1216.9 620.2,1218.0 620.5,1219.1 620.8,1220.9 621.1,1216.8 621.5,1219.0 621.8,1225.5 622.1,1217.9 622.4,1220.9 622.8,1219.2 623.1,1213.3 623.4,1218.0 623.7,1224.6 624.1,1220.2 624.4,1222.2 624.7,1216.3 625.0,1228.2 625.3,1217.6 625.7,1219.1 626.0,1220.2 626.3,1218.1 626.6,1214.4 627.0,1224.5 627.3,1220.8 627.6,1219.5 627.9,1219.4 628.2,1220.2 628.6,1218.2 628.9,1219.2 629.2,1220.7 629.5,1224.7 629.9,1217.7 630.2,1215.6 630.5,1216.4 630.8,1218.5 631.2,1216.4 631.5,1223.8 631.8,1217.5 632.1,1218.8 632.4,1220.0 632.8,1216.7 633.1,1220.4 633.4,1221.0 633.7,1222.8 634.1,1225.1 634.4,1221.3 634.7,1215.2 635.0,1215.0 635.3,1221.8 635.7,1219.7 636.0,1216.0 636.3,1223.1 636.6,1221.6 637.0,1224.3 637.3,1215.9 637.6,1222.2 637.9,1221.5 638.3,1220.6 638.6,1223.0 638.9,1213.5 639.2,1217.4 639.5,1214.8 639.9,1226.4 640.2,1218.6 640.5,1221.3 640.8,1224.0 641.2,1220.7 641.5,1216.4 641.8,1217.7 642.1,1222.5 642.4,1211.4 642.8,1217.9 643.1,1223.5 643.4,1223.6 643.7,1223.1 644.1,1221.6 644.4,1222.9 644.7,1223.3 645.0,1218.8 645.4,1223.4 645.7,1221.2 646.0,1223.4 646.3,1222.4 646.6,1218.4 647.0,1221.8 647.3,1219.7 647.6,1222.1 647.9,1218.8 648.3,1222.1 648.6,1218.9 648.9,1225.8 649.2,1219.1 649.6,1221.0 649.9,1225.0 650.2,1224.3 650.5,1228.1 650.8,1223.4 651.2,1222.2 651.5,1224.3 651.8,1219.9 652.1,1229.0 652.5,1223.7 652.8,1226.6 653.1,1224.7 653.4,1220.9 653.7,1223.4 654.1,1219.2 654.4,1224.5 654.7,1225.4 655.0,1224.4 655.4,1227.9 655.7,1226.3 656.0,1224.1 656.3,1221.3 656.7,1226.9 657.0,1226.7 657.3,1228.7 657.6,1228.3 657.9,1224.6 658.3,1224.4 658.6,1223.7 658.9,1225.5 659.2,1221.8 659.6,1229.8 659.9,1225.0 660.2,1223.2 660.5,1226.0 660.8,1223.9 661.2,1225.8 661.5,1226.3 661.8,1224.8 662.1,1227.2 662.5,1225.5 662.8,1223.8 663.1,1228.6 663.4,1223.6 663.8,1222.3 664.1,1221.0 664.4,1226.6 664.7,1222.6 665.0,1231.0 665.4,1229.8 665.7,1225.8 666.0,1229.2 666.3,1228.7 666.7,1229.0 667.0,1227.2 667.3,1228.2 667.6,1229.1 667.9,1226.6 668.3,1228.0 668.6,1226.6 668.9,1225.8 669.2,1225.2 669.6,1227.4 669.9,1228.0 670.2,1228.1 670.5,1230.0 670.9,1225.8 671.2,1227.3 671.5,1224.3 671.8,1226.4 672.1,1228.7 672.5,1225.0 672.8,1228.2 673.1,1227.7 673.4,1226.3 673.8,1227.0 674.1,1229.8 674.4,1225.8 674.7,1226.7 675.1,1227.9 675.4,1228.5 675.7,1227.3 676.0,1232.2 676.3,1224.5 676.7,1235.0 677.0,1231.0 677.3,1231.0 677.6,1227.3 678.0,1228.4 678.3,1227.6 678.6,1232.0 678.9,1225.4 679.2,1226.3 679.6,1234.6 679.9,1228.3 680.2,1234.3 680.5,1230.5 680.9,1227.5 681.2,1229.0 681.5,1232.7 681.8,1230.9 682.2,1226.3 682.5,1228.8 682.8,1227.3 683.1,1234.0 683.4,1228.0 683.8,1228.9 684.1,1232.1 684.4,1225.7 684.7,1229.7 685.1,1227.2 685.4,1231.0 685.7,1228.6 686.0,1228.3 686.3,1230.1 686.7,1229.5 687.0,1229.0 687.3,1230.1 687.6,1233.3 688.0,1229.0 688.3,1230.3 688.6,1229.3 688.9,1232.3 689.3,1226.0 689.6,1227.7 689.9,1226.4 690.2,1225.1 690.5,1227.6 690.9,1231.1 691.2,1233.8 691.5,1227.3 691.8,1229.7 692.2,1228.2 692.5,1226.9 692.8,1231.0 693.1,1233.1 693.4,1229.5 693.8,1231.9 694.1,1233.0 694.4,1229.7 694.7,1231.5 695.1,1229.5 695.4,1233.8 695.7,1231.2 696.0,1231.7 696.4,1231.1 696.7,1232.7 697.0,1229.3 697.3,1235.1 697.6,1230.0 698.0,1228.3 698.3,1231.3 698.6,1231.1 698.9,1233.4 699.3,1230.7 699.6,1230.3 699.9,1231.0 700.2,1230.5 700.6,1230.1 700.9,1231.0 701.2,1236.6 701.5,1234.7 701.8,1232.0 702.2,1226.0 702.5,1228.9 702.8,1231.9 703.1,1232.4 703.5,1233.1 703.8,1230.4 704.1,1232.8 704.4,1231.9 704.7,1234.4 705.1,1233.3 705.4,1234.8 705.7,1234.3 706.0,1233.2 706.4,1229.1 706.7,1231.3 707.0,1229.5 707.3,1233.6 707.7,1231.7 708.0,1234.1 708.3,1233.0 708.6,1232.9 708.9,1236.9 709.3,1232.5 709.6,1235.8 709.9,1231.4 710.2,1234.4 710.6,1236.9 710.9,1236.0 711.2,1235.2 711.5,1229.1 711.8,1236.3 712.2,1234.0 712.5,1232.6 712.8,1233.5 713.1,1233.2 713.5,1231.3 713.8,1235.0 714.1,1228.6 714.4,1229.6 714.8,1232.7 715.1,1229.7 715.4,1233.0 715.7,1234.5 716.0,1236.6 716.4,1235.2 716.7,1232.0 717.0,1232.6 717.3,1229.3 717.7,1229.4 718.0,1231.3 718.3,1233.3 718.6,1229.0 718.9,1233.8 719.3,1240.1 719.6,1234.5 719.9,1232.6 720.2,1232.4 720.6,1232.4 720.9,1231.8 721.2,1240.8 721.5,1227.8 721.9,1232.5 722.2,1233.7 722.5,1239.1 722.8,1231.8 723.1,1236.8 723.5,1239.4 723.8,1232.5 724.1,1232.7 724.4,1234.5 724.8,1236.6 725.1,1233.0 725.4,1234.0 725.7,1233.3 726.1,1233.1 726.4,1238.3 726.7,1233.1 727.0,1237.7 727.3,1233.1 727.7,1235.4 728.0,1235.7 728.3,1230.0 728.6,1233.8 729.0,1233.9 729.3,1232.4 729.6,1228.6 729.9,1242.1 730.2,1233.1 730.6,1234.3 730.9,1231.4 731.2,1234.4 731.5,1234.6 731.9,1232.9 732.2,1234.6 732.5,1236.9 732.8,1234.4 733.2,1229.5 733.5,1232.9 733.8,1240.7 734.1,1234.9 734.4,1237.2 734.8,1232.0 735.1,1237.7 735.4,1234.8 735.7,1233.3 736.1,1232.4 736.4,1236.3 736.7,1233.9 737.0,1228.6 737.3,1236.5 737.7,1234.6 738.0,1237.1 738.3,1235.2 738.6,1233.4 739.0,1234.6 739.3,1232.9 739.6,1238.2 739.9,1234.4 740.3,1235.6 740.6,1242.6 740.9,1231.8 741.2,1234.5 741.5,1236.4 741.9,1231.9 742.2,1233.4 742.5,1241.3 742.8,1233.6 743.2,1228.3 743.5,1234.0 743.8,1232.6 744.1,1239.5 744.4,1239.2 744.8,1238.8 745.1,1232.0 745.4,1232.4 745.7,1241.8 746.1,1232.5 746.4,1240.7 746.7,1238.9 747.0,1235.3 747.4,1236.9 747.7,1235.2 748.0,1234.5 748.3,1231.8 748.6,1236.4 749.0,1236.9 749.3,1237.0 749.6,1228.4 749.9,1231.8 750.3,1231.7 750.6,1233.4 750.9,1234.3 751.2,1231.0 751.6,1235.2 751.9,1239.2 752.2,1239.5 752.5,1228.0 752.8,1237.9 753.2,1236.9 753.5,1235.5 753.8,1232.1 754.1,1238.1 754.5,1235.6 754.8,1233.9 755.1,1238.6 755.4,1234.8 755.7,1232.0 756.1,1234.4 756.4,1234.8 756.7,1233.7 757.0,1235.3 757.4,1236.4 757.7,1236.6 758.0,1232.8 758.3,1239.7 758.7,1238.5 759.0,1232.8 759.3,1231.7 759.6,1234.7 759.9,1237.3 760.3,1239.3 760.6,1233.0 760.9,1234.0 761.2,1233.4 761.6,1232.9 761.9,1236.6 762.2,1235.4 762.5,1233.0 762.8,1232.4 763.2,1235.5 763.5,1233.2 763.8,1228.8 764.1,1222.6 764.5,1217.7 764.8,1221.3 765.1,1220.3 765.4,1215.7 765.8,1213.5 766.1,1213.5 766.4,1218.1 766.7,1207.1 767.0,1209.0 767.4,1208.2 767.7,1212.5 768.0,1213.1 768.3,1214.6 768.7,1221.7 769.0,1222.8 769.3,1221.8 769.6,1223.7 769.9,1233.1 770.3,1227.6 770.6,1227.7 770.9,1231.5 771.2,1232.4 771.6,1234.1 771.9,1234.1 772.2,1237.1 772.5,1232.6 772.9,1236.6 773.2,1241.0 773.5,1235.7 773.8,1234.9 774.1,1236.5 774.5,1240.6 774.8,1236.3 775.1,1246.3 775.4,1233.6 775.8,1236.9 776.1,1243.7 776.4,1244.6 776.7,1232.2 777.1,1238.4 777.4,1241.2 777.7,1238.3 778.0,1240.0 778.3,1240.0 778.7,1238.7 779.0,1238.8 779.3,1242.7 779.6,1239.0 780.0,1239.3 780.3,1242.7 780.6,1237.3 780.9,1238.5 781.2,1242.9 781.6,1235.0 781.9,1238.5 782.2,1236.2 782.5,1242.2 782.9,1241.5 783.2,1239.8 783.5,1241.7 783.8,1240.8 784.2,1244.2 784.5,1234.5 784.8,1238.8 785.1,1236.6 785.4,1235.4 785.8,1240.4 786.1,1234.7 786.4,1246.9 786.7,1241.4 787.1,1241.9 787.4,1240.5 787.7,1243.7 788.0,1238.0 788.3,1234.9 788.7,1239.8 789.0,1238.8 789.3,1246.6 789.6,1242.6 790.0,1239.4 790.3,1242.5 790.6,1239.7 790.9,1241.7 791.3,1239.6 791.6,1244.5 791.9,1239.2 792.2,1236.6 792.5,1238.7 792.9,1234.7 793.2,1240.9 793.5,1238.2 793.8,1244.3 794.2,1237.9 794.5,1239.2 794.8,1241.4 795.1,1237.5 795.4,1243.9 795.8,1241.4 796.1,1239.8 796.4,1243.5 796.7,1243.5 797.1,1237.9 797.4,1241.7 797.7,1243.6 798.0,1242.1 798.4,1242.4 798.7,1242.9 799.0,1239.8 799.3,1243.8 799.6,1245.0 800.0,1240.7 800.3,1241.1 800.6,1237.5 800.9,1244.7 801.3,1242.6 801.6,1238.2 801.9,1240.1 802.2,1242.8 802.6,1243.5 802.9,1239.4 803.2,1241.4 803.5,1243.7 803.8,1242.7 804.2,1242.6 804.5,1238.9 804.8,1248.7 805.1,1243.2 805.5,1238.3 805.8,1246.4 806.1,1242.6 806.4,1239.5 806.7,1245.5 807.1,1243.4 807.4,1244.4 807.7,1241.5 808.0,1243.9 808.4,1245.0 808.7,1241.9 809.0,1241.6 809.3,1239.1 809.7,1243.4 810.0,1242.8 810.3,1244.0 810.6,1239.1 810.9,1239.1 811.3,1244.7 811.6,1248.4 811.9,1237.2 812.2,1247.8 812.6,1247.5 812.9,1244.2 813.2,1237.4 813.5,1239.7 813.8,1243.5 814.2,1240.9 814.5,1243.4 814.8,1239.8 815.1,1244.2 815.5,1238.6 815.8,1241.4 816.1,1244.7 816.4,1247.9 816.8,1240.0 817.1,1241.8 817.4,1246.0 817.7,1245.8 818.0,1244.7 818.4,1244.4 818.7,1243.9 819.0,1243.6 819.3,1243.5 819.7,1245.2 820.0,1237.9 820.3,1244.4 820.6,1245.5 820.9,1242.2 821.3,1246.2 821.6,1242.6 821.9,1243.5 822.2,1241.0 822.6,1246.6 822.9,1249.2 823.2,1240.8 823.5,1244.6 823.9,1239.3 824.2,1242.1 824.5,1245.4 824.8,1243.2 825.1,1247.5 825.5,1247.0 825.8,1244.3 826.1,1244.0 826.4,1249.0 826.8,1242.3 827.1,1243.0 827.4,1241.6 827.7,1248.5 828.1,1242.9 828.4,1246.3 828.7,1245.9 829.0,1241.7 829.3,1244.5 829.7,1243.1 830.0,1242.3 830.3,1241.6 830.6,1247.3 831.0,1247.4 831.3,1243.9 831.6,1243.4 831.9,1246.9 832.2,1243.8 832.6,1247.3 832.9,1245.7 833.2,1245.3 833.5,1244.4 833.9,1243.2 834.2,1245.9 834.5,1244.6 834.8,1247.3 835.2,1243.0 835.5,1243.5 835.8,1246.5 836.1,1239.8 836.4,1245.3 836.8,1245.8 837.1,1246.2 837.4,1244.0 837.7,1244.7 838.1,1246.8 838.4,1243.8 838.7,1242.3 839.0,1241.2 839.3,1243.7 839.7,1246.0 840.0,1247.2 840.3,1243.7 840.6,1241.7 841.0,1239.1 841.3,1246.0 841.6,1248.1 841.9,1247.9 842.3,1244.3 842.6,1243.5 842.9,1247.3 843.2,1248.6 843.5,1250.7 843.9,1243.5 844.2,1249.8 844.5,1244.1 844.8,1246.2 845.2,1251.1 845.5,1249.0 845.8,1243.2 846.1,1245.9 846.4,1246.6 846.8,1242.7 847.1,1246.2 847.4,1245.8 847.7,1245.8 848.1,1245.9 848.4,1243.2 848.7,1247.6 849.0,1243.2 849.4,1242.1 849.7,1247.7 850.0,1245.0 850.3,1249.5 850.6,1246.1 851.0,1243.0 851.3,1243.8 851.6,1247.5 851.9,1244.9 852.3,1245.1 852.6,1246.2 852.9,1246.1 853.2,1241.2 853.6,1253.7 853.9,1248.2 854.2,1244.2 854.5,1247.0 854.8,1245.7 855.2,1245.9 855.5,1247.4 855.8,1246.7 856.1,1248.8 856.5,1246.8 856.8,1244.8 857.1,1244.1 857.4,1245.5 857.7,1247.6 858.1,1248.0 858.4,1251.6 858.7,1247.5 859.0,1249.6 859.4,1249.0 859.7,1248.0 860.0,1246.9 860.3,1246.8 860.7,1247.2 861.0,1250.3 861.3,1248.5 861.6,1245.4 861.9,1247.6 862.3,1246.2 862.6,1247.2 862.9,1243.3 863.2,1242.9 863.6,1240.4 863.9,1248.4 864.2,1245.2 864.5,1250.9 864.8,1245.5 865.2,1246.2 865.5,1248.5 865.8,1243.5 866.1,1247.0 866.5,1251.7 866.8,1243.5 867.1,1247.3 867.4,1245.4 867.8,1249.3 868.1,1249.7 868.4,1250.9 868.7,1250.6 869.0,1245.7 869.4,1246.2 869.7,1252.2 870.0,1247.8 870.3,1247.7 870.7,1249.9 871.0,1247.1 871.3,1250.1 871.6,1245.4 871.9,1248.8 872.3,1247.6 872.6,1257.5 872.9,1249.5 873.2,1248.3 873.6,1250.1 873.9,1249.0 874.2,1251.0 874.5,1246.2 874.9,1251.3 875.2,1249.5 875.5,1244.8 875.8,1245.5 876.1,1248.8 876.5,1252.2 876.8,1253.9 877.1,1247.7 877.4,1248.3 877.8,1249.7 878.1,1249.7 878.4,1243.2 878.7,1246.5 879.1,1248.9 879.4,1249.5 879.7,1249.9 880.0,1248.1 880.3,1249.7 880.7,1248.8 881.0,1250.2 881.3,1247.0 881.6,1248.4 882.0,1252.2 882.3,1241.3 882.6,1248.4 882.9,1250.4 883.2,1252.5 883.6,1249.0 883.9,1250.9 884.2,1244.7 884.5,1247.9 884.9,1250.9 885.2,1254.1 885.5,1247.2 885.8,1254.0 886.2,1248.1 886.5,1249.1 886.8,1257.0 887.1,1250.2 887.4,1245.1 887.8,1252.0 888.1,1255.8 888.4,1254.3 888.7,1249.9 889.1,1249.0 889.4,1247.5 889.7,1249.1 890.0,1252.4 890.3,1251.1 890.7,1250.5 891.0,1250.4 891.3,1253.4 891.6,1248.2 892.0,1247.0 892.3,1250.4 892.6,1249.6 892.9,1253.5 893.3,1249.5 893.6,1252.3 893.9,1252.6 894.2,1248.0 894.5,1249.8 894.9,1251.5 895.2,1254.8 895.5,1250.2 895.8,1245.8 896.2,1249.4 896.5,1249.7 896.8,1247.0 897.1,1244.6 897.4,1248.8 897.8,1247.6 898.1,1249.8 898.4,1249.0 898.7,1249.2 899.1,1247.4 899.4,1251.7 899.7,1249.6 900.0,1249.6 900.4,1250.7 900.7,1252.2 901.0,1248.3 901.3,1251.6 901.6,1254.8 902.0,1248.6 902.3,1254.6 902.6,1248.5 902.9,1257.6 903.3,1250.7 903.6,1245.8 903.9,1251.3 904.2,1247.5 904.6,1251.9 904.9,1252.9 905.2,1251.6 905.5,1248.2 905.8,1247.3 906.2,1247.0 906.5,1248.5 906.8,1251.0 907.1,1256.5 907.5,1253.1 907.8,1246.9 908.1,1255.5 908.4,1249.8 908.7,1250.0 909.1,1255.9 909.4,1250.3 909.7,1252.4 910.0,1250.8 910.4,1251.7 910.7,1252.0 911.0,1254.0 911.3,1257.0 911.7,1246.6 912.0,1253.9 912.3,1252.3 912.6,1252.6 912.9,1252.4 913.3,1253.7 913.6,1250.1 913.9,1251.7 914.2,1253.1 914.6,1253.4 914.9,1250.4 915.2,1254.3 915.5,1250.3 915.8,1248.1 916.2,1248.9 916.5,1250.3 916.8,1256.5 917.1,1249.9 917.5,1251.1 917.8,1248.1 918.1,1253.4 918.4,1253.2 918.8,1247.9 919.1,1254.2 919.4,1248.8 919.7,1251.0 920.0,1258.9 920.4,1253.3 920.7,1253.4 921.0,1255.9 921.3,1257.5 921.7,1252.0 922.0,1255.1 922.3,1254.2 922.6,1255.0 922.9,1253.1 923.3,1251.0 923.6,1250.2 923.9,1251.0 924.2,1253.5 924.6,1253.0 924.9,1250.9 925.2,1249.1 925.5,1252.9 925.9,1256.2 926.2,1251.9 926.5,1250.9 926.8,1254.0 927.1,1249.4 927.5,1254.1 927.8,1252.8 928.1,1251.8 928.4,1248.4 928.8,1256.2 929.1,1251.4 929.4,1250.8 929.7,1253.3 930.1,1250.1 930.4,1254.9 930.7,1256.3 931.0,1256.6 931.3,1255.1 931.7,1256.2 932.0,1251.8 932.3,1253.2 932.6,1257.3 933.0,1248.8 933.3,1252.6 933.6,1257.9 933.9,1258.5 934.2,1253.2 934.6,1249.6 934.9,1254.3 935.2,1250.7 935.5,1248.9 935.9,1251.5 936.2,1254.4 936.5,1257.2 936.8,1255.4 937.2,1249.9 937.5,1253.5 937.8,1256.4 938.1,1254.8 938.4,1254.3 938.8,1250.5 939.1,1255.4 939.4,1248.5 939.7,1253.1 940.1,1252.8 940.4,1257.0 940.7,1252.7 941.0,1253.1 941.3,1251.8 941.7,1255.9 942.0,1253.3 942.3,1258.3 942.6,1256.8 943.0,1247.4 943.3,1255.3 943.6,1256.2 943.9,1251.6 944.3,1254.6 944.6,1246.7 944.9,1253.9 945.2,1252.2 945.5,1254.9 945.9,1251.0 946.2,1254.1 946.5,1246.5 946.8,1256.3 947.2,1253.0 947.5,1252.2 947.8,1257.5 948.1,1255.8 948.4,1256.6 948.8,1259.1 949.1,1253.5 949.4,1262.6 949.7,1258.1 950.1,1257.7 950.4,1253.7 950.7,1254.9 951.0,1251.6 951.4,1251.1 951.7,1254.1 952.0,1257.3 952.3,1252.5 952.6,1256.6 953.0,1255.5 953.3,1254.5 953.6,1250.3 953.9,1247.0 954.3,1251.0 954.6,1255.8 954.9,1251.8 955.2,1250.8 955.6,1256.9 955.9,1254.0 956.2,1256.3 956.5,1256.1 956.8,1254.1 957.2,1253.9 957.5,1256.5 957.8,1254.3 958.1,1257.8 958.5,1254.8 958.8,1253.8 959.1,1255.6 959.4,1258.6 959.7,1256.4 960.1,1253.1 960.4,1251.4 960.7,1251.3 961.0,1251.1 961.4,1249.0 961.7,1255.1 962.0,1250.5 962.3,1255.9 962.7,1248.7 963.0,1250.7 963.3,1256.2 963.6,1251.3 963.9,1250.4 964.3,1255.4 964.6,1252.0 964.9,1250.4 965.2,1247.5 965.6,1254.1 965.9,1248.0 966.2,1255.1 966.5,1254.4 966.8,1248.1 967.2,1249.6 967.5,1253.6 967.8,1246.9 968.1,1249.6 968.5,1250.2 968.8,1251.3 969.1,1257.5 969.4,1249.9 969.8,1246.9 970.1,1249.3 970.4,1246.8 970.7,1248.7 971.0,1244.0 971.4,1255.6 971.7,1245.4 972.0,1248.8 972.3,1244.9 972.7,1242.8 973.0,1240.4 973.3,1240.3 973.6,1238.0 973.9,1242.8 974.3,1237.9 974.6,1242.4 974.9,1233.0 975.2,1235.9 975.6,1225.0 975.9,1223.6 976.2,1220.6 976.5,1216.7 976.9,1208.7 977.2,1204.7 977.5,1200.3 977.8,1188.1 978.1,1184.8 978.5,1174.8 978.8,1174.0 979.1,1171.9 979.4,1161.8 979.8,1168.5 980.1,1171.0 980.4,1180.8 980.7,1186.6 981.1,1193.2 981.4,1194.0 981.7,1203.6 982.0,1210.6 982.3,1215.7 982.7,1219.5 983.0,1220.2 983.3,1226.0 983.6,1228.4 984.0,1226.8 984.3,1229.5 984.6,1231.4 984.9,1229.2 985.2,1235.9 985.6,1239.5 985.9,1241.5 986.2,1237.6 986.5,1237.0 986.9,1235.2 987.2,1242.1 987.5,1242.0 987.8,1238.8 988.2,1238.9 988.5,1241.8 988.8,1238.0 989.1,1235.1 989.4,1237.2 989.8,1229.1 990.1,1232.7 990.4,1235.9 990.7,1232.7 991.1,1234.4 991.4,1222.3 991.7,1226.8 992.0,1224.1 992.3,1218.1 992.7,1217.7 993.0,1214.9 993.3,1209.4 993.6,1202.5 994.0,1198.9 994.3,1202.7 994.6,1201.5 994.9,1194.8 995.3,1197.6 995.6,1200.0 995.9,1198.7 996.2,1204.2 996.5,1211.1 996.9,1212.2 997.2,1220.3 997.5,1223.7 997.8,1220.6 998.2,1229.9 998.5,1230.7 998.8,1235.6 999.1,1238.1 999.4,1242.4 999.8,1244.2 1000.1,1238.9 1000.4,1237.5 1000.7,1243.0 1001.1,1244.3 1001.4,1248.3 1001.7,1247.7 1002.0,1243.9 1002.4,1241.4 1002.7,1247.3 1003.0,1248.6 1003.3,1247.1 1003.6,1250.2 1004.0,1253.1 1004.3,1253.8 1004.6,1252.4 1004.9,1253.1 1005.3,1258.9 1005.6,1257.6 1005.9,1250.4 1006.2,1250.2 1006.6,1250.8 1006.9,1254.0 1007.2,1255.5 1007.5,1253.9 1007.8,1253.0 1008.2,1255.4 1008.5,1251.1 1008.8,1256.3 1009.1,1261.2 1009.5,1252.7 1009.8,1252.2 1010.1,1255.4 1010.4,1252.0 1010.7,1251.7 1011.1,1262.5 1011.4,1254.1 1011.7,1258.8 1012.0,1253.5 1012.4,1254.8 1012.7,1253.2 1013.0,1256.5 1013.3,1257.5 1013.7,1255.1 1014.0,1249.0 1014.3,1254.7 1014.6,1259.0 1014.9,1256.2 1015.3,1256.9 1015.6,1252.6 1015.9,1255.9 1016.2,1257.2 1016.6,1255.9 1016.9,1258.4 1017.2,1255.1 1017.5,1259.6 1017.8,1257.9 1018.2,1256.0 1018.5,1260.6 1018.8,1260.5 1019.1,1259.0 1019.5,1252.6 1019.8,1254.4 1020.1,1256.7 1020.4,1254.0 1020.8,1254.5 1021.1,1258.7 1021.4,1260.2 1021.7,1253.6 1022.0,1259.0 1022.4,1255.3 1022.7,1261.6 1023.0,1257.4 1023.3,1260.8 1023.7,1255.4 1024.0,1255.1 1024.3,1256.2 1024.6,1255.1 1024.9,1258.9 1025.3,1256.3 1025.6,1255.7 1025.9,1260.0 1026.2,1255.8 1026.6,1256.7 1026.9,1256.2 1027.2,1258.3 1027.5,1257.8 1027.9,1256.3 1028.2,1257.3 1028.5,1256.1 1028.8,1261.6 1029.1,1255.0 1029.5,1260.1 1029.8,1254.8 1030.1,1261.9 1030.4,1259.6 1030.8,1257.2 1031.1,1256.8 1031.4,1259.2 1031.7,1260.6 1032.1,1256.2 1032.4,1255.1 1032.7,1260.6 1033.0,1261.5 1033.3,1259.8 1033.7,1258.5 1034.0,1263.2 1034.3,1261.1 1034.6,1256.3 1035.0,1260.5 1035.3,1260.6 1035.6,1253.9 1035.9,1255.2 1036.2,1253.5 1036.6,1258.3 1036.9,1258.7 1037.2,1259.5 1037.5,1262.5 1037.9,1264.4 1038.2,1258.6 1038.5,1260.6 1038.8,1256.6 1039.2,1255.7 1039.5,1262.8 1039.8,1262.4 1040.1,1257.9 1040.4,1254.5 1040.8,1254.0 1041.1,1260.5 1041.4,1258.3 1041.7,1254.4 1042.1,1260.7 1042.4,1261.4 1042.7,1254.7 1043.0,1260.6 1043.3,1262.0 1043.7,1254.1 1044.0,1259.8 1044.3,1259.8 1044.6,1257.0 1045.0,1254.4 1045.3,1256.4 1045.6,1257.9 1045.9,1257.4 1046.3,1257.4 1046.6,1257.8 1046.9,1263.6 1047.2,1257.8 1047.5,1262.5 1047.9,1260.8 1048.2,1258.3 1048.5,1259.1 1048.8,1257.7 1049.2,1258.8 1049.5,1257.4 1049.8,1253.6 1050.1,1261.9 1050.4,1255.7 1050.8,1253.6 1051.1,1260.1 1051.4,1259.9 1051.7,1259.2 1052.1,1257.6 1052.4,1260.9 1052.7,1259.9 1053.0,1259.0 1053.4,1258.7 1053.7,1254.9 1054.0,1260.3 1054.3,1256.6 1054.6,1256.7 1055.0,1258.4 1055.3,1258.5 1055.6,1261.2 1055.9,1260.9 1056.3,1257.8 1056.6,1258.2 1056.9,1259.6 1057.2,1255.6 1057.6,1258.5 1057.9,1258.7 1058.2,1259.3 1058.5,1255.9 1058.8,1257.3 1059.2,1258.0 1059.5,1262.5 1059.8,1254.1 1060.1,1262.8 1060.5,1257.8 1060.8,1262.2 1061.1,1263.3 1061.4,1268.0 1061.7,1258.6 1062.1,1258.2 1062.4,1260.1 1062.7,1260.4 1063.0,1263.0 1063.4,1259.3 1063.7,1260.0 1064.0,1263.4 1064.3,1260.6 1064.7,1260.2 1065.0,1262.4 1065.3,1256.1 1065.6,1262.9 1065.9,1253.7 1066.3,1256.0 1066.6,1260.5 1066.9,1254.6 1067.2,1256.0 1067.6,1255.7 1067.9,1258.6 1068.2,1261.9 1068.5,1265.1 1068.8,1258.3 1069.2,1259.4 1069.5,1260.8 1069.8,1253.3 1070.1,1257.7 1070.5,1263.3 1070.8,1259.4 1071.1,1257.6 1071.4,1262.5 1071.8,1258.4 1072.1,1260.0 1072.4,1263.2 1072.7,1257.8 1073.0,1257.0 1073.4,1266.3 1073.7,1257.7 1074.0,1260.5 1074.3,1259.8 1074.7,1263.6 1075.0,1261.6 1075.3,1253.9 1075.6,1256.8 1075.9,1259.3 1076.3,1258.5 1076.6,1261.1 1076.9,1259.1 1077.2,1261.1 1077.6,1258.0 1077.9,1261.8 1078.2,1258.1 1078.5,1256.4 1078.9,1259.5 1079.2,1258.0 1079.5,1257.7 1079.8,1260.0 1080.1,1262.4 1080.5,1255.4 1080.8,1258.1 1081.1,1259.2 1081.4,1254.8 1081.8,1260.6 1082.1,1259.6 1082.4,1260.2 1082.7,1261.0 1083.1,1258.5 1083.4,1259.8 1083.7,1254.1 1084.0,1259.8 1084.3,1254.4 1084.7,1260.4 1085.0,1258.7 1085.3,1257.6 1085.6,1260.1 1086.0,1255.7 1086.3,1259.2 1086.6,1259.3 1086.9,1255.5 1087.2,1259.4 1087.6,1255.5 1087.9,1254.2 1088.2,1254.8 1088.5,1253.0 1088.9,1258.0 1089.2,1253.3 1089.5,1258.2 1089.8,1261.2 1090.2,1257.0 1090.5,1250.9 1090.8,1259.1 1091.1,1251.2 1091.4,1260.0 1091.8,1253.4 1092.1,1254.4 1092.4,1256.9 1092.7,1261.8 1093.1,1253.4 1093.4,1253.3 1093.7,1253.6 1094.0,1252.0 1094.3,1256.8 1094.7,1248.7 1095.0,1251.6 1095.3,1256.0 1095.6,1247.5 1096.0,1253.3 1096.3,1251.8 1096.6,1250.4 1096.9,1254.9 1097.3,1254.7 1097.6,1252.3 1097.9,1254.6 1098.2,1251.6 1098.5,1246.7 1098.9,1253.3 1099.2,1249.4 1099.5,1250.7 1099.8,1246.3 1100.2,1251.3 1100.5,1250.5 1100.8,1247.2 1101.1,1240.3 1101.4,1247.8 1101.8,1249.1 1102.1,1246.1 1102.4,1240.3 1102.7,1238.6 1103.1,1240.1 1103.4,1237.8 1103.7,1240.9 1104.0,1234.2 1104.4,1234.0 1104.7,1233.2 1105.0,1226.4 1105.3,1223.7 1105.6,1225.1 1106.0,1219.9 1106.3,1222.2 1106.6,1215.6 1106.9,1204.2 1107.3,1205.6 1107.6,1198.7 1107.9,1185.6 1108.2,1186.5 1108.6,1171.9 1108.9,1155.9 1109.2,1144.9 1109.5,1128.9 1109.8,1108.8 1110.2,1080.3 1110.5,1053.5 1110.8,1013.4 1111.1,971.7 1111.5,921.1 1111.8,861.9 1112.1,811.3 1112.4,763.5 1112.7,726.8 1113.1,717.8 1113.4,739.0 1113.7,786.1 1114.0,830.9 1114.4,896.0 1114.7,949.9 1115.0,987.6 1115.3,1026.2 1115.7,1065.2 1116.0,1094.5 1116.3,1111.3 1116.6,1138.0 1116.9,1150.2 1117.3,1165.0 1117.6,1172.9 1117.9,1183.2 1118.2,1194.3 1118.6,1195.9 1118.9,1202.9 1119.2,1210.1 1119.5,1215.5 1119.8,1218.8 1120.2,1225.6 1120.5,1225.8 1120.8,1228.6 1121.1,1228.8 1121.5,1233.1 1121.8,1235.7 1122.1,1235.6 1122.4,1235.2 1122.8,1237.8 1123.1,1241.1 1123.4,1243.1 1123.7,1239.2 1124.0,1244.0 1124.4,1248.4 1124.7,1245.3 1125.0,1251.6 1125.3,1248.9 1125.7,1246.3 1126.0,1249.2 1126.3,1250.2 1126.6,1247.8 1126.9,1247.1 1127.3,1253.6 1127.6,1254.5 1127.9,1253.7 1128.2,1255.3 1128.6,1251.2 1128.9,1250.8 1129.2,1253.5 1129.5,1256.5 1129.9,1258.3 1130.2,1254.6 1130.5,1256.6 1130.8,1253.4 1131.1,1258.5 1131.5,1256.7 1131.8,1256.5 1132.1,1252.7 1132.4,1253.6 1132.8,1254.6 1133.1,1255.5 1133.4,1254.4 1133.7,1261.5 1134.1,1254.1 1134.4,1257.4 1134.7,1252.7 1135.0,1254.5 1135.3,1253.8 1135.7,1259.1 1136.0,1249.3 1136.3,1255.8 1136.6,1256.7 1137.0,1259.2 1137.3,1256.7 1137.6,1263.7 1137.9,1254.2 1138.2,1256.6 1138.6,1258.2 1138.9,1254.3 1139.2,1256.7 1139.5,1257.0 1139.9,1259.8 1140.2,1257.5 1140.5,1261.8 1140.8,1261.7 1141.2,1258.2 1141.5,1260.4 1141.8,1262.5 1142.1,1259.3 1142.4,1264.0 1142.8,1254.6 1143.1,1261.5 1143.4,1261.5 1143.7,1254.8 1144.1,1263.3 1144.4,1265.4 1144.7,1259.3 1145.0,1260.1 1145.3,1256.6 1145.7,1259.6 1146.0,1264.0 1146.3,1259.2 1146.6,1260.3 1147.0,1256.1 1147.3,1258.8 1147.6,1262.3 1147.9,1261.6 1148.3,1259.7 1148.6,1260.9 1148.9,1259.2 1149.2,1259.1 1149.5,1263.1 1149.9,1259.3 1150.2,1257.6 1150.5,1263.3 1150.8,1264.0 1151.2,1257.9 1151.5,1258.5 1151.8,1257.4 1152.1,1255.2 1152.4,1260.4 1152.8,1263.0 1153.1,1259.5 1153.4,1262.0 1153.7,1259.1 1154.1,1258.1 1154.4,1259.9 1154.7,1258.6 1155.0,1260.2 1155.4,1259.5 1155.7,1263.5 1156.0,1255.6 1156.3,1262.2 1156.6,1261.5 1157.0,1262.3 1157.3,1261.1 1157.6,1261.6 1157.9,1266.0 1158.3,1256.1 1158.6,1259.4 1158.9,1261.3 1159.2,1260.5 1159.6,1257.6 1159.9,1258.2 1160.2,1259.7 1160.5,1258.0 1160.8,1267.7 1161.2,1258.2 1161.5,1261.2 1161.8,1262.7 1162.1,1263.5 1162.5,1260.4 1162.8,1265.5 1163.1,1259.7 1163.4,1262.8 1163.7,1258.6 1164.1,1265.6 1164.4,1259.6 1164.7,1262.0 1165.0,1264.0 1165.4,1257.3 1165.7,1257.7 1166.0,1263.4 1166.3,1261.6 1166.7,1256.7 1167.0,1260.5 1167.3,1262.5 1167.6,1263.4 1167.9,1263.0 1168.3,1259.2 1168.6,1258.2 1168.9,1261.9 1169.2,1263.7 1169.6,1263.1 1169.9,1265.9 1170.2,1259.6 1170.5,1260.9 1170.8,1257.9 1171.2,1254.6 1171.5,1257.1 1171.8,1262.0 1172.1,1261.8 1172.5,1264.6 1172.8,1266.8 1173.1,1255.7 1173.4,1260.2 1173.8,1265.2 1174.1,1259.0 1174.4,1266.8 1174.7,1261.6 1175.0,1260.6 1175.4,1262.8 1175.7,1262.4 1176.0,1258.7 1176.3,1262.4 1176.7,1257.7 1177.0,1265.9 1177.3,1262.0 1177.6,1256.0 1177.9,1263.7 1178.3,1263.6 1178.6,1260.7 1178.9,1262.1 1179.2,1260.1 1179.6,1257.9 1179.9,1259.1 1180.2,1260.1 1180.5,1261.8 1180.9,1260.0 1181.2,1258.0 1181.5,1263.0 1181.8,1261.7 1182.1,1263.7 1182.5,1260.5 1182.8,1260.0 1183.1,1261.9 1183.4,1263.5 1183.8,1262.5 1184.1,1258.4 1184.4,1261.8 1184.7,1257.8 1185.1,1261.9 1185.4,1262.2 1185.7,1257.8 1186.0,1262.2 1186.3,1256.7 1186.7,1266.1 1187.0,1259.8 1187.3,1261.3 1187.6,1260.9 1188.0,1259.0 1188.3,1265.3 1188.6,1253.6 1188.9,1260.8 1189.2,1252.5 1189.6,1257.1 1189.9,1258.7 1190.2,1263.7 1190.5,1254.4 1190.9,1257.4 1191.2,1255.8 1191.5,1263.6 1191.8,1264.1 1192.2,1260.2 1192.5,1257.5 1192.8,1256.7 1193.1,1255.5 1193.4,1261.4 1193.8,1262.7 1194.1,1256.7 1194.4,1261.6 1194.7,1258.8 1195.1,1252.7 1195.4,1259.7 1195.7,1257.4 1196.0,1257.6 1196.3,1258.2 1196.7,1257.1 1197.0,1256.6 1197.3,1257.8 1197.6,1253.5 1198.0,1255.0 1198.3,1260.5 1198.6,1253.4 1198.9,1256.9 1199.3,1257.7 1199.6,1259.3 1199.9,1254.7 1200.2,1256.8 1200.5,1258.8 1200.9,1258.8 1201.2,1252.9 1201.5,1256.9 1201.8,1256.9 1202.2,1248.3 1202.5,1254.3 1202.8,1253.1 1203.1,1254.3 1203.4,1254.5 1203.8,1256.8 1204.1,1251.7 1204.4,1252.6 1204.7,1255.3 1205.1,1252.8 1205.4,1247.1 1205.7,1250.8 1206.0,1251.0 1206.4,1252.4 1206.7,1251.6 1207.0,1247.8 1207.3,1246.2 1207.6,1247.4 1208.0,1244.5 1208.3,1248.6 1208.6,1246.4 1208.9,1243.3 1209.3,1239.9 1209.6,1243.2 1209.9,1237.8 1210.2,1242.0 1210.6,1234.2 1210.9,1231.9 1211.2,1234.4 1211.5,1230.2 1211.8,1226.6 1212.2,1227.7 1212.5,1223.8 1212.8,1220.3 1213.1,1213.5 1213.5,1207.8 1213.8,1207.7 1214.1,1201.1 1214.4,1190.3 1214.7,1185.9 1215.1,1175.3 1215.4,1161.7 1215.7,1151.3 1216.0,1133.8 1216.4,1119.5 1216.7,1100.4 1217.0,1079.7 1217.3,1058.9 1217.7,1026.0 1218.0,1002.0 1218.3,966.0 1218.6,942.2 1218.9,926.4 1219.3,917.3 1219.6,918.5 1219.9,946.2 1220.2,963.5 1220.6,987.7 1220.9,1019.7 1221.2,1047.2 1221.5,1069.5 1221.8,1094.4 1222.2,1120.0 1222.5,1129.7 1222.8,1151.2 1223.1,1161.3 1223.5,1171.6 1223.8,1187.5 1224.1,1186.3 1224.4,1196.4 1224.8,1203.5 1225.1,1207.8 1225.4,1215.5 1225.7,1217.1 1226.0,1221.0 1226.4,1232.3 1226.7,1232.4 1227.0,1229.0 1227.3,1237.0 1227.7,1234.6 1228.0,1238.6 1228.3,1237.8 1228.6,1246.4 1228.9,1242.5 1229.3,1244.1 1229.6,1244.6 1229.9,1245.8 1230.2,1247.3 1230.6,1247.4 1230.9,1247.9 1231.2,1251.7 1231.5,1246.8 1231.9,1251.5 1232.2,1253.9 1232.5,1250.9 1232.8,1257.4 1233.1,1250.9 1233.5,1255.4 1233.8,1254.7 1234.1,1255.2 1234.4,1254.4 1234.8,1257.9 1235.1,1257.8 1235.4,1255.9 1235.7,1258.9 1236.1,1257.7 1236.4,1258.3 1236.7,1259.2 1237.0,1260.4 1237.3,1261.0 1237.7,1260.1 1238.0,1262.6 1238.3,1262.6 1238.6,1252.1 1239.0,1259.7 1239.3,1257.4 1239.6,1259.4 1239.9,1258.3 1240.2,1260.1 1240.6,1257.9 1240.9,1260.2 1241.2,1260.1 1241.5,1264.4 1241.9,1258.5 1242.2,1261.9 1242.5,1261.5 1242.8,1260.4 1243.2,1261.0 1243.5,1261.9 1243.8,1258.5 1244.1,1264.4 1244.4,1267.6 1244.8,1263.0 1245.1,1268.4 1245.4,1262.8 1245.7,1258.9 1246.1,1258.1 1246.4,1265.4 1246.7,1261.4 1247.0,1265.9 1247.3,1261.7 1247.7,1258.9 1248.0,1264.4 1248.3,1258.5 1248.6,1262.0 1249.0,1255.5 1249.3,1264.4 1249.6,1265.2 1249.9,1259.2 1250.3,1260.3 1250.6,1261.2 1250.9,1265.0 1251.2,1262.4 1251.5,1264.3 1251.9,1258.6 1252.2,1261.2 1252.5,1264.7 1252.8,1265.2 1253.2,1267.0 1253.5,1264.6 1253.8,1263.0 1254.1,1261.8 1254.4,1260.0 1254.8,1264.3 1255.1,1259.5 1255.4,1268.6 1255.7,1263.3 1256.1,1261.2 1256.4,1264.4 1256.7,1262.4 1257.0,1260.8 1257.4,1264.6 1257.7,1262.5 1258.0,1260.0 1258.3,1266.4 1258.6,1260.0 1259.0,1263.4 1259.3,1267.1 1259.6,1262.0 1259.9,1261.2 1260.3,1263.5 1260.6,1262.1 1260.9,1261.7 1261.2,1262.9 1261.6,1262.7 1261.9,1260.7 1262.2,1260.9 1262.5,1263.1 1262.8,1268.2 1263.2,1266.6 1263.5,1264.1 1263.8,1259.9 1264.1,1261.7 1264.5,1258.2 1264.8,1261.8 1265.1,1261.9 1265.4,1264.0 1265.7,1259.7 1266.1,1266.9 1266.4,1262.2 1266.7,1263.5 1267.0,1264.6 1267.4,1260.5 1267.7,1261.2 1268.0,1262.0 1268.3,1264.0 1268.7,1267.1 1269.0,1266.8 1269.3,1270.1 1269.6,1266.8 1269.9,1262.3 1270.3,1259.2 1270.6,1266.2 1270.9,1259.7 1271.2,1257.8 1271.6,1260.0 1271.9,1258.3 1272.2,1263.1 1272.5,1264.4 1272.8,1262.3 1273.2,1260.3 1273.5,1261.7 1273.8,1262.4 1274.1,1260.7 1274.5,1265.3 1274.8,1260.7 1275.1,1268.4 1275.4,1258.9 1275.8,1258.9 1276.1,1256.3 1276.4,1265.3 1276.7,1264.4 1277.0,1265.6 1277.4,1266.8 1277.7,1269.2 1278.0,1260.5 1278.3,1263.3 1278.7,1263.0 1279.0,1267.7 1279.3,1262.2 1279.6,1256.9 1279.9,1262.1 1280.3,1260.2 1280.6,1265.8 1280.9,1259.4 1281.2,1262.5 1281.6,1262.1 1281.9,1261.4 1282.2,1263.0 1282.5,1260.4 1282.9,1262.5 1283.2,1263.4 1283.5,1265.2 1283.8,1265.3 1284.1,1259.6 1284.5,1259.0 1284.8,1262.2 1285.1,1262.4 1285.4,1263.4 1285.8,1261.3 1286.1,1257.8 1286.4,1260.9 1286.7,1263.1 1287.1,1258.5 1287.4,1259.3 1287.7,1266.3 1288.0,1262.5 1288.3,1257.6 1288.7,1259.9 1289.0,1261.1 1289.3,1259.6 1289.6,1264.0 1290.0,1263.9 1290.3,1260.8 1290.6,1260.0 1290.9,1255.7 1291.2,1260.4 1291.6,1259.1 1291.9,1255.4 1292.2,1261.3 1292.5,1260.2 1292.9,1259.1 1293.2,1258.3 1293.5,1258.4 1293.8,1256.6 1294.2,1261.8 1294.5,1261.9 1294.8,1258.1 1295.1,1262.2 1295.4,1252.8 1295.8,1259.2 1296.1,1258.2 1296.4,1254.6 1296.7,1254.9 1297.1,1253.8 1297.4,1255.0 1297.7,1258.1 1298.0,1254.2 1298.3,1255.0 1298.7,1257.1 1299.0,1252.4 1299.3,1248.0 1299.6,1252.3 1300.0,1250.6 1300.3,1249.3 1300.6,1243.5 1300.9,1249.5 1301.3,1240.4 1301.6,1239.0 1301.9,1236.7 1302.2,1235.7 1302.5,1230.1 1302.9,1219.5 1303.2,1219.4 1303.5,1215.5 1303.8,1205.8 1304.2,1204.8 1304.5,1190.8 1304.8,1186.6 1305.1,1171.5 1305.4,1165.1 1305.8,1163.4 1306.1,1159.3 1306.4,1159.1 1306.7,1156.2 1307.1,1158.0 1307.4,1167.9 1307.7,1173.7 1308.0,1174.0 1308.4,1183.3 1308.7,1187.2 1309.0,1192.8 1309.3,1197.6 1309.6,1202.8 1310.0,1203.8 1310.3,1204.2 1310.6,1205.7 1310.9,1212.7 1311.3,1212.1 1311.6,1212.5 1311.9,1216.8 1312.2,1216.4 1312.6,1211.5 1312.9,1208.8 1313.2,1206.6 1313.5,1209.2 1313.8,1204.1 1314.2,1204.9 1314.5,1204.5 1314.8,1199.4 1315.1,1206.1 1315.5,1207.3 1315.8,1195.3 1316.1,1201.1 1316.4,1199.5 1316.7,1203.1 1317.1,1206.2 1317.4,1209.3 1317.7,1213.2 1318.0,1209.8 1318.4,1215.8 1318.7,1215.7 1319.0,1217.1 1319.3,1220.6 1319.7,1222.7 1320.0,1221.3 1320.3,1227.0 1320.6,1229.4 1320.9,1232.7 1321.3,1230.2 1321.6,1232.6 1321.9,1239.7 1322.2,1238.6 1322.6,1241.7 1322.9,1244.0 1323.2,1246.6 1323.5,1240.3 1323.8,1244.9 1324.2,1253.4 1324.5,1245.5 1324.8,1244.4 1325.1,1249.8 1325.5,1251.0 1325.8,1251.1 1326.1,1249.5 1326.4,1254.2 1326.8,1252.1 1327.1,1257.9 1327.4,1250.8 1327.7,1257.6 1328.0,1255.8 1328.4,1253.9 1328.7,1252.5 1329.0,1257.6 1329.3,1257.7 1329.7,1251.8 1330.0,1257.9 1330.3,1258.6 1330.6,1257.9 1330.9,1254.6 1331.3,1254.6 1331.6,1253.8 1331.9,1255.5 1332.2,1257.9 1332.6,1255.4 1332.9,1254.5 1333.2,1259.8 1333.5,1258.3 1333.9,1256.5 1334.2,1251.7 1334.5,1257.1 1334.8,1255.8 1335.1,1255.7 1335.5,1254.5 1335.8,1253.5 1336.1,1257.8 1336.4,1262.5 1336.8,1251.9 1337.1,1259.5 1337.4,1252.2 1337.7,1251.2 1338.1,1249.5 1338.4,1253.5 1338.7,1248.6 1339.0,1246.3 1339.3,1244.8 1339.7,1241.5 1340.0,1245.8 1340.3,1242.2 1340.6,1238.9 1341.0,1235.3 1341.3,1228.9 1341.6,1225.7 1341.9,1223.7 1342.2,1214.6 1342.6,1213.1 1342.9,1213.1 1343.2,1201.4 1343.5,1204.2 1343.9,1200.2 1344.2,1195.0 1344.5,1193.5 1344.8,1192.3 1345.2,1193.3 1345.5,1198.3 1345.8,1201.8 1346.1,1202.3 1346.4,1208.1 1346.8,1214.5 1347.1,1220.9 1347.4,1223.1 1347.7,1230.1 1348.1,1234.8 1348.4,1231.7 1348.7,1235.7 1349.0,1241.3 1349.3,1238.2 1349.7,1245.0 1350.0,1244.7 1350.3,1246.6 1350.6,1249.0 1351.0,1250.1 1351.3,1247.1 1351.6,1249.6 1351.9,1258.1 1352.3,1251.8 1352.6,1260.2 1352.9,1257.4 1353.2,1253.6 1353.5,1258.2 1353.9,1252.0 1354.2,1256.7 1354.5,1254.2 1354.8,1255.2 1355.2,1253.9 1355.5,1252.5 1355.8,1260.4 1356.1,1256.4 1356.4,1255.7 1356.8,1253.3 1357.1,1254.6 1357.4,1256.7 1357.7,1259.6 1358.1,1260.0 1358.4,1257.8 1358.7,1254.4 1359.0,1254.1 1359.4,1250.0 1359.7,1252.8 1360.0,1250.8 1360.3,1256.3 1360.6,1251.1 1361.0,1252.5 1361.3,1252.0 1361.6,1246.1 1361.9,1248.9 1362.3,1248.4 1362.6,1247.6 1362.9,1251.0 1363.2,1251.5 1363.6,1241.5 1363.9,1246.7 1364.2,1247.2 1364.5,1247.0 1364.8,1249.4 1365.2,1249.6 1365.5,1251.9 1365.8,1249.2 1366.1,1251.2 1366.5,1248.5 1366.8,1247.6 1367.1,1255.6 1367.4,1251.1 1367.7,1254.6 1368.1,1247.8 1368.4,1253.6 1368.7,1251.7 1369.0,1256.1 1369.4,1251.4 1369.7,1257.1 1370.0,1258.7 1370.3,1262.1 1370.7,1255.5 1371.0,1256.5 1371.3,1254.8 1371.6,1257.9 1371.9,1255.4 1372.3,1255.3 1372.6,1258.2 1372.9,1249.6 1373.2,1248.7 1373.6,1254.0 1373.9,1253.1 1374.2,1252.6 1374.5,1252.2 1374.8,1256.3 1375.2,1253.0 1375.5,1248.6 1375.8,1253.9 1376.1,1253.9 1376.5,1255.4 1376.8,1253.8 1377.1,1258.4 1377.4,1252.1 1377.8,1248.7 1378.1,1250.4 1378.4,1250.5 1378.7,1250.5 1379.0,1250.1 1379.4,1252.8 1379.7,1254.7 1380.0,1243.8 1380.3,1247.1 1380.7,1254.2 1381.0,1243.0 1381.3,1248.1 1381.6,1243.7 1381.9,1246.1 1382.3,1247.0 1382.6,1242.2 1382.9,1244.8 1383.2,1250.1 1383.6,1240.8 1383.9,1241.8 1384.2,1240.9 1384.5,1240.7 1384.9,1237.7 1385.2,1233.7 1385.5,1234.1 1385.8,1234.9 1386.1,1234.4 1386.5,1235.5 1386.8,1227.1 1387.1,1236.3 1387.4,1232.2 1387.8,1228.4 1388.1,1225.9 1388.4,1223.9 1388.7,1224.0 1389.1,1215.7 1389.4,1215.6 1389.7,1222.4 1390.0,1217.6 1390.3,1216.5 1390.7,1206.3 1391.0,1209.1 1391.3,1209.6 1391.6,1203.3 1392.0,1203.4 1392.3,1196.6 1392.6,1191.7 1392.9,1193.7 1393.2,1186.5 1393.6,1182.8 1393.9,1182.2 1394.2,1175.2 1394.5,1174.8 1394.9,1167.4 1395.2,1165.9 1395.5,1163.1 1395.8,1154.1 1396.2,1151.7 1396.5,1151.9 1396.8,1156.7 1397.1,1143.9 1397.4,1143.3 1397.8,1138.2 1398.1,1137.2 1398.4,1136.2 1398.7,1135.1 1399.1,1129.2 1399.4,1128.5 1399.7,1129.1 1400.0,1136.6 1400.3,1135.5 1400.7,1135.4 1401.0,1143.3 1401.3,1137.1 1401.6,1145.9 1402.0,1142.9 1402.3,1150.4 1402.6,1151.1 1402.9,1160.7 1403.3,1166.6 1403.6,1165.3 1403.9,1170.8 1404.2,1174.4 1404.5,1175.7 1404.9,1177.2 1405.2,1179.3 1405.5,1187.8 1405.8,1192.8 1406.2,1192.2 1406.5,1198.2 1406.8,1201.7 1407.1,1202.5 1407.4,1200.8 1407.8,1205.9 1408.1,1215.3 1408.4,1206.2 1408.7,1217.9 1409.1,1215.9 1409.4,1220.8 1409.7,1217.8 1410.0,1221.3 1410.4,1220.9 1410.7,1225.3 1411.0,1228.1 1411.3,1225.7 1411.6,1236.2 1412.0,1235.8 1412.3,1237.6 1412.6,1235.2 1412.9,1237.3 1413.3,1239.5 1413.6,1236.1 1413.9,1237.7 1414.2,1241.6 1414.5,1245.2 1414.9,1235.9 1415.2,1241.9 1415.5,1245.3 1415.8,1243.9 1416.2,1244.1 1416.5,1247.6 1416.8,1244.3 1417.1,1246.6 1417.5,1249.0 1417.8,1244.9 1418.1,1249.9 1418.4,1245.5 1418.7,1249.3 1419.1,1250.9 1419.4,1247.3 1419.7,1252.1 1420.0,1249.9 1420.4,1248.0 1420.7,1253.3 1421.0,1254.3 1421.3,1250.8 1421.7,1250.5 1422.0,1259.9 1422.3,1252.5 1422.6,1251.0 1422.9,1256.1 1423.3,1251.9 1423.6,1256.0 1423.9,1257.2 1424.2,1256.4 1424.6,1253.7 1424.9,1257.1 1425.2,1257.8 1425.5,1256.4 1425.8,1254.4 1426.2,1262.7 1426.5,1253.9 1426.8,1253.2 1427.1,1260.4 1427.5,1257.8 1427.8,1256.5 1428.1,1257.6 1428.4,1252.7 1428.8,1257.8 1429.1,1259.9 1429.4,1259.6 1429.7,1257.6 1430.0,1260.9 1430.4,1260.5 1430.7,1260.4 1431.0,1254.2 1431.3,1257.3 1431.7,1262.5 1432.0,1257.8 1432.3,1266.9 1432.6,1259.4 1432.9,1257.7 1433.3,1258.5 1433.6,1258.0 1433.9,1259.0 1434.2,1261.5 1434.6,1260.2 1434.9,1260.4 1435.2,1263.9 1435.5,1259.5 1435.9,1262.5 1436.2,1257.9 1436.5,1253.2 1436.8,1253.5 1437.1,1252.1 1437.5,1260.7 1437.8,1260.7 1438.1,1257.6 1438.4,1261.9 1438.8,1257.4 1439.1,1260.7 1439.4,1258.1 1439.7,1260.0 1440.0,1254.1 1440.4,1255.1 1440.7,1255.9 1441.0,1261.4 1441.3,1254.1 1441.7,1258.4 1442.0,1260.7 1442.3,1255.5 1442.6,1252.8 1443.0,1259.5 1443.3,1252.4 1443.6,1254.5 1443.9,1253.6 1444.2,1250.8 1444.6,1252.2 1444.9,1252.1 1445.2,1246.0 1445.5,1255.0 1445.9,1243.9 1446.2,1249.2 1446.5,1240.8 1446.8,1246.4 1447.2,1237.9 1447.5,1245.7 1447.8,1234.7 1448.1,1238.7 1448.4,1239.3 1448.8,1239.4 1449.1,1235.7 1449.4,1239.6 1449.7,1238.0 1450.1,1240.3 1450.4,1245.0 1450.7,1238.2 1451.0,1244.8 1451.3,1244.8 1451.7,1246.2 1452.0,1248.2 1452.3,1244.7 1452.6,1249.6 1453.0,1252.6 1453.3,1252.6 1453.6,1254.7 1453.9,1257.8 1454.3,1252.3 1454.6,1259.0 1454.9,1253.4 1455.2,1257.2 1455.5,1255.7 1455.9,1258.6 1456.2,1259.8 1456.5,1252.8 1456.8,1260.8 1457.2,1262.7 1457.5,1259.1 1457.8,1256.6 1458.1,1264.4 1458.4,1262.5 1458.8,1258.8 1459.1,1258.7 1459.4,1259.9 1459.7,1262.9 1460.1,1261.2 1460.4,1263.9 1460.7,1260.8 1461.0,1262.2 1461.4,1261.5 1461.7,1263.0 1462.0,1260.5 1462.3,1262.4 1462.6,1264.7 1463.0,1258.6 1463.3,1262.0 1463.6,1263.5 1463.9,1263.3 1464.3,1258.6 1464.6,1262.7 1464.9,1262.1 1465.2,1265.3 1465.5,1264.0 1465.9,1264.7 1466.2,1265.5 1466.5,1266.1 1466.8,1264.1 1467.2,1266.9 1467.5,1261.5 1467.8,1261.1 1468.1,1265.8 1468.5,1262.2 1468.8,1265.4 1469.1,1262.5 1469.4,1262.2 1469.7,1268.2 1470.1,1270.4 1470.4,1262.2 1470.7,1262.2 1471.0,1263.6 1471.4,1265.1 1471.7,1265.6 1472.0,1270.9 1472.3,1259.7 1472.7,1270.0 1473.0,1263.0 1473.3,1264.3 1473.6,1262.8 1473.9,1267.2 1474.3,1266.1 1474.6,1262.5 1474.9,1266.9 1475.2,1263.5 1475.6,1267.4 1475.9,1263.2 1476.2,1262.4 1476.5,1263.6 1476.8,1262.2 1477.2,1266.9 1477.5,1265.1 1477.8,1264.6 1478.1,1259.7 1478.5,1265.2 1478.8,1263.6 1479.1,1260.3 1479.4,1263.1 1479.8,1261.1 1480.1,1266.5 1480.4,1260.8 1480.7,1263.6 1481.0,1262.1 1481.4,1261.6 1481.7,1268.8 1482.0,1260.4 1482.3,1264.6 1482.7,1260.3 1483.0,1264.2 1483.3,1262.8 1483.6,1267.7 1483.9,1266.6 1484.3,1260.5 1484.6,1265.8 1484.9,1262.8 1485.2,1263.7 1485.6,1266.7 1485.9,1264.2 1486.2,1264.0 1486.5,1261.9 1486.9,1264.8 1487.2,1265.4 1487.5,1259.8 1487.8,1259.7 1488.1,1263.5 1488.5,1266.5 1488.8,1262.6 1489.1,1265.2 1489.4,1259.8 1489.8,1263.9 1490.1,1265.6 1490.4,1264.7 1490.7,1266.4 1491.0,1264.0 1491.4,1267.4 1491.7,1263.3 1492.0,1261.6 1492.3,1262.6 1492.7,1266.5 1493.0,1262.9 1493.3,1265.1 1493.6,1268.0 1494.0,1264.3 1494.3,1261.6 1494.6,1263.5 1494.9,1265.0 1495.2,1265.9 1495.6,1264.2 1495.9,1262.8 1496.2,1263.6 1496.5,1260.9 1496.9,1261.9 1497.2,1261.4 1497.5,1264.9 1497.8,1262.8 1498.2,1263.9 1498.5,1262.9 1498.8,1263.2 1499.1,1257.2 1499.4,1267.1 1499.8,1262.9 1500.1,1265.2 1500.4,1262.7 1500.7,1263.1 1501.1,1259.6 1501.4,1264.1 1501.7,1265.6 1502.0,1262.8 1502.3,1262.9 1502.7,1269.5 1503.0,1258.4 1503.3,1266.0 1503.6,1259.2 1504.0,1260.0 1504.3,1259.5 1504.6,1262.7 1504.9,1265.4 1505.3,1265.1 1505.6,1259.5 1505.9,1264.0 1506.2,1261.5 1506.5,1263.4 1506.9,1263.8 1507.2,1259.5 1507.5,1264.5 1507.8,1262.3 1508.2,1262.3 1508.5,1260.9 1508.8,1261.4 1509.1,1263.7 1509.4,1261.7 1509.8,1261.2 1510.1,1254.6 1510.4,1257.5 1510.7,1259.6 1511.1,1258.5 1511.4,1259.3 1511.7,1253.5 1512.0,1258.0 1512.4,1259.5 1512.7,1245.2 1513.0,1257.6 1513.3,1256.1 1513.6,1256.2 1514.0,1251.2 1514.3,1252.9 1514.6,1251.6 1514.9,1245.1 1515.3,1241.8 1515.6,1242.6 1515.9,1243.8 1516.2,1236.7 1516.5,1236.6 1516.9,1230.6 1517.2,1226.8 1517.5,1226.9 1517.8,1217.2 1518.2,1215.6 1518.5,1212.1 1518.8,1211.7 1519.1,1203.9 1519.5,1207.1 1519.8,1204.9 1520.1,1209.1 1520.4,1212.0 1520.7,1215.0 1521.1,1219.7 1521.4,1220.1 1521.7,1219.2 1522.0,1223.7 1522.4,1232.6 1522.7,1235.6 1523.0,1232.2 1523.3,1236.9 1523.7,1241.3 1524.0,1244.5 1524.3,1246.3 1524.6,1253.2 1524.9,1249.8 1525.3,1243.4 1525.6,1245.7 1525.9,1251.6 1526.2,1249.3 1526.6,1250.4 1526.9,1254.0 1527.2,1255.2 1527.5,1254.6 1527.8,1252.8 1528.2,1249.8 1528.5,1252.8 1528.8,1253.5 1529.1,1254.2 1529.5,1250.0 1529.8,1248.9 1530.1,1252.6 1530.4,1253.7 1530.8,1252.0 1531.1,1251.0 1531.4,1249.1 1531.7,1249.3 1532.0,1253.7 1532.4,1251.3 1532.7,1251.6 1533.0,1248.1 1533.3,1252.3 1533.7,1253.4 1534.0,1247.5 1534.3,1248.1 1534.6,1247.0 1534.9,1245.0 1535.3,1246.0 1535.6,1242.1 1535.9,1244.2 1536.2,1242.9 1536.6,1236.9 1536.9,1237.9 1537.2,1232.6 1537.5,1233.7 1537.9,1235.3 1538.2,1233.9 1538.5,1234.5 1538.8,1231.3 1539.1,1229.7 1539.5,1231.3 1539.8,1231.1 1540.1,1234.9 1540.4,1229.8 1540.8,1232.5 1541.1,1232.5 1541.4,1239.4 1541.7,1237.9 1542.0,1240.5 1542.4,1235.2 1542.7,1241.0 1543.0,1235.2 1543.3,1241.0 1543.7,1244.5 1544.0,1240.2 1544.3,1239.4 1544.6,1245.1 1545.0,1246.7 1545.3,1245.6 1545.6,1249.0 1545.9,1248.9 1546.2,1252.1 1546.6,1248.0 1546.9,1250.0 1547.2,1246.1 1547.5,1245.8 1547.9,1243.8 1548.2,1245.8 1548.5,1247.1 1548.8,1242.9 1549.2,1248.1 1549.5,1251.8 1549.8,1249.6 1550.1,1246.9 1550.4,1244.1 1550.8,1242.6 1551.1,1247.8 1551.4,1242.0 1551.7,1243.5 1552.1,1242.6 1552.4,1246.7 1552.7,1244.3 1553.0,1249.2 1553.3,1242.8 1553.7,1243.7 1554.0,1240.5 1554.3,1239.0 1554.6,1244.1 1555.0,1238.8 1555.3,1237.9 1555.6,1241.1 1555.9,1234.9 1556.3,1241.6 1556.6,1242.9 1556.9,1238.5 1557.2,1233.4 1557.5,1236.1 1557.9,1241.7 1558.2,1237.9 1558.5,1232.6 1558.8,1237.3 1559.2,1235.2 1559.5,1236.9 1559.8,1228.2 1560.1,1228.3 1560.4,1235.7 1560.8,1236.4 1561.1,1229.3 1561.4,1229.0 1561.7,1229.4 1562.1,1228.3 1562.4,1228.6 1562.7,1224.5 1563.0,1223.8 1563.4,1221.8 1563.7,1222.0 1564.0,1225.0 1564.3,1223.8 1564.6,1222.4 1565.0,1220.3 1565.3,1221.5 1565.6,1220.8 1565.9,1218.1 1566.3,1217.6 1566.6,1215.6 1566.9,1209.7 1567.2,1209.2 1567.5,1212.8 1567.9,1209.9 1568.2,1209.6 1568.5,1209.7 1568.8,1204.5 1569.2,1209.8 1569.5,1202.4 1569.8,1202.2 1570.1,1203.1 1570.5,1196.7 1570.8,1193.6 1571.1,1193.7 1571.4,1191.3 1571.7,1192.9 1572.1,1187.2 1572.4,1182.2 1572.7,1187.0 1573.0,1175.7 1573.4,1184.0 1573.7,1174.3 1574.0,1175.8 1574.3,1170.8 1574.7,1168.7 1575.0,1165.7 1575.3,1160.0 1575.6,1160.3 1575.9,1155.7 1576.3,1149.7 1576.6,1149.7 1576.9,1151.5 1577.2,1143.4 1577.6,1139.5 1577.9,1136.3 1578.2,1127.9 1578.5,1125.0 1578.8,1122.8 1579.2,1117.4 1579.5,1114.8 1579.8,1107.3 1580.1,1095.4 1580.5,1099.6 1580.8,1084.1 1581.1,1083.5 1581.4,1077.9 1581.8,1072.6 1582.1,1068.0 1582.4,1055.9 1582.7,1051.7 1583.0,1045.5 1583.4,1036.4 1583.7,1024.1 1584.0,1022.2 1584.3,1013.3 1584.7,1000.6 1585.0,999.5 1585.3,985.2 1585.6,971.5 1585.9,970.4 1586.3,966.7 1586.6,949.4 1586.9,944.5 1587.2,930.1 1587.6,923.7 1587.9,915.6 1588.2,910.7 1588.5,895.2 1588.9,889.2 1589.2,881.1 1589.5,873.3 1589.8,866.0 1590.1,859.9 1590.5,854.6 1590.8,854.3 1591.1,845.5 1591.4,840.4 1591.8,831.6 1592.1,828.9 1592.4,834.1 1592.7,831.3 1593.0,831.4 1593.4,828.7 1593.7,830.2 1594.0,831.3 1594.3,838.8 1594.7,841.5 1595.0,837.6 1595.3,854.1 1595.6,850.9 1596.0,859.8 1596.3,866.2 1596.6,876.5 1596.9,884.7 1597.2,890.3 1597.6,901.8 1597.9,910.2 1598.2,919.7 1598.5,926.4 1598.9,937.0 1599.2,946.7 1599.5,952.9 1599.8,963.1 1600.2,976.6 1600.5,981.5 1600.8,985.7 1601.1,997.2 1601.4,1002.1 1601.8,1019.9 1602.1,1021.7 1602.4,1036.3 1602.7,1036.3 1603.1,1047.3 1603.4,1053.0 1603.7,1058.2 1604.0,1068.5 1604.3,1074.5 1604.7,1079.9 1605.0,1082.9 1605.3,1087.0 1605.6,1098.5 1606.0,1104.3 1606.3,1106.9 1606.6,1115.4 1606.9,1120.8 1607.3,1120.4 1607.6,1127.7 1607.9,1126.5 1608.2,1137.4 1608.5,1134.9 1608.9,1139.5 1609.2,1147.4 1609.5,1149.6 1609.8,1160.9 1610.2,1156.3 1610.5,1160.1 1610.8,1165.5 1611.1,1162.6 1611.4,1175.6 1611.8,1170.1 1612.1,1174.5 1612.4,1176.7 1612.7,1183.8 1613.1,1180.3 1613.4,1185.8 1613.7,1186.2 1614.0,1186.2 1614.4,1193.1 1614.7,1200.4 1615.0,1193.8 1615.3,1195.9 1615.6,1199.0 1616.0,1201.8 1616.3,1204.2 1616.6,1202.9 1616.9,1203.2 1617.3,1207.5 1617.6,1204.2 1617.9,1209.7 1618.2,1208.6 1618.5,1212.1 1618.9,1212.9 1619.2,1211.5 1619.5,1213.5 1619.8,1213.2 1620.2,1214.4 1620.5,1218.4 1620.8,1217.5 1621.1,1219.2 1621.5,1220.2 1621.8,1220.3 1622.1,1223.1 1622.4,1223.9 1622.7,1223.8 1623.1,1228.5 1623.4,1224.5 1623.7,1224.9 1624.0,1233.9 1624.4,1227.1 1624.7,1231.8 1625.0,1232.8 1625.3,1229.5 1625.7,1234.5 1626.0,1232.1 1626.3,1235.1 1626.6,1237.3 1626.9,1229.7 1627.3,1237.3 1627.6,1239.0 1627.9,1237.3 1628.2,1232.0 1628.6,1241.8 1628.9,1234.8 1629.2,1240.4 1629.5,1238.3 1629.8,1239.5 1630.2,1237.0 1630.5,1242.3 1630.8,1235.6 1631.1,1242.1 1631.5,1245.3 1631.8,1241.4 1632.1,1240.1 1632.4,1240.8 1632.8,1240.4 1633.1,1243.9 1633.4,1239.8 1633.7,1241.7 1634.0,1246.8 1634.4,1245.7 1634.7,1246.9 1635.0,1246.0 1635.3,1244.9 1635.7,1247.0 1636.0,1246.5 1636.3,1244.2 1636.6,1244.2 1636.9,1242.8 1637.3,1255.4 1637.6,1248.9 1637.9,1249.2 1638.2,1249.0 1638.6,1250.1 1638.9,1250.4 1639.2,1246.0 1639.5,1244.6 1639.9,1251.2 1640.2,1246.3 1640.5,1254.3 1640.8,1247.0 1641.1,1243.9 1641.5,1245.9 1641.8,1250.7 1642.1,1250.8 1642.4,1249.2 1642.8,1244.8 1643.1,1247.1 1643.4,1247.3 1643.7,1246.2 1644.0,1250.2 1644.4,1252.8 1644.7,1248.0 1645.0,1247.2 1645.3,1244.4 1645.7,1244.3 1646.0,1234.7 1646.3,1243.7 1646.6,1242.8 1647.0,1236.1 1647.3,1238.3 1647.6,1231.5 1647.9,1229.8 1648.2,1230.8 1648.6,1229.1 1648.9,1233.4 1649.2,1223.5 1649.5,1224.6 1649.9,1221.7 1650.2,1219.4 1650.5,1220.7 1650.8,1223.2 1651.2,1222.1 1651.5,1224.1 1651.8,1220.0 1652.1,1224.2 1652.4,1225.9 1652.8,1229.5 1653.1,1230.8 1653.4,1235.9 1653.7,1234.6 1654.1,1240.1 1654.4,1238.4 1654.7,1241.7 1655.0,1241.5 1655.3,1241.3 1655.7,1244.4 1656.0,1246.5 1656.3,1245.8 1656.6,1250.6 1657.0,1250.2 1657.3,1249.7 1657.6,1255.4 1657.9,1254.1 1658.3,1247.1 1658.6,1252.6 1658.9,1253.2 1659.2,1252.5 1659.5,1254.9 1659.9,1255.9 1660.2,1255.8 1660.5,1252.4 1660.8,1250.9 1661.2,1257.1 1661.5,1256.0 1661.8,1254.6 1662.1,1259.0 1662.4,1255.8 1662.8,1253.1 1663.1,1252.9 1663.4,1249.4 1663.7,1256.8 1664.1,1255.8 1664.4,1253.3 1664.7,1254.7 1665.0,1252.2 1665.4,1255.0 1665.7,1259.4 1666.0,1256.6 1666.3,1258.5 1666.6,1253.0 1667.0,1249.3 1667.3,1250.6 1667.6,1252.6 1667.9,1255.9 1668.3,1249.4 1668.6,1250.1 1668.9,1248.7 1669.2,1245.5 1669.5,1237.6 1669.9,1243.6 1670.2,1242.8 1670.5,1243.1 1670.8,1234.9 1671.2,1238.5 1671.5,1239.8 1671.8,1234.9 1672.1,1232.2 1672.5,1236.2 1672.8,1233.2 1673.1,1238.3 1673.4,1231.4 1673.7,1239.5 1674.1,1238.1 1674.4,1242.3 1674.7,1243.1 1675.0,1242.5 1675.4,1246.8 1675.7,1247.2 1676.0,1245.2 1676.3,1242.9 1676.7,1249.0 1677.0,1252.4 1677.3,1253.0 1677.6,1258.1 1677.9,1258.5 1678.3,1259.4 1678.6,1255.9 1678.9,1258.1 1679.2,1259.3 1679.6,1252.3 1679.9,1259.3 1680.2,1257.4 1680.5,1258.8 1680.8,1260.3 1681.2,1259.4 1681.5,1265.2 1681.8,1261.0 1682.1,1258.7 1682.5,1257.1 1682.8,1262.5 1683.1,1258.2 1683.4,1259.9 1683.8,1263.4 1684.1,1266.9 1684.4,1261.8 1684.7,1264.6 1685.0,1259.7 1685.4,1261.9 1685.7,1267.2 1686.0,1264.5 1686.3,1262.3 1686.7,1259.9 1687.0,1270.6 1687.3,1262.2 1687.6,1267.3 1687.9,1264.5 1688.3,1266.3 1688.6,1261.4 1688.9,1263.1 1689.2,1259.2 1689.6,1260.6 1689.9,1266.3 1690.2,1270.4 1690.5,1265.1 1690.9,1266.0 1691.2,1264.2 1691.5,1266.6 1691.8,1266.4 1692.1,1262.6 1692.5,1264.1 1692.8,1266.7 1693.1,1263.7 1693.4,1267.4 1693.8,1264.9 1694.1,1262.4 1694.4,1266.4 1694.7,1268.8 1695.0,1264.7 1695.4,1266.3 1695.7,1260.4 1696.0,1265.7 1696.3,1267.2 1696.7,1268.8 1697.0,1271.9 1697.3,1268.0 1697.6,1265.6 1698.0,1268.4 1698.3,1264.5 1698.6,1263.5 1698.9,1264.1 1699.2,1267.9 1699.6,1268.4 1699.9,1263.9 1700.2,1268.1 1700.5,1268.1 1700.9,1268.0 1701.2,1262.8 1701.5,1271.8 1701.8,1263.5 1702.2,1264.2 1702.5,1262.3 1702.8,1265.5 1703.1,1260.6 1703.4,1264.8 1703.8,1269.4 1704.1,1271.0 1704.4,1267.0 1704.7,1265.8 1705.1,1266.3 1705.4,1264.4 1705.7,1264.1 1706.0,1274.1 1706.3,1267.5 1706.7,1267.5 1707.0,1265.9 1707.3,1269.8 1707.6,1264.4 1708.0,1267.5 1708.3,1264.0 1708.6,1269.5 1708.9,1268.2 1709.3,1271.5 1709.6,1270.6 1709.9,1268.9 1710.2,1269.6 1710.5,1267.2 1710.9,1266.9 1711.2,1268.2 1711.5,1268.2 1711.8,1271.4 1712.2,1269.6 1712.5,1269.0 1712.8,1270.5 1713.1,1266.4 1713.4,1267.0 1713.8,1270.9 1714.1,1270.0 1714.4,1268.9 1714.7,1268.6 1715.1,1264.7 1715.4,1269.5 1715.7,1270.7 1716.0,1268.1 1716.4,1267.3 1716.7,1265.8 1717.0,1271.9 1717.3,1270.0 1717.6,1268.7 1718.0,1268.9 1718.3,1273.7 1718.6,1268.4 1718.9,1265.5 1719.3,1267.9 1719.6,1270.0 1719.9,1272.5 1720.2,1272.4 1720.5,1269.9 1720.9,1271.9 1721.2,1271.9 1721.5,1274.4 1721.8,1268.7 1722.2,1267.7 1722.5,1270.3 1722.8,1268.4 1723.1,1269.8 1723.5,1265.7 1723.8,1270.5 1724.1,1270.3 1724.4,1273.6 1724.7,1270.5 1725.1,1271.5 1725.4,1271.8 1725.7,1266.3 1726.0,1268.4 1726.4,1267.7 1726.7,1269.6 1727.0,1273.1 1727.3,1270.4 1727.7,1267.7 1728.0,1272.9 1728.3,1271.1 1728.6,1270.7 1728.9,1267.8 1729.3,1270.6 1729.6,1268.6 1729.9,1268.9 1730.2,1271.4 1730.6,1270.1 1730.9,1274.2 1731.2,1272.1 1731.5,1269.2 1731.8,1269.6 1732.2,1269.8 1732.5,1270.6 1732.8,1268.4 1733.1,1269.0 1733.5,1270.5 1733.8,1275.2 1734.1,1262.4 1734.4,1264.4 1734.8,1273.1 1735.1,1266.6 1735.4,1271.5 1735.7,1267.5 1736.0,1273.2 1736.4,1270.9 1736.7,1272.1 1737.0,1268.8 1737.3,1268.4 1737.7,1270.5 1738.0,1277.2 1738.3,1270.7 1738.6,1273.9 1738.9,1266.6 1739.3,1272.4 1739.6,1276.9 1739.9,1271.4 1740.2,1274.7 1740.6,1269.8 1740.9,1274.5 1741.2,1270.0 1741.5,1275.7 1741.9,1267.9 1742.2,1271.3 1742.5,1269.2 1742.8,1271.8 1743.1,1265.6 1743.5,1271.9 1743.8,1269.5 1744.1,1271.6 1744.4,1267.9 1744.8,1275.4 1745.1,1275.8 1745.4,1270.0 1745.7,1273.5 1746.0,1274.2 1746.4,1270.2 1746.7,1271.6 1747.0,1278.5 1747.3,1271.3 1747.7,1273.1 1748.0,1274.6 1748.3,1269.5 1748.6,1270.0 1749.0,1267.8 1749.3,1273.2 1749.6,1274.3 1749.9,1264.5 1750.2,1269.3 1750.6,1269.7 1750.9,1274.2 1751.2,1273.0 1751.5,1269.6 1751.9,1280.2 1752.2,1275.5 1752.5,1271.0 1752.8,1277.2 1753.2,1269.9 1753.5,1272.6 1753.8,1276.8 1754.1,1272.0 1754.4,1271.9 1754.8,1272.3 1755.1,1270.4 1755.4,1276.5 1755.7,1273.7 1756.1,1270.8 1756.4,1271.5 1756.7,1271.7 1757.0,1264.4 1757.3,1273.5 1757.7,1274.1 1758.0,1270.7 1758.3,1273.1 1758.6,1269.9 1759.0,1273.1 1759.3,1267.6 1759.6,1274.5 1759.9,1273.3 1760.3,1270.1 1760.6,1272.5 1760.9,1270.1 1761.2,1270.5 1761.5,1270.2 1761.9,1276.2 1762.2,1270.2 1762.5,1272.5 1762.8,1271.8 1763.2,1275.1 1763.5,1271.3 1763.8,1270.4 1764.1,1271.7 1764.4,1271.3 1764.8,1272.3 1765.1,1273.3 1765.4,1271.4 1765.7,1273.3 1766.1,1273.2 1766.4,1271.5 1766.7,1270.1 1767.0,1268.0 1767.4,1269.7 1767.7,1272.6 1768.0,1275.1 1768.3,1271.9 1768.6,1275.7 1769.0,1275.7 1769.3,1278.2 1769.6,1269.4 1769.9,1269.7 1770.3,1275.9 1770.6,1272.6 1770.9,1271.9 1771.2,1268.6 1771.5,1268.9 1771.9,1275.3 1772.2,1271.9 1772.5,1277.2 1772.8,1273.1 1773.2,1272.7 1773.5,1273.6 1773.8,1275.9 1774.1,1273.7 1774.5,1266.6 1774.8,1274.3 1775.1,1272.4 1775.4,1269.7 1775.7,1269.9 1776.1,1273.2 1776.4,1268.0 1776.7,1267.9 1777.0,1271.2 1777.4,1270.8 1777.7,1271.8 1778.0,1269.8 1778.3,1270.4 1778.7,1267.8 1779.0,1275.6 1779.3,1268.1 1779.6,1270.8 1779.9,1266.2 1780.3,1266.8 1780.6,1270.3 1780.9,1269.6 1781.2,1270.6 1781.6,1271.9 1781.9,1269.3 1782.2,1266.2 1782.5,1268.8 1782.8,1271.4 1783.2,1267.4 1783.5,1269.9 1783.8,1266.3 1784.1,1264.0 1784.5,1262.7 1784.8,1261.4 1785.1,1266.2 1785.4,1270.3 1785.8,1262.3 1786.1,1261.8 1786.4,1258.0 1786.7,1256.9 1787.0,1258.2 1787.4,1255.7 1787.7,1251.7 1788.0,1254.1 1788.3,1256.2 1788.7,1246.8 1789.0,1244.8 1789.3,1243.9 1789.6,1235.8 1789.9,1236.5 1790.3,1234.7 1790.6,1228.2 1790.9,1220.1 1791.2,1224.0 1791.6,1214.5 1791.9,1216.3 1792.2,1206.8 1792.5,1206.4 1792.9,1203.0 1793.2,1197.2 1793.5,1190.2 1793.8,1201.1 1794.1,1196.8 1794.5,1199.3 1794.8,1195.4 1795.1,1201.0 1795.4,1206.8 1795.8,1205.5 1796.1,1210.0 1796.4,1216.1 1796.7,1217.6 1797.0,1222.9 1797.4,1225.0 1797.7,1234.4 1798.0,1233.0 1798.3,1235.4 1798.7,1243.4 1799.0,1233.8 1799.3,1241.8 1799.6,1247.6 1800.0,1252.0 1800.3,1252.9 1800.6,1253.9 1800.9,1254.0 1801.2,1260.3 1801.6,1260.9 1801.9,1255.2 1802.2,1263.5 1802.5,1254.9 1802.9,1261.6 1803.2,1265.8 1803.5,1264.8 1803.8,1258.0 1804.2,1262.5 1804.5,1266.4 1804.8,1260.2 1805.1,1262.5 1805.4,1265.9 1805.8,1267.5 1806.1,1268.7 1806.4,1264.4 1806.7,1263.1 1807.1,1260.3 1807.4,1260.1 1807.7,1261.6 1808.0,1268.4 1808.3,1265.8 1808.7,1262.5 1809.0,1264.5 1809.3,1263.2 1809.6,1264.5 1810.0,1262.9 1810.3,1259.7 1810.6,1260.7 1810.9,1265.6 1811.3,1262.4 1811.6,1263.7 1811.9,1264.4 1812.2,1256.3 1812.5,1258.2 1812.9,1250.2 1813.2,1254.1 1813.5,1253.3 1813.8,1254.7 1814.2,1253.8 1814.5,1247.8 1814.8,1249.4 1815.1,1241.3 1815.4,1240.5 1815.8,1237.8 1816.1,1236.9 1816.4,1236.8 1816.7,1227.1 1817.1,1228.2 1817.4,1222.3 1817.7,1215.4 1818.0,1213.7 1818.4,1208.8 1818.7,1206.0 1819.0,1193.7 1819.3,1186.4 1819.6,1188.2 1820.0,1177.5 1820.3,1170.8 1820.6,1167.5 1820.9,1166.8 1821.3,1169.9 1821.6,1171.7 1821.9,1170.4 1822.2,1169.1 1822.5,1169.6 1822.9,1173.8 1823.2,1182.4 1823.5,1185.8 1823.8,1193.5 1824.2,1202.7 1824.5,1204.6 1824.8,1204.8 1825.1,1210.3 1825.5,1216.7 1825.8,1221.1 1826.1,1218.3 1826.4,1227.0 1826.7,1232.2 1827.1,1238.1 1827.4,1238.3 1827.7,1237.5 1828.0,1241.8 1828.4,1240.4 1828.7,1244.3 1829.0,1236.0 1829.3,1245.4 1829.7,1242.0 1830.0,1246.7 1830.3,1243.5 1830.6,1241.4 1830.9,1242.6 1831.3,1247.0 1831.6,1236.9 1831.9,1237.7 1832.2,1240.6 1832.6,1237.5 1832.9,1232.5 1833.2,1234.4 1833.5,1228.2 1833.8,1231.3 1834.2,1225.2 1834.5,1221.2 1834.8,1222.9 1835.1,1219.8 1835.5,1218.2 1835.8,1214.7 1836.1,1215.5 1836.4,1219.0 1836.8,1220.2 1837.1,1223.8 1837.4,1226.1 1837.7,1228.8 1838.0,1231.8 1838.4,1230.6 1838.7,1236.6 1839.0,1241.1 1839.3,1243.7 1839.7,1244.2 1840.0,1245.0 1840.3,1250.2 1840.6,1253.5 1840.9,1252.1 1841.3,1251.6 1841.6,1258.8 1841.9,1258.6 1842.2,1264.1 1842.6,1253.0 1842.9,1263.9 1843.2,1265.3 1843.5,1262.1 1843.9,1264.5 1844.2,1262.0 1844.5,1267.2 1844.8,1265.0 1845.1,1265.2 1845.5,1264.6 1845.8,1261.2 1846.1,1266.9 1846.4,1269.4 1846.8,1266.0 1847.1,1269.4 1847.4,1264.9 1847.7,1266.8 1848.0,1267.3 1848.4,1272.1 1848.7,1271.9 1849.0,1269.2 1849.3,1267.6 1849.7,1273.1 1850.0,1268.5 1850.3,1266.2 1850.6,1268.3 1851.0,1263.6 1851.3,1265.1 1851.6,1260.9 1851.9,1266.8 1852.2,1262.9 1852.6,1271.3 1852.9,1265.2 1853.2,1259.4 1853.5,1262.4 1853.9,1261.9 1854.2,1263.0 1854.5,1253.8 1854.8,1254.0 1855.2,1256.7 1855.5,1254.7 1855.8,1254.8 1856.1,1257.9 1856.4,1252.3 1856.8,1254.3 1857.1,1254.6 1857.4,1249.1 1857.7,1252.1 1858.1,1255.4 1858.4,1251.4 1858.7,1253.7 1859.0,1253.4 1859.3,1255.7 1859.7,1255.4 1860.0,1256.6 1860.3,1261.0 1860.6,1253.6 1861.0,1260.0 1861.3,1268.7 1861.6,1259.9 1861.9,1267.9 1862.3,1263.6 1862.6,1261.1 1862.9,1267.2 1863.2,1267.4 1863.5,1264.5 1863.9,1266.7 1864.2,1267.5 1864.5,1270.1 1864.8,1269.9 1865.2,1275.9 1865.5,1272.2 1865.8,1271.7 1866.1,1269.9 1866.4,1270.6 1866.8,1276.0 1867.1,1274.8 1867.4,1279.2 1867.7,1273.6 1868.1,1269.1 1868.4,1273.1 1868.7,1275.9 1869.0,1273.6 1869.4,1274.6 1869.7,1277.7 1870.0,1277.0 1870.3,1275.1 1870.6,1272.4 1871.0,1276.5 1871.3,1276.8 1871.6,1278.9 1871.9,1275.2 1872.3,1278.3 1872.6,1270.2 1872.9,1275.1 1873.2,1284.1 1873.5,1271.6 1873.9,1274.8 1874.2,1275.8 1874.5,1275.3 1874.8,1277.5 1875.2,1278.4 1875.5,1278.0 1875.8,1276.4 1876.1,1274.9 1876.5,1270.6 1876.8,1275.0 1877.1,1273.8 1877.4,1273.4 1877.7,1278.4 1878.1,1279.0 1878.4,1278.7 1878.7,1271.9 1879.0,1280.2 1879.4,1274.7 1879.7,1278.7 1880.0,1269.1 1880.3,1280.2 1880.7,1279.9 1881.0,1277.8 1881.3,1279.6 1881.6,1274.4 1881.9,1273.9 1882.3,1273.8 1882.6,1270.6 1882.9,1279.2 1883.2,1276.1 1883.6,1277.6 1883.9,1278.6 1884.2,1275.6 1884.5,1270.4 1884.8,1279.2 1885.2,1270.4 1885.5,1275.7 1885.8,1277.9 1886.1,1279.9 1886.5,1274.2 1886.8,1276.2 1887.1,1277.1 1887.4,1278.4 1887.8,1277.1 1888.1,1277.8 1888.4,1276.3 1888.7,1282.0 1889.0,1276.1 1889.4,1274.0 1889.7,1274.5 1890.0,1280.6 1890.3,1276.5 1890.7,1276.0 1891.0,1273.6 1891.3,1274.3 1891.6,1273.9 1891.9,1277.3 1892.3,1274.9 1892.6,1277.2 1892.9,1277.7 1893.2,1281.3 1893.6,1276.0 1893.9,1277.5 1894.2,1281.3 1894.5,1273.2 1894.9,1278.1 1895.2,1275.9 1895.5,1276.0 1895.8,1277.5 1896.1,1276.4 1896.5,1274.4 1896.8,1279.2 1897.1,1280.8 1897.4,1274.1 1897.8,1275.5 1898.1,1279.1 1898.4,1274.0 1898.7,1280.4 1899.0,1276.7 1899.4,1276.0 1899.7,1277.0 1900.0,1275.7 1900.3,1278.4 1900.7,1281.6 1901.0,1278.7 1901.3,1275.4 1901.6,1276.9 1902.0,1277.1 1902.3,1277.9 1902.6,1273.9 1902.9,1278.5 1903.2,1276.2 1903.6,1276.2 1903.9,1279.6 1904.2,1274.7 1904.5,1275.8 1904.9,1275.4 1905.2,1280.8 1905.5,1273.7 1905.8,1278.1 1906.2,1277.2 1906.5,1275.9 1906.8,1274.6 1907.1,1278.6 1907.4,1276.2 1907.8,1277.0 1908.1,1277.2 1908.4,1277.1 1908.7,1279.8 1909.1,1277.3 1909.4,1273.8 1909.7,1279.9 1910.0,1281.7 1910.3,1273.2 1910.7,1281.0 1911.0,1278.1 1911.3,1278.9 1911.6,1276.5 1912.0,1278.2 1912.3,1275.9 1912.6,1278.5 1912.9,1280.3 1913.3,1270.5 1913.6,1276.9 1913.9,1275.8 1914.2,1280.7 1914.5,1279.2 1914.9,1278.6 1915.2,1274.5 1915.5,1279.5 1915.8,1275.8 1916.2,1278.1 1916.5,1279.1 1916.8,1275.2 1917.1,1276.4 1917.4,1280.1 1917.8,1275.4 1918.1,1280.8 1918.4,1275.8 1918.7,1277.5 1919.1,1270.9 1919.4,1275.8 1919.7,1271.3 1920.0,1275.6 1920.4,1278.3 1920.7,1275.2 1921.0,1281.3 1921.3,1280.6 1921.6,1277.5 1922.0,1272.9 1922.3,1274.6 1922.6,1281.0 1922.9,1283.0 1923.3,1276.4 1923.6,1281.6 1923.9,1280.4 1924.2,1279.0 1924.5,1280.0 1924.9,1279.6 1925.2,1277.9 1925.5,1274.6 1925.8,1279.1 1926.2,1277.1 1926.5,1276.0 1926.8,1275.8 1927.1,1277.4 1927.5,1279.3 1927.8,1277.4 1928.1,1281.2 1928.4,1277.3 1928.7,1273.5 1929.1,1275.3 1929.4,1285.3 1929.7,1275.4 1930.0,1275.3 1930.4,1277.8 1930.7,1274.8 1931.0,1274.8 1931.3,1277.0 1931.7,1277.3 1932.0,1279.8 1932.3,1273.6 1932.6,1282.6 1932.9,1275.3 1933.3,1277.2 1933.6,1275.9 1933.9,1277.2 1934.2,1276.1 1934.6,1278.3 1934.9,1278.3 1935.2,1271.0 1935.5,1276.4 1935.8,1271.6 1936.2,1273.1 1936.5,1274.5 1936.8,1274.0 1937.1,1274.9 1937.5,1271.9 1937.8,1274.7 1938.1,1275.2 1938.4,1272.1 1938.8,1273.7 1939.1,1272.0 1939.4,1274.9 1939.7,1273.0 1940.0,1269.8 1940.4,1269.5 1940.7,1274.7 1941.0,1271.6 1941.3,1273.8 1941.7,1268.1 1942.0,1272.3 1942.3,1274.0 1942.6,1271.5 1942.9,1270.8 1943.3,1260.0 1943.6,1267.3 1943.9,1262.5 1944.2,1265.5 1944.6,1261.1 1944.9,1257.4 1945.2,1256.7 1945.5,1254.0 1945.9,1253.3 1946.2,1254.7 1946.5,1250.8 1946.8,1249.7 1947.1,1249.3 1947.5,1239.7 1947.8,1246.0 1948.1,1244.6 1948.4,1240.2 1948.8,1233.5 1949.1,1235.6 1949.4,1232.0 1949.7,1233.2 1950.0,1226.7 1950.4,1228.5 1950.7,1228.9 1951.0,1225.4 1951.3,1232.3 1951.7,1227.1 1952.0,1230.3 1952.3,1237.7 1952.6,1236.9 1953.0,1237.2 1953.3,1243.8 1953.6,1245.5 1953.9,1241.5 1954.2,1240.1 1954.6,1245.3 1954.9,1250.2 1955.2,1253.5 1955.5,1258.3 1955.9,1255.2 1956.2,1260.3 1956.5,1260.3 1956.8,1261.4 1957.2,1260.7 1957.5,1262.6 1957.8,1271.2 1958.1,1267.8 1958.4,1264.4 1958.8,1264.3 1959.1,1266.4 1959.4,1266.4 1959.7,1272.8 1960.1,1270.5 1960.4,1270.5 1960.7,1268.6 1961.0,1271.3 1961.3,1273.4 1961.7,1269.6 1962.0,1272.4 1962.3,1271.1 1962.6,1277.6 1963.0,1273.0 1963.3,1272.0 1963.6,1269.7 1963.9,1273.6 1964.3,1278.4 1964.6,1277.7 1964.9,1271.2 1965.2,1271.6 1965.5,1275.1 1965.9,1277.0 1966.2,1271.8 1966.5,1276.3 1966.8,1275.1 1967.2,1279.1 1967.5,1282.3 1967.8,1274.6 1968.1,1270.2 1968.4,1276.1 1968.8,1278.7 1969.1,1271.6 1969.4,1278.1 1969.7,1281.2 1970.1,1276.8 1970.4,1274.6 1970.7,1277.7 1971.0,1275.5 1971.4,1275.4 1971.7,1275.3 1972.0,1271.3 1972.3,1274.9 1972.6,1273.8 1973.0,1271.7 1973.3,1276.2 1973.6,1272.8 1973.9,1276.8 1974.3,1275.0 1974.6,1275.3 1974.9,1272.3 1975.2,1272.5 1975.5,1276.8 1975.9,1277.5 1976.2,1277.8 1976.5,1277.3 1976.8,1276.3 1977.2,1274.5 1977.5,1276.6 1977.8,1269.1 1978.1,1270.5 1978.5,1268.0 1978.8,1272.2 1979.1,1271.5 1979.4,1273.7 1979.7,1269.6 1980.1,1271.1 1980.4,1272.6 1980.7,1270.9 1981.0,1266.5 1981.4,1266.8 1981.7,1270.8 1982.0,1275.8 1982.3,1277.9 1982.7,1269.6 1983.0,1269.1 1983.3,1268.4 1983.6,1266.6 1983.9,1265.4 1984.3,1268.3 1984.6,1266.8 1984.9,1259.8 1985.2,1257.0 1985.6,1261.6 1985.9,1260.4 1986.2,1257.2 1986.5,1257.2 1986.8,1256.5 1987.2,1255.2 1987.5,1249.5 1987.8,1253.8 1988.1,1248.6 1988.5,1251.4 1988.8,1244.9 1989.1,1243.7 1989.4,1243.0 1989.8,1240.0 1990.1,1244.0 1990.4,1239.9 1990.7,1237.6 1991.0,1235.0 1991.4,1234.5 1991.7,1235.8 1992.0,1233.5 1992.3,1232.8 1992.7,1227.3 1993.0,1234.5 1993.3,1235.0 1993.6,1236.4 1993.9,1239.5 1994.3,1241.4 1994.6,1239.7 1994.9,1244.2 1995.2,1246.5 1995.6,1246.9 1995.9,1244.1 1996.2,1253.2 1996.5,1252.6 1996.9,1252.1 1997.2,1252.6 1997.5,1250.9 1997.8,1251.0 1998.1,1259.2 1998.5,1256.2 1998.8,1253.8 1999.1,1256.5 1999.4,1262.5 1999.8,1262.3 2000.1,1260.7 2000.4,1258.8 2000.7,1264.0 2001.0,1258.8 2001.4,1262.8 2001.7,1259.0 2002.0,1258.4 2002.3,1258.6 2002.7,1256.5 2003.0,1258.6 2003.3,1257.3 2003.6,1253.4 2004.0,1257.5 2004.3,1256.6 2004.6,1257.6 2004.9,1247.9 2005.2,1253.5 2005.6,1247.7 2005.9,1248.8 2006.2,1246.8 2006.5,1248.2 2006.9,1246.8 2007.2,1243.2 2007.5,1245.3 2007.8,1248.4 2008.2,1246.4 2008.5,1250.3 2008.8,1245.9 2009.1,1246.0 2009.4,1249.0 2009.8,1246.8 2010.1,1248.1 2010.4,1254.3 2010.7,1252.4 2011.1,1257.6 2011.4,1257.8 2011.7,1260.3 2012.0,1260.7 2012.3,1265.5 2012.7,1263.9 2013.0,1268.0 2013.3,1261.3 2013.6,1267.9 2014.0,1267.6 2014.3,1272.4 2014.6,1270.9 2014.9,1268.2 2015.3,1275.9 2015.6,1269.9 2015.9,1272.6 2016.2,1265.9 2016.5,1270.3 2016.9,1270.1 2017.2,1272.0 2017.5,1270.3 2017.8,1276.6 2018.2,1269.1 2018.5,1271.8 2018.8,1278.5 2019.1,1273.3 2019.4,1274.4 2019.8,1270.6 2020.1,1275.6 2020.4,1274.8 2020.7,1273.9 2021.1,1275.7 2021.4,1270.7 2021.7,1274.2 2022.0,1277.3 2022.4,1275.0 2022.7,1276.3 2023.0,1271.2 2023.3,1278.9 2023.6,1280.9 2024.0,1270.2 2024.3,1276.1 2024.6,1272.9 2024.9,1276.1 2025.3,1277.5 2025.6,1274.7 2025.9,1276.0 2026.2,1278.0 2026.5,1281.6 2026.9,1275.5 2027.2,1272.6 2027.5,1273.2 2027.8,1280.2 2028.2,1272.6 2028.5,1280.3 2028.8,1277.8 2029.1,1276.2 2029.5,1276.3 2029.8,1278.7 2030.1,1277.3 2030.4,1276.1 2030.7,1276.1 2031.1,1274.5 2031.4,1273.9 2031.7,1276.0 2032.0,1278.3 2032.4,1274.3 2032.7,1276.4 2033.0,1278.5 2033.3,1282.9 2033.7,1275.8 2034.0,1274.4 2034.3,1273.3 2034.6,1278.8 2034.9,1276.3 2035.3,1280.9 2035.6,1275.5 2035.9,1275.2 2036.2,1278.2 2036.6,1274.4 2036.9,1273.0 2037.2,1272.7 2037.5,1277.9 2037.8,1275.2 2038.2,1272.3 2038.5,1275.5 2038.8,1275.9 2039.1,1275.4 2039.5,1272.0 2039.8,1274.9 2040.1,1279.2 2040.4,1271.9 2040.8,1265.6 2041.1,1271.8 2041.4,1268.9 2041.7,1271.4 2042.0,1272.6 2042.4,1274.3 2042.7,1269.6 2043.0,1270.5 2043.3,1267.4 2043.7,1268.9 2044.0,1266.8 2044.3,1273.6 2044.6,1266.3 2044.9,1264.7 2045.3,1264.7 2045.6,1260.9 2045.9,1264.0 2046.2,1261.0 2046.6,1267.2 2046.9,1258.7 2047.2,1257.8 2047.5,1261.3 2047.9,1264.0 2048.2,1259.8 2048.5,1256.5 2048.8,1251.2 2049.1,1258.4 2049.5,1253.5 2049.8,1252.8 2050.1,1253.0 2050.4,1256.5 2050.8,1253.2 2051.1,1259.3 2051.4,1261.5 2051.7,1257.1 2052.0,1260.1 2052.4,1264.9 2052.7,1255.9 2053.0,1258.4 2053.3,1259.8 2053.7,1265.0 2054.0,1265.3 2054.3,1268.7 2054.6,1265.2 2055.0,1266.7 2055.3,1266.8 2055.6,1263.4 2055.9,1269.5 2056.2,1269.2 2056.6,1273.4 2056.9,1265.5 2057.2,1266.9 2057.5,1277.2 2057.9,1277.3 2058.2,1266.8 2058.5,1266.4 2058.8,1270.1 2059.2,1268.3 2059.5,1276.2 2059.8,1272.5 2060.1,1270.4 2060.4,1273.4 2060.8,1275.8 2061.1,1273.6 2061.4,1275.6 2061.7,1267.9 2062.1,1274.3 2062.4,1275.2 2062.7,1278.6 2063.0,1269.1 2063.3,1273.6 2063.7,1271.5 2064.0,1273.3 2064.3,1272.1 2064.6,1272.7 2065.0,1274.3 2065.3,1271.1 2065.6,1274.6 2065.9,1271.3 2066.3,1270.8 2066.6,1269.4 2066.9,1274.0 2067.2,1264.6 2067.5,1270.4 2067.9,1274.0 2068.2,1275.2 2068.5,1269.9 2068.8,1270.1 2069.2,1267.8 2069.5,1273.7 2069.8,1269.1 2070.1,1267.4 2070.4,1265.6 2070.8,1272.9 2071.1,1269.4 2071.4,1269.6 2071.7,1267.4 2072.1,1267.5 2072.4,1266.1 2072.7,1268.7 2073.0,1264.6 2073.4,1270.0 2073.7,1265.5 2074.0,1259.2 2074.3,1268.0 2074.6,1259.9 2075.0,1261.1 2075.3,1266.2 2075.6,1263.5 2075.9,1263.2 2076.3,1267.8 2076.6,1271.1 2076.9,1266.1 2077.2,1269.3 2077.5,1264.2 2077.9,1270.9 2078.2,1260.4 2078.5,1259.9 2078.8,1269.2 2079.2,1273.2 2079.5,1266.8 2079.8,1269.7 2080.1,1268.9 2080.5,1273.5 2080.8,1273.5 2081.1,1268.2 2081.4,1273.9 2081.7,1276.2 2082.1,1269.4 2082.4,1269.5 2082.7,1272.5 2083.0,1274.9 2083.4,1267.5 2083.7,1273.6 2084.0,1270.9 2084.3,1277.0 2084.7,1277.4 2085.0,1273.1 2085.3,1269.6 2085.6,1277.2 2085.9,1276.1 2086.3,1275.8 2086.6,1270.9 2086.9,1275.1 2087.2,1274.1 2087.6,1272.8 2087.9,1273.5 2088.2,1271.0 2088.5,1279.7 2088.8,1275.2 2089.2,1275.1 2089.5,1279.8 2089.8,1276.1 2090.1,1275.8 2090.5,1277.8 2090.8,1278.7 2091.1,1273.3 2091.4,1276.2 2091.8,1277.3 2092.1,1276.4 2092.4,1278.6 2092.7,1276.6 2093.0,1275.9 2093.4,1279.9 2093.7,1277.7 2094.0,1277.7 2094.3,1277.1 2094.7,1278.8 2095.0,1277.7 2095.3,1279.1 2095.6,1280.3 2095.9,1279.3 2096.3,1282.4 2096.6,1276.2 2096.9,1276.9 2097.2,1280.5 2097.6,1280.7 2097.9,1280.6 2098.2,1281.5 2098.5,1281.3 2098.9,1276.6 2099.2,1279.0 2099.5,1275.6 2099.8,1276.7 2100.1,1277.0 2100.5,1281.9 2100.8,1273.2 2101.1,1278.7 2101.4,1284.8 2101.8,1279.0 2102.1,1279.3 2102.4,1276.6 2102.7,1281.2 2103.0,1277.9 2103.4,1279.3 2103.7,1274.8 2104.0,1279.1 2104.3,1276.8 2104.7,1275.4 2105.0,1280.6 2105.3,1277.4 2105.6,1278.2 2106.0,1273.6 2106.3,1276.5 2106.6,1280.3 2106.9,1272.8 2107.2,1279.7 2107.6,1278.3 2107.9,1277.8 2108.2,1276.4 2108.5,1280.0 2108.9,1278.7 2109.2,1279.1 2109.5,1277.5 2109.8,1280.3 2110.2,1279.2 2110.5,1282.0 2110.8,1273.0 2111.1,1276.4 2111.4,1274.3 2111.8,1279.9 2112.1,1282.9 2112.4,1282.4 2112.7,1281.4 2113.1,1276.2 2113.4,1278.8 2113.7,1279.2 2114.0,1281.2 2114.3,1272.8 2114.7,1281.4 2115.0,1278.1 2115.3,1278.2 2115.6,1277.8 2116.0,1277.8 2116.3,1276.2 2116.6,1269.5 2116.9,1273.8 2117.3,1276.1 2117.6,1279.9 2117.9,1272.5 2118.2,1272.2 2118.5,1278.3 2118.9,1275.0 2119.2,1283.2 2119.5,1279.3 2119.8,1273.0 2120.2,1281.1 2120.5,1274.1 2120.8,1272.7 2121.1,1279.9 2121.4,1276.0 2121.8,1271.2 2122.1,1268.4 2122.4,1274.9 2122.7,1270.6 2123.1,1277.2 2123.4,1276.5 2123.7,1273.1 2124.0,1271.9 2124.4,1273.3 2124.7,1270.2 2125.0,1270.8 2125.3,1269.0 2125.6,1270.3 2126.0,1272.0 2126.3,1271.3 2126.6,1271.6 2126.9,1270.5 2127.3,1267.2 2127.6,1267.0 2127.9,1265.5 2128.2,1266.2 2128.5,1265.7 2128.9,1270.0 2129.2,1268.0 2129.5,1267.7 2129.8,1267.7 2130.2,1271.9 2130.5,1262.0 2130.8,1266.2 2131.1,1264.3 2131.5,1263.3 2131.8,1255.5 2132.1,1257.7 2132.4,1253.4 2132.7,1256.6 2133.1,1252.9 2133.4,1251.5 2133.7,1252.9 2134.0,1250.6 2134.4,1254.6 2134.7,1251.3 2135.0,1246.5 2135.3,1252.1 2135.7,1243.4 2136.0,1242.3 2136.3,1243.5 2136.6,1238.2 2136.9,1238.1 2137.3,1235.5 2137.6,1237.6 2137.9,1236.0 2138.2,1236.7 2138.6,1241.5 2138.9,1238.0 2139.2,1238.8 2139.5,1238.8 2139.8,1239.9 2140.2,1238.6 2140.5,1242.3 2140.8,1245.5 2141.1,1243.1 2141.5,1252.1 2141.8,1251.6 2142.1,1245.5 2142.4,1254.5 2142.8,1251.0 2143.1,1256.2 2143.4,1252.6 2143.7,1254.7 2144.0,1254.0 2144.4,1256.6 2144.7,1255.9 2145.0,1263.0 2145.3,1257.0 2145.7,1263.6 2146.0,1260.9 2146.3,1264.6 2146.6,1261.6 2146.9,1264.3 2147.3,1265.6 2147.6,1265.1 2147.9,1267.6 2148.2,1268.0 2148.6,1264.5 2148.9,1267.4 2149.2,1269.1 2149.5,1271.0 2149.9,1266.8 2150.2,1272.8 2150.5,1271.1 2150.8,1274.5 2151.1,1273.2 2151.5,1272.2 2151.8,1270.9 2152.1,1272.3 2152.4,1269.7 2152.8,1277.7 2153.1,1266.7 2153.4,1271.2 2153.7,1271.5 2154.0,1275.4 2154.4,1270.4 2154.7,1275.4 2155.0,1273.5 2155.3,1272.8 2155.7,1271.9 2156.0,1272.1 2156.3,1276.0 2156.6,1277.2 2157.0,1269.9 2157.3,1271.5 2157.6,1272.1 2157.9,1272.5 2158.2,1272.3 2158.6,1279.0 2158.9,1273.6 2159.2,1271.0 2159.5,1273.4 2159.9,1271.6 2160.2,1272.5 2160.5,1274.9 2160.8,1275.8 2161.2,1274.0 2161.5,1270.7 2161.8,1278.0 2162.1,1271.0 2162.4,1278.9 2162.8,1267.9 2163.1,1273.9 2163.4,1273.0 2163.7,1274.7 2164.1,1270.6 2164.4,1275.3 2164.7,1269.3 2165.0,1267.0 2165.3,1273.0 2165.7,1275.3 2166.0,1270.7 2166.3,1274.9 2166.6,1273.7 2167.0,1272.1 2167.3,1269.6 2167.6,1275.6 2167.9,1270.5 2168.3,1270.9 2168.6,1272.6 2168.9,1270.2 2169.2,1271.8 2169.5,1273.0 2169.9,1277.4 2170.2,1278.6 2170.5,1271.5 2170.8,1269.6 2171.2,1274.2 2171.5,1272.1 2171.8,1266.7 2172.1,1268.6 2172.4,1275.7 2172.8,1268.9 2173.1,1271.3 2173.4,1268.9 2173.7,1270.0 2174.1,1272.7 2174.4,1264.1 2174.7,1276.9 2175.0,1272.5 2175.4,1266.1 2175.7,1269.4 2176.0,1268.0 2176.3,1271.4 2176.6,1266.1 2177.0,1270.2 2177.3,1271.1 2177.6,1270.8 2177.9,1263.9 2178.3,1266.9 2178.6,1264.2 2178.9,1264.6 2179.2,1265.7 2179.5,1268.0 2179.9,1263.2 2180.2,1261.7 2180.5,1266.0 2180.8,1263.8 2181.2,1263.7 2181.5,1266.4 2181.8,1258.8 2182.1,1257.1 2182.5,1258.1 2182.8,1256.2 2183.1,1255.4 2183.4,1251.5 2183.7,1251.5 2184.1,1250.1 2184.4,1253.9 2184.7,1249.4 2185.0,1249.8 2185.4,1251.9 2185.7,1246.7 2186.0,1252.0 2186.3,1249.9 2186.7,1243.2 2187.0,1244.0 2187.3,1251.0 2187.6,1244.6 2187.9,1245.4 2188.3,1246.8 2188.6,1249.5 2188.9,1247.5 2189.2,1245.0 2189.6,1242.4 2189.9,1245.5 2190.2,1250.8 2190.5,1246.8 2190.8,1243.3 2191.2,1250.1 2191.5,1253.4 2191.8,1247.1 2192.1,1252.1 2192.5,1250.4 2192.8,1249.7 2193.1,1251.3 2193.4,1250.8 2193.8,1248.9 2194.1,1248.6 2194.4,1249.7 2194.7,1248.2 2195.0,1249.2 2195.4,1251.7 2195.7,1244.5 2196.0,1248.3 2196.3,1247.3 2196.7,1245.4 2197.0,1248.2 2197.3,1251.2 2197.6,1251.6 2197.9,1247.4 2198.3,1242.7 2198.6,1243.9 2198.9,1242.7 2199.2,1244.9 2199.6,1246.9 2199.9,1242.8 2200.2,1246.4 2200.5,1242.9 2200.9,1238.1 2201.2,1240.5 2201.5,1241.7 2201.8,1235.2 2202.1,1234.3 2202.5,1234.1 2202.8,1238.5 2203.1,1230.2 2203.4,1231.7 2203.8,1228.2 2204.1,1225.3 2204.4,1225.6 2204.7,1221.8 2205.0,1221.9 2205.4,1223.5 2205.7,1222.2 2206.0,1213.5 2206.3,1210.9 2206.7,1216.0 2207.0,1212.4 2207.3,1210.0 2207.6,1207.0 2208.0,1211.4 2208.3,1202.6 2208.6,1202.0 2208.9,1199.5 2209.2,1198.7 2209.6,1191.2 2209.9,1193.5 2210.2,1184.8 2210.5,1182.7 2210.9,1185.7 2211.2,1178.6 2211.5,1175.5 2211.8,1176.0 2212.2,1178.1 2212.5,1169.5 2212.8,1164.4 2213.1,1155.5 2213.4,1154.7 2213.8,1152.1 2214.1,1150.4 2214.4,1144.9 2214.7,1146.1 2215.1,1142.3 2215.4,1139.9 2215.7,1135.7 2216.0,1129.1 2216.3,1119.3 2216.7,1125.1 2217.0,1116.7 2217.3,1113.8 2217.6,1115.6 2218.0,1107.5 2218.3,1109.8 2218.6,1097.6 2218.9,1095.4 2219.3,1097.3 2219.6,1093.9 2219.9,1092.0 2220.2,1090.5 2220.5,1084.9 2220.9,1088.9 2221.2,1085.7 2221.5,1087.4 2221.8,1080.4 2222.2,1083.3 2222.5,1081.0 2222.8,1087.1 2223.1,1093.2 2223.4,1085.5 2223.8,1087.8 2224.1,1088.3 2224.4,1093.2 2224.7,1093.7 2225.1,1095.8 2225.4,1102.8 2225.7,1110.5 2226.0,1105.8 2226.4,1110.6 2226.7,1115.9 2227.0,1121.8 2227.3,1117.2 2227.6,1125.3 2228.0,1129.2 2228.3,1136.0 2228.6,1139.3 2228.9,1140.4 2229.3,1148.5 2229.6,1145.2 2229.9,1153.6 2230.2,1152.4 2230.5,1159.1 2230.9,1165.3 2231.2,1160.8 2231.5,1170.0 2231.8,1174.6 2232.2,1173.8 2232.5,1178.4 2232.8,1182.5 2233.1,1191.1 2233.5,1193.2 2233.8,1188.6 2234.1,1195.3 2234.4,1195.1 2234.7,1201.5 2235.1,1200.7 2235.4,1208.8 2235.7,1206.8 2236.0,1204.3 2236.4,1209.9 2236.7,1213.6 2237.0,1214.9 2237.3,1216.5 2237.7,1213.1 2238.0,1219.7 2238.3,1220.6 2238.6,1224.9 2238.9,1223.6 2239.3,1225.5 2239.6,1230.3 2239.9,1234.5 2240.2,1231.8 2240.6,1229.3 2240.9,1235.5 2241.2,1236.2 2241.5,1233.1 2241.8,1237.9 2242.2,1244.1 2242.5,1235.2 2242.8,1240.7 2243.1,1243.5 2243.5,1243.7 2243.8,1242.5 2244.1,1246.4 2244.4,1240.8 2244.8,1245.5 2245.1,1245.8 2245.4,1247.6 2245.7,1250.8 2246.0,1249.5 2246.4,1245.8 2246.7,1252.8 2247.0,1252.6 2247.3,1251.9 2247.7,1255.7 2248.0,1251.8 2248.3,1258.3 2248.6,1254.3 2248.9,1258.9 2249.3,1257.5 2249.6,1258.1 2249.9,1250.4 2250.2,1259.9 2250.6,1255.9 2250.9,1258.1 2251.2,1261.8 2251.5,1257.7 2251.9,1260.8 2252.2,1265.7 2252.5,1266.5 2252.8,1261.6 2253.1,1262.0 2253.5,1267.3 2253.8,1263.0 2254.1,1264.5 2254.4,1262.6 2254.8,1266.3 2255.1,1264.5 2255.4,1265.4 2255.7,1263.8 2256.0,1262.8 2256.4,1260.3 2256.7,1270.5 2257.0,1265.9 2257.3,1269.5 2257.7,1270.4 2258.0,1272.5 2258.3,1269.4 2258.6,1268.0 2259.0,1269.1 2259.3,1268.0 2259.6,1268.4 2259.9,1267.9 2260.2,1269.2 2260.6,1268.7 2260.9,1269.3 2261.2,1271.3 2261.5,1273.9 2261.9,1274.5 2262.2,1269.4 2262.5,1273.6 2262.8,1269.0 2263.2,1272.6 2263.5,1273.5 2263.8,1272.2 2264.1,1271.3 2264.4,1267.0 2264.8,1273.1 2265.1,1273.5 2265.4,1271.1 2265.7,1269.5 2266.1,1272.6 2266.4,1273.8 2266.7,1270.9 2267.0,1271.5 2267.3,1271.2 2267.7,1276.1 2268.0,1270.6 2268.3,1272.1 2268.6,1269.4 2269.0,1272.9 2269.3,1271.0 2269.6,1272.8 2269.9,1266.2 2270.3,1276.0 2270.6,1274.5 2270.9,1273.9 2271.2,1279.8 2271.5,1272.9 2271.9,1266.8 2272.2,1269.0 2272.5,1267.9 2272.8,1270.9 2273.2,1272.0 2273.5,1270.4 2273.8,1273.3 2274.1,1274.2 2274.4,1266.0 2274.8,1268.8 2275.1,1264.6 2275.4,1271.9 2275.7,1267.5 2276.1,1271.6 2276.4,1262.8 2276.7,1266.6 2277.0,1269.5 2277.4,1269.3 2277.7,1262.9 2278.0,1269.3 2278.3,1266.9 2278.6,1266.4 2279.0,1269.3 2279.3,1262.5 2279.6,1261.9 2279.9,1268.7 2280.3,1267.0 2280.6,1266.0 2280.9,1266.7 2281.2,1266.8 2281.5,1272.4 2281.9,1269.7 2282.2,1274.1 2282.5,1271.0 2282.8,1269.8 2283.2,1269.4 2283.5,1277.9 2283.8,1271.9 2284.1,1276.9 2284.5,1272.2 2284.8,1272.8 2285.1,1273.8 2285.4,1272.0 2285.7,1274.3 2286.1,1277.5 2286.4,1276.6 2286.7,1275.0 2287.0,1280.8 2287.4,1277.2 2287.7,1275.8 2288.0,1279.9 2288.3,1273.9 2288.7,1274.5 2289.0,1276.2 2289.3,1278.2 2289.6,1279.0 2289.9,1276.6 2290.3,1277.1 2290.6,1275.9 2290.9,1280.6 2291.2,1277.2 2291.6,1275.9 2291.9,1281.7 2292.2,1278.8 2292.5,1279.2 2292.8,1279.9 2293.2,1276.9 2293.5,1280.1 2293.8,1277.7 2294.1,1278.6 2294.5,1277.8 2294.8,1280.6 2295.1,1281.8 2295.4,1278.3 2295.8,1280.0 2296.1,1278.0 2296.4,1281.6 2296.7,1281.8 2297.0,1278.5 2297.4,1280.0 2297.7,1280.8 2298.0,1278.7 2298.3,1281.0 2298.7,1280.1 2299.0,1279.2 2299.3,1283.5 2299.6,1278.0 2299.9,1280.7 2300.3,1281.4 2300.6,1280.8 2300.9,1282.4 2301.2,1285.6 2301.6,1280.5 2301.9,1281.8 2302.2,1276.3 2302.5,1276.7 2302.9,1281.9 2303.2,1279.7 2303.5,1277.7 2303.8,1279.6 2304.1,1280.9 2304.5,1281.4 2304.8,1283.2 2305.1,1278.1 2305.4,1278.8 2305.8,1279.9 2306.1,1280.3 2306.4,1275.7 2306.7,1279.1 2307.0,1276.6 2307.4,1283.3 2307.7,1282.4 2308.0,1282.2 2308.3,1278.0 2308.7,1280.8 2309.0,1276.3 2309.3,1279.4 2309.6,1277.0 2310.0,1280.4 2310.3,1277.0 2310.6,1280.0 2310.9,1279.2 2311.2,1281.6 2311.6,1283.5 2311.9,1281.7 2312.2,1277.7 2312.5,1277.5 2312.9,1282.3 2313.2,1280.9 2313.5,1281.2 2313.8,1275.8 2314.2,1279.3 2314.5,1279.4 2314.8,1275.1 2315.1,1277.6 2315.4,1274.2 2315.8,1273.2 2316.1,1276.2 2316.4,1278.7 2316.7,1274.4 2317.1,1267.4 2317.4,1275.4 2317.7,1268.4 2318.0,1272.9 2318.3,1273.1 2318.7,1265.9 2319.0,1270.1 2319.3,1273.7 2319.6,1270.8 2320.0,1268.5 2320.3,1266.8 2320.6,1260.9 2320.9,1260.7 2321.3,1262.2 2321.6,1259.9 2321.9,1261.3 2322.2,1263.3 2322.5,1257.8 2322.9,1257.4 2323.2,1253.4 2323.5,1254.1 2323.8,1251.1 2324.2,1254.5 2324.5,1253.8 2324.8,1253.6 2325.1,1254.4 2325.4,1249.2 2325.8,1251.7 2326.1,1255.5 2326.4,1254.4 2326.7,1248.3 2327.1,1247.8 2327.4,1251.1 2327.7,1255.3 2328.0,1252.4 2328.4,1257.8 2328.7,1261.8 2329.0,1259.6 2329.3,1263.8 2329.6,1262.6 2330.0,1257.1 2330.3,1262.8 2330.6,1264.7 2330.9,1264.1 2331.3,1268.4 2331.6,1267.4 2331.9,1271.6 2332.2,1273.5 2332.5,1272.0 2332.9,1274.6 2333.2,1278.1 2333.5,1274.2 2333.8,1276.3 2334.2,1276.5 2334.5,1270.8 2334.8,1273.5 2335.1,1273.1 2335.5,1276.7 2335.8,1279.3 2336.1,1279.4 2336.4,1272.6 2336.7,1285.1 2337.1,1279.3 2337.4,1277.7 2337.7,1282.6 2338.0,1276.0 2338.4,1281.2 2338.7,1279.3 2339.0,1275.3 2339.3,1277.3 2339.7,1280.4 2340.0,1280.3 2340.3,1276.2 2340.6,1275.2 2340.9,1279.0 2341.3,1285.5 2341.6,1281.9 2341.9,1277.9 2342.2,1282.8 2342.6,1281.7 2342.9,1283.6 2343.2,1282.2 2343.5,1278.5 2343.8,1279.4 2344.2,1284.2 2344.5,1278.0 2344.8,1285.3 2345.1,1278.9 2345.5,1279.2 2345.8,1285.1 2346.1,1286.6 2346.4,1279.0 2346.8,1280.0 2347.1,1281.2 2347.4,1283.9 2347.7,1280.9 2348.0,1285.9 2348.4,1279.9 2348.7,1275.9 2349.0,1282.6 2349.3,1279.3 2349.7,1284.5 2350.0,1281.3 2350.3,1282.8 2350.6,1281.1 2350.9,1283.1 2351.3,1286.9 2351.6,1279.5 2351.9,1285.5 2352.2,1279.5 2352.6,1285.7 2352.9,1280.4 2353.2,1281.5 2353.5,1283.9 2353.9,1280.0 2354.2,1281.9 2354.5,1278.3 2354.8,1280.8 2355.1,1279.4 2355.5,1288.2 2355.8,1279.0 2356.1,1283.4 2356.4,1283.4 2356.8,1286.3 2357.1,1284.8 2357.4,1283.6 2357.7,1282.6 2358.0,1282.7 2358.4,1283.9 2358.7,1282.5 2359.0,1280.6 2359.3,1284.2 2359.7,1284.7 2360.0,1280.1 2360.3,1281.8 2360.6,1285.5 2361.0,1281.2 2361.3,1281.8 2361.6,1277.1 2361.9,1280.6 2362.2,1280.8 2362.6,1283.2 2362.9,1285.6 2363.2,1283.3 2363.5,1283.7 2363.9,1283.8 2364.2,1280.0 2364.5,1285.8 2364.8,1278.4 2365.2,1285.8 2365.5,1286.9 2365.8,1280.6 2366.1,1283.8 2366.4,1285.0 2366.8,1282.0 2367.1,1284.5 2367.4,1282.8 2367.7,1284.2 2368.1,1282.8 2368.4,1285.4 2368.7,1281.3 2369.0,1284.4 2369.3,1283.0 2369.7,1289.1 2370.0,1282.0 2370.3,1284.9 2370.6,1283.9 2371.0,1284.3 2371.3,1284.9 2371.6,1286.0 2371.9,1280.9 2372.3,1284.7 2372.6,1284.0 2372.9,1284.4 2373.2,1285.4 2373.5,1280.5 2373.9,1285.3 2374.2,1282.6 2374.5,1285.7 2374.8,1287.5 2375.2,1287.5 2375.5,1282.2 2375.8,1288.9 2376.1,1288.2 2376.4,1285.3 2376.8,1282.1 2377.1,1285.6 2377.4,1280.8 2377.7,1284.1 2378.1,1284.3 2378.4,1279.5 2378.7,1282.3 2379.0,1284.8 2379.4,1285.1 2379.7,1281.5 2380.0,1280.0 2380.3,1284.4 2380.6,1284.1 2381.0,1280.8 2381.3,1285.5 2381.6,1282.5 2381.9,1282.9 2382.3,1284.0 2382.6,1286.1 2382.9,1289.9 2383.2,1284.1 2383.5,1286.9 2383.9,1282.9 2384.2,1285.1 2384.5,1284.8 2384.8,1279.8 2385.2,1281.8 2385.5,1286.2 2385.8,1281.3 2386.1,1284.6 2386.5,1287.1 2386.8,1283.2 2387.1,1283.6 2387.4,1281.0 2387.7,1280.9 2388.1,1280.6 2388.4,1285.4 2388.7,1283.7 2389.0,1288.3 2389.4,1282.7 2389.7,1284.1 2390.0,1289.3 2390.3,1281.9 2390.7,1282.3 2391.0,1287.8 2391.3,1289.5 2391.6,1284.5 2391.9,1283.0 2392.3,1283.9 2392.6,1279.8 2392.9,1277.3 2393.2,1283.3 2393.6,1284.1 2393.9,1284.8 2394.2,1278.0 2394.5,1283.4 2394.8,1281.7 2395.2,1281.1 2395.5,1280.7 2395.8,1282.3 2396.1,1278.4 2396.5,1281.9 2396.8,1282.9 2397.1,1286.3 2397.4,1284.3 2397.8,1283.5 2398.1,1280.5 2398.4,1284.9 2398.7,1282.7 2399.0,1283.9 2399.4,1290.6 2399.7,1282.6 2400.0,1278.7 2400.3,1287.2 2400.7,1280.3 2401.0,1286.7 2401.3,1284.5 2401.6,1283.7 2401.9,1280.9 2402.3,1283.4 2402.6,1283.2 2402.9,1280.9 2403.2,1280.7 2403.6,1283.8 2403.9,1282.0 2404.2,1279.6 2404.5,1282.0 2404.9,1286.1 2405.2,1283.2 2405.5,1287.5 2405.8,1277.4 2406.1,1282.9 2406.5,1287.9 2406.8,1284.7 2407.1,1282.3 2407.4,1281.5 2407.8,1283.9 2408.1,1284.6 2408.4,1286.1 2408.7,1281.1 2409.0,1280.1 2409.4,1282.6 2409.7,1283.0 2410.0,1283.1 2410.3,1285.0 2410.7,1284.5 2411.0,1282.0 2411.3,1282.8 2411.6,1282.3 2412.0,1285.6 2412.3,1281.4 2412.6,1286.3 2412.9,1280.1 2413.2,1284.0 2413.6,1282.7 2413.9,1285.4 2414.2,1283.8 2414.5,1285.6 2414.9,1283.1 2415.2,1288.4 2415.5,1280.4 2415.8,1282.9 2416.2,1281.6 2416.5,1283.8 2416.8,1282.0 2417.1,1285.3 2417.4,1285.8 2417.8,1284.5 2418.1,1287.4 2418.4,1281.1 2418.7,1284.2 2419.1,1283.8 2419.4,1285.5 2419.7,1281.7 2420.0,1280.1 2420.3,1283.9 2420.7,1279.9 2421.0,1281.9 2421.3,1282.1 2421.6,1287.2 2422.0,1284.9 2422.3,1279.1 2422.6,1279.3 2422.9,1276.0 2423.3,1283.5 2423.6,1279.5 2423.9,1285.6 2424.2,1283.6 2424.5,1284.0 2424.9,1283.1 2425.2,1279.6 2425.5,1276.3 2425.8,1279.4 2426.2,1283.0 2426.5,1275.7 2426.8,1278.0 2427.1,1283.0 2427.4,1274.6 2427.8,1278.0 2428.1,1275.7 2428.4,1279.3 2428.7,1278.8 2429.1,1276.1 2429.4,1281.5 2429.7,1276.8 2430.0,1274.5 2430.4,1275.8 2430.7,1277.4 2431.0,1278.4 2431.3,1278.6 2431.6,1273.6 2432.0,1277.2 2432.3,1277.8 2432.6,1281.1 2432.9,1277.8 2433.3,1277.2 2433.6,1285.9 2433.9,1275.3 2434.2,1277.9 2434.5,1281.0 2434.9,1285.8 2435.2,1274.3 2435.5,1279.4 2435.8,1282.9 2436.2,1285.8 2436.5,1279.0 2436.8,1287.2 2437.1,1282.4 2437.5,1283.4 2437.8,1286.0 2438.1,1284.8 2438.4,1284.9 2438.7,1280.6 2439.1,1282.0 2439.4,1280.0 2439.7,1286.1 2440.0,1279.8 2440.4,1282.5 2440.7,1280.0 2441.0,1284.4 2441.3,1282.2 2441.7,1286.3 2442.0,1280.4 2442.3,1283.4 2442.6,1285.4 2442.9,1284.1 2443.3,1283.6 2443.6,1289.0 2443.9,1283.5 2444.2,1286.8 2444.6,1284.1 2444.9,1283.3 2445.2,1277.1 2445.5,1282.5 2445.8,1287.3 2446.2,1281.9 2446.5,1286.6 2446.8,1286.1 2447.1,1285.2 2447.5,1280.3 2447.8,1278.0 2448.1,1280.6 2448.4,1286.0 2448.8,1281.6 2449.1,1279.5 2449.4,1288.7 2449.7,1282.4 2450.0,1274.0 2450.4,1284.8 2450.7,1283.5 2451.0,1283.7 2451.3,1276.4 2451.7,1277.5 2452.0,1278.0 2452.3,1276.9 2452.6,1282.1 2452.9,1285.8 2453.3,1279.1 2453.6,1285.5 2453.9,1279.4 2454.2,1279.9 2454.6,1281.2 2454.9,1278.3 2455.2,1281.1 2455.5,1285.9 2455.9,1285.0 2456.2,1281.1 2456.5,1285.0 2456.8,1281.6 2457.1,1284.4 2457.5,1283.0 2457.8,1286.6 2458.1,1284.5 2458.4,1288.8 2458.8,1286.3 2459.1,1282.9 2459.4,1286.4 2459.7,1287.4 2460.0,1282.3 2460.4,1282.7 2460.7,1288.2 2461.0,1284.3 2461.3,1283.7 2461.7,1287.6 2462.0,1287.3 2462.3,1285.7 2462.6,1281.1 2463.0,1285.4 2463.3,1285.5 2463.6,1292.9"/></defs>
<use href="#nv" fill="none" stroke="#021B5A" stroke-width="10" stroke-linejoin="round" stroke-linecap="round"/>
<use href="#nv" fill="none" stroke="#072672" stroke-width="3.5" stroke-linejoin="round" stroke-linecap="round"/>
<path d="M979.0,1176.5 V1477 M991.7,1200.0 V1477 M1110.5,746.0 V1477 M1218.5,929.0 V1477 M1304.7,1161.0 V1477 M1344.0,1193.0 V1477 M1364.7,1241.0 V1477 M1398.7,923.0 V1477 M1515.3,1208.0 V1477 M1536.0,1236.0 V1477 M1592.4,318.0 V1477 M1649.5,1227.0 V1477 M1671.0,1240.0 V1477 M1792.0,1205.0 V1477 M1820.3,1177.0 V1477 M1833.0,1222.0 V1477 M1858.0,1255.5 V1477 M1950.4,1236.0 V1477 M1994.0,1237.0 V1477 M2008.6,1250.0 V1477 M2050.0,1251.0 V1477 M2076.0,1267.0 V1477 M2138.3,1243.0 V1477 M2187.7,1244.0 V1477 M2221.9,830.0 V1477 M2323.4,1263.0 V1477" stroke="#FF0000" stroke-width="5.5" stroke-dasharray="5.5 5.8" fill="none"/>
<g fill="#C00000"><polygon points="973.0,1114.4 987.3,1124.8 981.8,1141.6 964.2,1141.6 958.7,1124.8"/><polygon points="994.0,1152.4 1008.3,1162.8 1002.8,1179.6 985.2,1179.6 979.7,1162.8"/><polygon points="1109.6,681.2 1126.2,693.3 1119.9,712.8 1099.3,712.8 1093.0,693.3"/><polygon points="1216.7,876.2 1233.3,888.3 1227.0,907.8 1206.4,907.8 1200.1,888.3"/><polygon points="1300.6,1111.9 1314.9,1122.3 1309.4,1139.1 1291.8,1139.1 1286.3,1122.3"/><polygon points="1340.0,1139.4 1354.3,1149.8 1348.8,1166.6 1331.2,1166.6 1325.7,1149.8"/><polygon points="1363.3,1197.4 1377.6,1207.8 1372.1,1224.6 1354.5,1224.6 1349.0,1207.8"/><polygon points="1515.3,1139.4 1529.6,1149.8 1524.1,1166.6 1506.5,1166.6 1501.0,1149.8"/><polygon points="1538.0,1186.4 1552.3,1196.8 1546.8,1213.6 1529.2,1213.6 1523.7,1196.8"/><polygon points="1646.0,1176.9 1660.3,1187.3 1654.8,1204.1 1637.2,1204.1 1631.7,1187.3"/><polygon points="1675.6,1192.9 1689.9,1203.3 1684.4,1220.1 1666.8,1220.1 1661.3,1203.3"/><polygon points="1788.4,1152.4 1802.7,1162.8 1797.2,1179.6 1779.6,1179.6 1774.1,1162.8"/><polygon points="1817.0,1124.9 1831.3,1135.3 1825.8,1152.1 1808.2,1152.1 1802.7,1135.3"/><polygon points="1843.3,1174.9 1857.6,1185.3 1852.1,1202.1 1834.5,1202.1 1829.0,1185.3"/><polygon points="1859.4,1212.4 1873.7,1222.8 1868.2,1239.6 1850.6,1239.6 1845.1,1222.8"/><polygon points="1942.9,1173.4 1957.2,1183.8 1951.7,1200.6 1934.1,1200.6 1928.6,1183.8"/><polygon points="1994.6,1173.4 2008.9,1183.8 2003.4,1200.6 1985.8,1200.6 1980.3,1183.8"/><polygon points="2045.4,1174.4 2059.7,1184.8 2054.2,1201.6 2036.6,1201.6 2031.1,1184.8"/><polygon points="2129.7,1161.4 2144.0,1171.8 2138.5,1188.6 2120.9,1188.6 2115.4,1171.8"/><polygon points="2181.0,1207.4 2195.3,1217.8 2189.8,1234.6 2172.2,1234.6 2166.7,1217.8"/><polygon points="2331.7,1172.4 2346.0,1182.8 2340.5,1199.6 2322.9,1199.6 2317.4,1182.8"/><polygon points="1398.0,865.2 1414.5,881.0 1398.0,896.8 1381.5,881.0"/><polygon points="1589.0,252.0 1605.0,268.0 1589.0,284.0 1573.0,268.0"/><polygon points="2220.7,758.0 2237.2,774.0 2220.7,790.0 2204.2,774.0"/><polygon points="1589.0,202.0 1605.0,234.5 1573.0,234.5"/><polygon points="2220.7,707.5 2236.7,738.5 2204.7,738.5"/></g>
<defs><clipPath id="c1_0"><rect x="132.0" y="957.8" width="50.0" height="54.6"/><rect x="151.6" y="957.8" width="5.8" height="63.0"/></clipPath><clipPath id="c1_1"><rect x="132.0" y="719.2" width="50.0" height="54.6"/><rect x="151.6" y="719.2" width="5.8" height="63.0"/></clipPath><clipPath id="c1_2"><rect x="619.7" y="1505.0" width="50.0" height="54.6"/><rect x="639.2" y="1505.0" width="5.8" height="63.0"/></clipPath></defs>
<g font-family="Liberation Sans, Arial, sans-serif" font-size="59" fill="#000"><text x="282.7" y="1495.0">0</text><text x="173.7" y="1256.4">5000</text><text x="137.0" y="1017.8" clip-path="url(#c1_0)">1</text><text x="167.9" y="1017.8">0,000</text><text x="137.0" y="779.2" clip-path="url(#c1_1)">1</text><text x="167.9" y="779.2">5,000</text><text x="135.0" y="540.7">20,000</text><text x="135.0" y="302.1">25,000</text><text x="135.0" y="63.5">30,000</text><text x="349.1" y="1565.0">0</text><text x="624.7" y="1565.0" clip-path="url(#c1_2)">1</text><text x="655.5" y="1565.0">000</text><text x="945.4" y="1565.0">2000</text><text x="1268.2" y="1565.0">3000</text><text x="1591.0" y="1565.0">4000</text><text x="1913.8" y="1565.0">5000</text><text x="2236.6" y="1565.0">6000</text></g>
<g font-family="Liberation Sans, Arial, sans-serif" font-size="72"><text x="1388" y="1691">2</text><text x="1430" y="1691">θ</text><text x="1509" y="1691">(</text><text x="1533" y="1669.5" font-size="50">o</text><text x="1560.5" y="1691">)</text></g>
<text font-family="Liberation Sans, Arial, sans-serif" font-size="72" transform="translate(81.5,760.9) rotate(-90)" text-anchor="middle" textLength="449" lengthAdjust="spacingAndGlyphs">Intensity (a.u.)</text>
<rect x="442.5" y="81.7" width="1043.8" height="374.3" fill="#fff" stroke="#404040" stroke-width="3"/>
<line x1="462" y1="123.5" x2="518.5" y2="123.5" stroke="#CC9EFF" stroke-width="9.5"/>
<line x1="462" y1="193" x2="518.5" y2="193" stroke="#06236A" stroke-width="9.5"/>
<g fill="#C00000"><polygon points="490.3,239.8 508.8,259.3 490.3,278.8 471.8,259.3"/><polygon points="491.0,308.0 508.7,343.2 473.3,343.2"/><polygon points="492.8,376.6 511.1,389.9 504.1,411.4 481.5,411.4 474.5,389.9"/></g>
<g font-family="Liberation Sans, Arial, sans-serif" font-size="58.7" fill="#000"><text x="539.9" y="151.7">Ni/SiO</text><text x="713.4" y="163.7" font-size="38.5">2</text><text x="736" y="151.7">(RH)/</text><text x="875.5" y="151.7">MgO</text><text x="1013.9" y="151.7">(freshly prepared)</text><text x="539.9" y="218.0">Ni/SiO</text><text x="713.4" y="230.0" font-size="38.5">2</text><text x="736" y="218.0">(RH)/</text><text x="875.5" y="218.0">MgO</text><text x="1013.9" y="218.0">(after use)</text><text x="539.9" y="284">NiO</text><text x="539.9" y="351">MgO</text><text x="539.4" y="417.4">ZrO<tspan font-size="38.5" dy="12">2</tspan></text></g>
</svg></body></html>
